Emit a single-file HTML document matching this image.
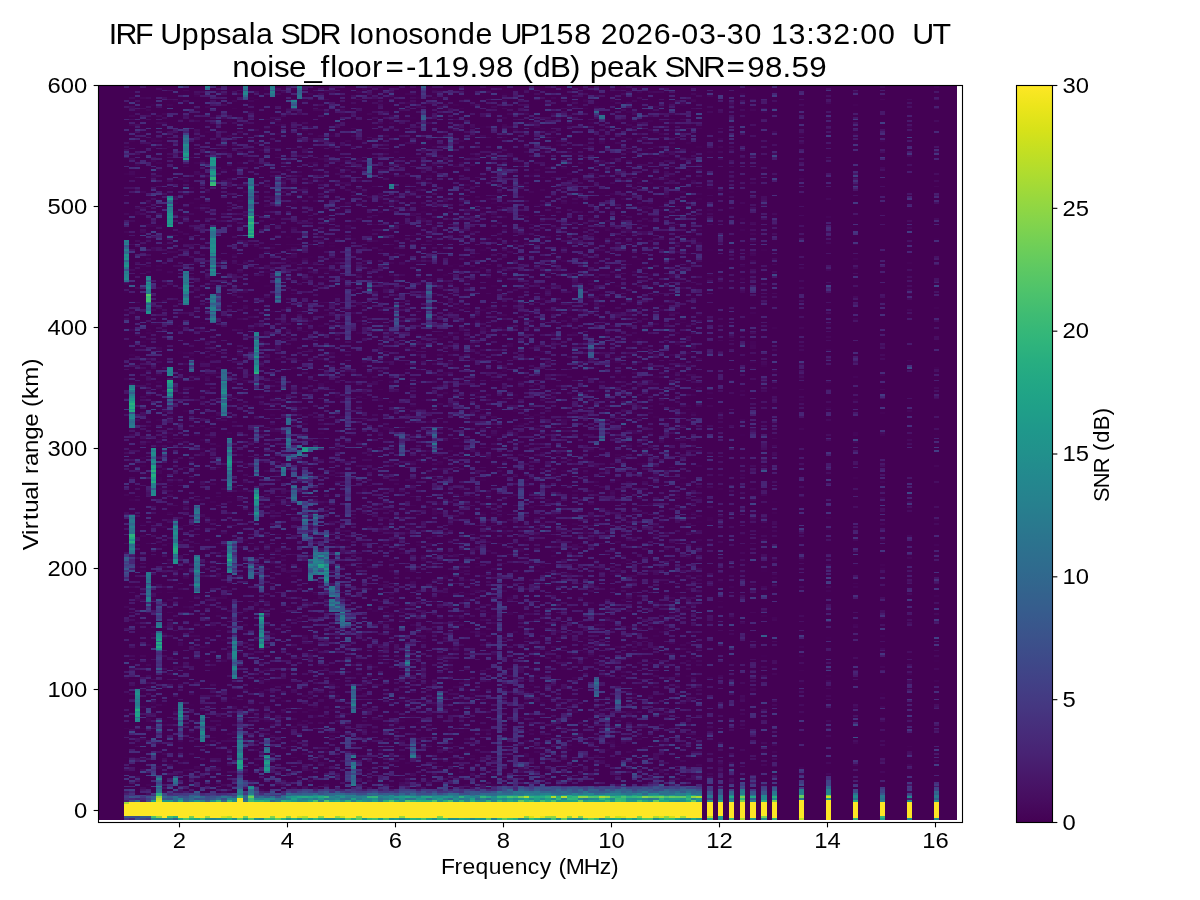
<!DOCTYPE html>
<html><head><meta charset="utf-8"><title>Ionogram</title>
<style>
html,body{margin:0;padding:0;background:#fff;width:1200px;height:900px;overflow:hidden}
svg,canvas{position:absolute;left:0;top:0}
text{font-family:"Liberation Sans",sans-serif;fill:#000;white-space:pre}
</style></head><body>
<svg width="1200" height="900" shape-rendering="crispEdges">
<defs><linearGradient id="vir" x1="0" y1="1" x2="0" y2="0"><stop offset="0.0000" stop-color="#440154"/><stop offset="0.0314" stop-color="#470d60"/><stop offset="0.0627" stop-color="#48186a"/><stop offset="0.0941" stop-color="#482374"/><stop offset="0.1255" stop-color="#472d7b"/><stop offset="0.1569" stop-color="#453781"/><stop offset="0.1882" stop-color="#424086"/><stop offset="0.2196" stop-color="#3e4989"/><stop offset="0.2510" stop-color="#3b528b"/><stop offset="0.2824" stop-color="#375b8d"/><stop offset="0.3137" stop-color="#33638d"/><stop offset="0.3451" stop-color="#2f6b8e"/><stop offset="0.3765" stop-color="#2c728e"/><stop offset="0.4078" stop-color="#297a8e"/><stop offset="0.4392" stop-color="#26828e"/><stop offset="0.4706" stop-color="#23898e"/><stop offset="0.5020" stop-color="#21918c"/><stop offset="0.5333" stop-color="#1f988b"/><stop offset="0.5647" stop-color="#1fa088"/><stop offset="0.5961" stop-color="#22a785"/><stop offset="0.6275" stop-color="#28ae80"/><stop offset="0.6588" stop-color="#32b67a"/><stop offset="0.6902" stop-color="#3fbc73"/><stop offset="0.7216" stop-color="#4ec36b"/><stop offset="0.7529" stop-color="#5ec962"/><stop offset="0.7843" stop-color="#70cf57"/><stop offset="0.8157" stop-color="#84d44b"/><stop offset="0.8471" stop-color="#98d83e"/><stop offset="0.8784" stop-color="#addc30"/><stop offset="0.9098" stop-color="#c2df23"/><stop offset="0.9412" stop-color="#d8e219"/><stop offset="0.9725" stop-color="#ece51b"/><stop offset="1" stop-color="#fde725"/></linearGradient></defs>
<rect x="99" y="86" width="858" height="734" fill="#440154"/>
<rect x="124" y="86" width="5" height="700" fill="#43115f"/><rect x="129" y="86" width="6" height="700" fill="#421963"/><rect x="135" y="86" width="5" height="700" fill="#430f5e"/><rect x="140" y="86" width="6" height="700" fill="#45095c"/><rect x="146" y="86" width="5" height="700" fill="#431661"/><rect x="151" y="86" width="5" height="700" fill="#431561"/><rect x="156" y="86" width="6" height="700" fill="#431462"/><rect x="162" y="86" width="5" height="700" fill="#45095b"/><rect x="167" y="86" width="6" height="700" fill="#421560"/><rect x="173" y="86" width="5" height="700" fill="#43125f"/><rect x="178" y="86" width="5" height="700" fill="#440c5d"/><rect x="183" y="86" width="6" height="700" fill="#421561"/><rect x="189" y="86" width="5" height="700" fill="#450a5c"/><rect x="194" y="86" width="6" height="700" fill="#43105e"/><rect x="200" y="86" width="5" height="700" fill="#440c5c"/><rect x="205" y="86" width="5" height="700" fill="#450b5d"/><rect x="210" y="86" width="6" height="700" fill="#411b63"/><rect x="216" y="86" width="5" height="700" fill="#440a5c"/><rect x="221" y="86" width="6" height="700" fill="#43105f"/><rect x="227" y="86" width="5" height="700" fill="#421661"/><rect x="232" y="86" width="5" height="700" fill="#431462"/><rect x="237" y="86" width="6" height="700" fill="#431361"/><rect x="243" y="86" width="5" height="700" fill="#440d5e"/><rect x="248" y="86" width="6" height="700" fill="#421661"/><rect x="254" y="86" width="5" height="700" fill="#411a63"/><rect x="259" y="86" width="5" height="700" fill="#431260"/><rect x="264" y="86" width="6" height="700" fill="#44105f"/><rect x="270" y="86" width="5" height="700" fill="#450c5d"/><rect x="275" y="86" width="6" height="700" fill="#440f60"/><rect x="281" y="86" width="5" height="700" fill="#450d5e"/><rect x="286" y="86" width="5" height="700" fill="#440e5e"/><rect x="291" y="86" width="6" height="700" fill="#441060"/><rect x="297" y="86" width="5" height="700" fill="#440f5f"/><rect x="302" y="86" width="6" height="700" fill="#441261"/><rect x="308" y="86" width="5" height="700" fill="#44105f"/><rect x="313" y="86" width="5" height="700" fill="#431160"/><rect x="318" y="86" width="6" height="700" fill="#440f5f"/><rect x="324" y="86" width="5" height="700" fill="#431361"/><rect x="329" y="86" width="6" height="700" fill="#441060"/><rect x="335" y="86" width="5" height="700" fill="#441161"/><rect x="340" y="86" width="5" height="700" fill="#440e5e"/><rect x="345" y="86" width="6" height="700" fill="#451868"/><rect x="351" y="86" width="5" height="700" fill="#431261"/><rect x="356" y="86" width="6" height="700" fill="#450a5c"/><rect x="362" y="86" width="5" height="700" fill="#45095c"/><rect x="367" y="86" width="5" height="700" fill="#450e5f"/><rect x="372" y="86" width="6" height="700" fill="#45085b"/><rect x="378" y="86" width="5" height="700" fill="#450a5c"/><rect x="383" y="86" width="6" height="700" fill="#450c5e"/><rect x="389" y="86" width="5" height="700" fill="#450b5d"/><rect x="394" y="86" width="5" height="700" fill="#450d5f"/><rect x="399" y="86" width="6" height="700" fill="#450c5e"/><rect x="405" y="86" width="5" height="700" fill="#450c5e"/><rect x="410" y="86" width="6" height="700" fill="#450e60"/><rect x="416" y="86" width="5" height="700" fill="#450a5c"/><rect x="421" y="86" width="5" height="700" fill="#450e60"/><rect x="426" y="86" width="6" height="700" fill="#450e5f"/><rect x="432" y="86" width="5" height="700" fill="#450e5f"/><rect x="437" y="86" width="6" height="700" fill="#450e5f"/><rect x="443" y="86" width="5" height="700" fill="#450a5d"/><rect x="448" y="86" width="5" height="700" fill="#450d5f"/><rect x="453" y="86" width="6" height="700" fill="#450b5d"/><rect x="459" y="86" width="5" height="700" fill="#450b5d"/><rect x="464" y="86" width="6" height="700" fill="#450d5f"/><rect x="470" y="86" width="5" height="700" fill="#450b5d"/><rect x="475" y="86" width="5" height="700" fill="#450a5c"/><rect x="480" y="86" width="6" height="700" fill="#450a5c"/><rect x="486" y="86" width="5" height="700" fill="#45095c"/><rect x="491" y="86" width="6" height="700" fill="#45095b"/><rect x="497" y="86" width="5" height="700" fill="#451666"/><rect x="502" y="86" width="5" height="700" fill="#450c5e"/><rect x="507" y="86" width="6" height="700" fill="#45095b"/><rect x="513" y="86" width="5" height="700" fill="#451163"/><rect x="518" y="86" width="6" height="700" fill="#450f61"/><rect x="524" y="86" width="5" height="700" fill="#450b5d"/><rect x="529" y="86" width="5" height="700" fill="#450c5e"/><rect x="534" y="86" width="6" height="700" fill="#450c5e"/><rect x="540" y="86" width="5" height="700" fill="#450b5d"/><rect x="545" y="86" width="6" height="700" fill="#450c5e"/><rect x="551" y="86" width="5" height="700" fill="#450c5e"/><rect x="556" y="86" width="5" height="700" fill="#450c5e"/><rect x="561" y="86" width="6" height="700" fill="#450b5e"/><rect x="567" y="86" width="5" height="700" fill="#450b5d"/><rect x="572" y="86" width="6" height="700" fill="#450d5f"/><rect x="578" y="86" width="5" height="700" fill="#450d5f"/><rect x="583" y="86" width="5" height="700" fill="#450c5e"/><rect x="588" y="86" width="6" height="700" fill="#450e5f"/><rect x="594" y="86" width="5" height="700" fill="#450e5f"/><rect x="599" y="86" width="6" height="700" fill="#450e5f"/><rect x="605" y="86" width="5" height="700" fill="#450c5e"/><rect x="610" y="86" width="5" height="700" fill="#450b5d"/><rect x="615" y="86" width="6" height="700" fill="#450e60"/><rect x="621" y="86" width="5" height="700" fill="#450e5f"/><rect x="626" y="86" width="6" height="700" fill="#450c5e"/><rect x="632" y="86" width="5" height="700" fill="#450c5e"/><rect x="637" y="86" width="5" height="700" fill="#450b5d"/><rect x="642" y="86" width="6" height="700" fill="#450d5f"/><rect x="648" y="86" width="5" height="700" fill="#450b5d"/><rect x="653" y="86" width="6" height="700" fill="#450b5d"/><rect x="659" y="86" width="5" height="700" fill="#45095c"/><rect x="664" y="86" width="5" height="700" fill="#450d5f"/><rect x="669" y="86" width="6" height="700" fill="#450c5e"/><rect x="675" y="86" width="5" height="700" fill="#450d5f"/><rect x="680" y="86" width="6" height="700" fill="#450b5d"/><rect x="686" y="86" width="5" height="700" fill="#45095c"/><rect x="691" y="86" width="5" height="700" fill="#450b5d"/><rect x="696" y="86" width="6" height="700" fill="#450b5d"/><rect x="707" y="86" width="6" height="700" fill="#45095b"/><rect x="718" y="86" width="5" height="700" fill="#450a5c"/><rect x="729" y="86" width="5" height="700" fill="#450b5d"/><rect x="740" y="86" width="5" height="700" fill="#45095b"/><rect x="750" y="86" width="6" height="700" fill="#450a5d"/><rect x="761" y="86" width="6" height="700" fill="#450b5d"/><rect x="772" y="86" width="5" height="700" fill="#450a5c"/><rect x="799" y="86" width="5" height="700" fill="#45095b"/><rect x="826" y="86" width="5" height="700" fill="#450b5d"/><rect x="853" y="86" width="5" height="700" fill="#450a5c"/><rect x="880" y="86" width="5" height="700" fill="#45085b"/><rect x="907" y="86" width="5" height="700" fill="#450a5c"/><rect x="934" y="86" width="5" height="700" fill="#45085b"/>
<rect x="1017" y="86" width="35" height="736" fill="url(#vir)"/>
</svg>
<canvas id="cv" width="858" height="734" style="left:99px;top:86px"></canvas>
<svg width="1200" height="900">
<g shape-rendering="crispEdges"><rect x="124" y="802" width="578" height="16" fill="#fde725"/><rect x="124" y="818" width="5" height="2" fill="#453581"/><rect x="124" y="816" width="5" height="2" fill="#3a548c"/><rect x="124" y="802" width="5" height="2" fill="#a5db36"/><rect x="124" y="800" width="5" height="2" fill="#481f70"/><rect x="124" y="798" width="5" height="2" fill="#46327e"/><rect x="124" y="796" width="5" height="2" fill="#443a83"/><rect x="124" y="795" width="5" height="1" fill="#453581"/><rect x="129" y="818" width="6" height="2" fill="#482878"/><rect x="129" y="816" width="6" height="2" fill="#3b518b"/><rect x="129" y="800" width="6" height="2" fill="#3d4d8a"/><rect x="129" y="798" width="6" height="2" fill="#482878"/><rect x="129" y="796" width="6" height="2" fill="#3a538b"/><rect x="129" y="795" width="6" height="1" fill="#46337f"/><rect x="135" y="818" width="5" height="2" fill="#39558c"/><rect x="135" y="816" width="5" height="2" fill="#3c4f8a"/><rect x="135" y="800" width="5" height="2" fill="#30698e"/><rect x="135" y="798" width="5" height="2" fill="#482173"/><rect x="135" y="796" width="5" height="2" fill="#3d4d8a"/><rect x="135" y="795" width="5" height="1" fill="#423f85"/><rect x="140" y="818" width="6" height="2" fill="#404688"/><rect x="140" y="816" width="6" height="2" fill="#355e8d"/><rect x="140" y="800" width="6" height="2" fill="#481d6f"/><rect x="140" y="798" width="6" height="2" fill="#482878"/><rect x="140" y="796" width="6" height="2" fill="#453581"/><rect x="140" y="795" width="6" height="1" fill="#423f85"/><rect x="146" y="818" width="5" height="2" fill="#433d84"/><rect x="146" y="816" width="5" height="2" fill="#375b8d"/><rect x="146" y="800" width="5" height="2" fill="#404688"/><rect x="146" y="798" width="5" height="2" fill="#433e85"/><rect x="146" y="796" width="5" height="2" fill="#3c508b"/><rect x="146" y="795" width="5" height="1" fill="#472d7b"/><rect x="151" y="818" width="5" height="2" fill="#24878e"/><rect x="151" y="816" width="5" height="2" fill="#48c16e"/><rect x="151" y="800" width="5" height="2" fill="#1fa188"/><rect x="151" y="798" width="5" height="2" fill="#38598c"/><rect x="151" y="796" width="5" height="2" fill="#355f8d"/><rect x="151" y="795" width="5" height="1" fill="#46327e"/><rect x="151" y="793" width="5" height="2" fill="#424086"/><rect x="156" y="818" width="6" height="2" fill="#277f8e"/><rect x="156" y="816" width="6" height="2" fill="#90d743"/><rect x="156" y="800" width="6" height="2" fill="#2a768e"/><rect x="156" y="798" width="6" height="2" fill="#287d8e"/><rect x="156" y="796" width="6" height="2" fill="#32648e"/><rect x="156" y="795" width="6" height="1" fill="#3d4d8a"/><rect x="156" y="793" width="6" height="2" fill="#453882"/><rect x="162" y="818" width="5" height="2" fill="#26828e"/><rect x="162" y="800" width="5" height="2" fill="#1f988b"/><rect x="162" y="798" width="5" height="2" fill="#3b528b"/><rect x="162" y="796" width="5" height="2" fill="#306a8e"/><rect x="162" y="795" width="5" height="1" fill="#3c508b"/><rect x="162" y="793" width="5" height="2" fill="#3d4d8a"/><rect x="167" y="818" width="6" height="2" fill="#26818e"/><rect x="167" y="816" width="6" height="2" fill="#44bf70"/><rect x="167" y="800" width="6" height="2" fill="#1f988b"/><rect x="167" y="798" width="6" height="2" fill="#3c4f8a"/><rect x="167" y="796" width="6" height="2" fill="#355e8d"/><rect x="167" y="795" width="6" height="1" fill="#453882"/><rect x="167" y="793" width="6" height="2" fill="#482979"/><rect x="173" y="818" width="5" height="2" fill="#33628d"/><rect x="173" y="816" width="5" height="2" fill="#2ab07f"/><rect x="173" y="800" width="5" height="2" fill="#2d708e"/><rect x="173" y="798" width="5" height="2" fill="#30698e"/><rect x="173" y="796" width="5" height="2" fill="#2c718e"/><rect x="173" y="795" width="5" height="1" fill="#46337f"/><rect x="173" y="793" width="5" height="2" fill="#453882"/><rect x="178" y="818" width="5" height="2" fill="#25ac82"/><rect x="178" y="800" width="5" height="2" fill="#22a785"/><rect x="178" y="798" width="5" height="2" fill="#24878e"/><rect x="178" y="796" width="5" height="2" fill="#3a538b"/><rect x="178" y="795" width="5" height="1" fill="#404588"/><rect x="178" y="793" width="5" height="2" fill="#463480"/><rect x="183" y="818" width="6" height="2" fill="#52c569"/><rect x="183" y="800" width="6" height="2" fill="#31668e"/><rect x="183" y="798" width="6" height="2" fill="#375a8c"/><rect x="183" y="796" width="6" height="2" fill="#3b518b"/><rect x="183" y="795" width="6" height="1" fill="#443b84"/><rect x="183" y="793" width="6" height="2" fill="#443983"/><rect x="189" y="818" width="5" height="2" fill="#29af7f"/><rect x="189" y="816" width="5" height="2" fill="#7ad151"/><rect x="189" y="800" width="5" height="2" fill="#26818e"/><rect x="189" y="798" width="5" height="2" fill="#31688e"/><rect x="189" y="796" width="5" height="2" fill="#33638d"/><rect x="189" y="795" width="5" height="1" fill="#355e8d"/><rect x="189" y="793" width="5" height="2" fill="#424186"/><rect x="194" y="818" width="6" height="2" fill="#23a983"/><rect x="194" y="800" width="6" height="2" fill="#1f998a"/><rect x="194" y="798" width="6" height="2" fill="#3b518b"/><rect x="194" y="796" width="6" height="2" fill="#2c738e"/><rect x="194" y="795" width="6" height="1" fill="#39558c"/><rect x="194" y="793" width="6" height="2" fill="#3f4889"/><rect x="200" y="818" width="5" height="2" fill="#42be71"/><rect x="200" y="800" width="5" height="2" fill="#277f8e"/><rect x="200" y="798" width="5" height="2" fill="#39558c"/><rect x="200" y="796" width="5" height="2" fill="#31668e"/><rect x="200" y="795" width="5" height="1" fill="#46337f"/><rect x="200" y="793" width="5" height="2" fill="#482878"/><rect x="205" y="818" width="5" height="2" fill="#21918c"/><rect x="205" y="816" width="5" height="2" fill="#9dd93b"/><rect x="205" y="800" width="5" height="2" fill="#365c8d"/><rect x="205" y="798" width="5" height="2" fill="#3d4e8a"/><rect x="205" y="796" width="5" height="2" fill="#3d4d8a"/><rect x="205" y="795" width="5" height="1" fill="#463480"/><rect x="205" y="793" width="5" height="2" fill="#463480"/><rect x="210" y="818" width="6" height="2" fill="#26828e"/><rect x="210" y="800" width="6" height="2" fill="#20938c"/><rect x="210" y="798" width="6" height="2" fill="#38598c"/><rect x="210" y="796" width="6" height="2" fill="#3b528b"/><rect x="210" y="795" width="6" height="1" fill="#424186"/><rect x="210" y="793" width="6" height="2" fill="#463480"/><rect x="216" y="818" width="5" height="2" fill="#238a8d"/><rect x="216" y="800" width="5" height="2" fill="#34b679"/><rect x="216" y="798" width="5" height="2" fill="#2e6e8e"/><rect x="216" y="796" width="5" height="2" fill="#355f8d"/><rect x="216" y="795" width="5" height="1" fill="#463480"/><rect x="216" y="793" width="5" height="2" fill="#482979"/><rect x="221" y="818" width="6" height="2" fill="#1e9c89"/><rect x="221" y="816" width="6" height="2" fill="#d5e21a"/><rect x="221" y="800" width="6" height="2" fill="#31678e"/><rect x="221" y="798" width="6" height="2" fill="#3c4f8a"/><rect x="221" y="796" width="6" height="2" fill="#2a768e"/><rect x="221" y="795" width="6" height="1" fill="#3e4989"/><rect x="221" y="793" width="6" height="2" fill="#472a7a"/><rect x="227" y="818" width="5" height="2" fill="#25ac82"/><rect x="227" y="816" width="5" height="2" fill="#b2dd2d"/><rect x="227" y="800" width="5" height="2" fill="#32b67a"/><rect x="227" y="798" width="5" height="2" fill="#24878e"/><rect x="227" y="796" width="5" height="2" fill="#306a8e"/><rect x="227" y="795" width="5" height="1" fill="#433d84"/><rect x="227" y="793" width="5" height="2" fill="#463480"/><rect x="232" y="818" width="5" height="2" fill="#218e8d"/><rect x="232" y="800" width="5" height="2" fill="#228b8d"/><rect x="232" y="798" width="5" height="2" fill="#26828e"/><rect x="232" y="796" width="5" height="2" fill="#39568c"/><rect x="232" y="795" width="5" height="1" fill="#443a83"/><rect x="232" y="793" width="5" height="2" fill="#404688"/><rect x="237" y="818" width="6" height="2" fill="#63cb5f"/><rect x="237" y="800" width="6" height="2" fill="#21a585"/><rect x="237" y="798" width="6" height="2" fill="#25848e"/><rect x="237" y="796" width="6" height="2" fill="#2f6c8e"/><rect x="237" y="795" width="6" height="1" fill="#443b84"/><rect x="237" y="793" width="6" height="2" fill="#443a83"/><rect x="243" y="818" width="5" height="2" fill="#1e9d89"/><rect x="243" y="816" width="5" height="2" fill="#7cd250"/><rect x="243" y="800" width="5" height="2" fill="#2c738e"/><rect x="243" y="798" width="5" height="2" fill="#34608d"/><rect x="243" y="796" width="5" height="2" fill="#30698e"/><rect x="243" y="795" width="5" height="1" fill="#355e8d"/><rect x="243" y="793" width="5" height="2" fill="#453882"/><rect x="248" y="818" width="6" height="2" fill="#5ac864"/><rect x="248" y="800" width="6" height="2" fill="#2eb37c"/><rect x="248" y="798" width="6" height="2" fill="#31678e"/><rect x="248" y="796" width="6" height="2" fill="#3c508b"/><rect x="248" y="795" width="6" height="1" fill="#443b84"/><rect x="248" y="793" width="6" height="2" fill="#472d7b"/><rect x="254" y="818" width="5" height="2" fill="#21918c"/><rect x="254" y="800" width="5" height="2" fill="#28ae80"/><rect x="254" y="798" width="5" height="2" fill="#24868e"/><rect x="254" y="796" width="5" height="2" fill="#355e8d"/><rect x="254" y="795" width="5" height="1" fill="#3c508b"/><rect x="254" y="793" width="5" height="2" fill="#404688"/><rect x="259" y="818" width="5" height="2" fill="#24878e"/><rect x="259" y="800" width="5" height="2" fill="#29af7f"/><rect x="259" y="798" width="5" height="2" fill="#26828e"/><rect x="259" y="796" width="5" height="2" fill="#2f6c8e"/><rect x="259" y="795" width="5" height="1" fill="#3f4788"/><rect x="259" y="793" width="5" height="2" fill="#472d7b"/><rect x="264" y="818" width="6" height="2" fill="#42be71"/><rect x="264" y="800" width="6" height="2" fill="#21a585"/><rect x="264" y="798" width="6" height="2" fill="#218f8d"/><rect x="264" y="796" width="6" height="2" fill="#375a8c"/><rect x="264" y="795" width="6" height="1" fill="#414487"/><rect x="264" y="793" width="6" height="2" fill="#3e4c8a"/><rect x="270" y="818" width="5" height="2" fill="#38b977"/><rect x="270" y="816" width="5" height="2" fill="#86d549"/><rect x="270" y="800" width="5" height="2" fill="#31668e"/><rect x="270" y="798" width="5" height="2" fill="#238a8d"/><rect x="270" y="796" width="5" height="2" fill="#2e6f8e"/><rect x="270" y="795" width="5" height="1" fill="#453781"/><rect x="270" y="793" width="5" height="2" fill="#3f4788"/><rect x="275" y="818" width="6" height="2" fill="#63cb5f"/><rect x="275" y="800" width="6" height="2" fill="#297a8e"/><rect x="275" y="798" width="6" height="2" fill="#2c738e"/><rect x="275" y="796" width="6" height="2" fill="#3e4c8a"/><rect x="275" y="795" width="6" height="1" fill="#46307e"/><rect x="275" y="793" width="6" height="2" fill="#3d4d8a"/><rect x="281" y="818" width="5" height="2" fill="#2fb47c"/><rect x="281" y="800" width="5" height="2" fill="#2cb17e"/><rect x="281" y="798" width="5" height="2" fill="#2f6c8e"/><rect x="281" y="796" width="5" height="2" fill="#2c718e"/><rect x="281" y="795" width="5" height="1" fill="#38588c"/><rect x="281" y="793" width="5" height="2" fill="#472e7c"/><rect x="286" y="818" width="5" height="2" fill="#1f948c"/><rect x="286" y="816" width="5" height="2" fill="#93d741"/><rect x="286" y="800" width="5" height="2" fill="#22a785"/><rect x="286" y="798" width="5" height="2" fill="#29798e"/><rect x="286" y="796" width="5" height="2" fill="#20928c"/><rect x="286" y="795" width="5" height="1" fill="#32658e"/><rect x="286" y="793" width="5" height="2" fill="#2e6d8e"/><rect x="286" y="791" width="5" height="2" fill="#433e85"/><rect x="286" y="789" width="5" height="2" fill="#472e7c"/><rect x="291" y="818" width="6" height="2" fill="#28ae80"/><rect x="291" y="800" width="6" height="2" fill="#1f9a8a"/><rect x="291" y="798" width="6" height="2" fill="#1fa287"/><rect x="291" y="796" width="6" height="2" fill="#1f988b"/><rect x="291" y="795" width="6" height="1" fill="#2b758e"/><rect x="291" y="793" width="6" height="2" fill="#34608d"/><rect x="291" y="791" width="6" height="2" fill="#46307e"/><rect x="291" y="789" width="6" height="2" fill="#472d7b"/><rect x="297" y="818" width="5" height="2" fill="#218f8d"/><rect x="297" y="816" width="5" height="2" fill="#d2e21b"/><rect x="297" y="800" width="5" height="2" fill="#24868e"/><rect x="297" y="798" width="5" height="2" fill="#24868e"/><rect x="297" y="796" width="5" height="2" fill="#21a685"/><rect x="297" y="795" width="5" height="1" fill="#2a768e"/><rect x="297" y="793" width="5" height="2" fill="#375a8c"/><rect x="297" y="791" width="5" height="2" fill="#404588"/><rect x="297" y="789" width="5" height="2" fill="#46327e"/><rect x="302" y="818" width="6" height="2" fill="#40bd72"/><rect x="302" y="816" width="6" height="2" fill="#b8de29"/><rect x="302" y="800" width="6" height="2" fill="#228c8d"/><rect x="302" y="798" width="6" height="2" fill="#297a8e"/><rect x="302" y="796" width="6" height="2" fill="#24aa83"/><rect x="302" y="795" width="6" height="1" fill="#2b748e"/><rect x="302" y="793" width="6" height="2" fill="#33628d"/><rect x="302" y="791" width="6" height="2" fill="#3d4e8a"/><rect x="302" y="789" width="6" height="2" fill="#424086"/><rect x="308" y="818" width="5" height="2" fill="#20a386"/><rect x="308" y="800" width="5" height="2" fill="#1fa188"/><rect x="308" y="798" width="5" height="2" fill="#23898e"/><rect x="308" y="796" width="5" height="2" fill="#20a486"/><rect x="308" y="795" width="5" height="1" fill="#2c728e"/><rect x="308" y="793" width="5" height="2" fill="#34618d"/><rect x="308" y="791" width="5" height="2" fill="#414287"/><rect x="308" y="789" width="5" height="2" fill="#424186"/><rect x="313" y="818" width="5" height="2" fill="#35b779"/><rect x="313" y="800" width="5" height="2" fill="#4ac16d"/><rect x="313" y="798" width="5" height="2" fill="#29798e"/><rect x="313" y="796" width="5" height="2" fill="#1e9c89"/><rect x="313" y="795" width="5" height="1" fill="#24868e"/><rect x="313" y="793" width="5" height="2" fill="#2f6b8e"/><rect x="313" y="791" width="5" height="2" fill="#453581"/><rect x="313" y="789" width="5" height="2" fill="#481f70"/><rect x="318" y="818" width="6" height="2" fill="#20a386"/><rect x="318" y="816" width="6" height="2" fill="#93d741"/><rect x="318" y="800" width="6" height="2" fill="#277e8e"/><rect x="318" y="798" width="6" height="2" fill="#20938c"/><rect x="318" y="796" width="6" height="2" fill="#24aa83"/><rect x="318" y="795" width="6" height="1" fill="#25848e"/><rect x="318" y="793" width="6" height="2" fill="#3a538b"/><rect x="318" y="791" width="6" height="2" fill="#3e4c8a"/><rect x="318" y="789" width="6" height="2" fill="#453581"/><rect x="324" y="818" width="5" height="2" fill="#228c8d"/><rect x="324" y="800" width="5" height="2" fill="#4ec36b"/><rect x="324" y="798" width="5" height="2" fill="#2a768e"/><rect x="324" y="796" width="5" height="2" fill="#31b57b"/><rect x="324" y="795" width="5" height="1" fill="#2d708e"/><rect x="324" y="793" width="5" height="2" fill="#355f8d"/><rect x="324" y="791" width="5" height="2" fill="#39568c"/><rect x="324" y="789" width="5" height="2" fill="#433d84"/><rect x="329" y="818" width="6" height="2" fill="#228d8d"/><rect x="329" y="800" width="6" height="2" fill="#1fa187"/><rect x="329" y="798" width="6" height="2" fill="#277e8e"/><rect x="329" y="796" width="6" height="2" fill="#25848e"/><rect x="329" y="795" width="6" height="1" fill="#2e6d8e"/><rect x="329" y="793" width="6" height="2" fill="#31678e"/><rect x="329" y="791" width="6" height="2" fill="#46307e"/><rect x="329" y="789" width="6" height="2" fill="#46327e"/><rect x="335" y="818" width="5" height="2" fill="#20a386"/><rect x="335" y="816" width="5" height="2" fill="#9dd93b"/><rect x="335" y="800" width="5" height="2" fill="#24aa83"/><rect x="335" y="798" width="5" height="2" fill="#23898e"/><rect x="335" y="796" width="5" height="2" fill="#287c8e"/><rect x="335" y="795" width="5" height="1" fill="#24878e"/><rect x="335" y="793" width="5" height="2" fill="#30698e"/><rect x="335" y="791" width="5" height="2" fill="#39558c"/><rect x="335" y="789" width="5" height="2" fill="#481f70"/><rect x="340" y="818" width="5" height="2" fill="#1f958b"/><rect x="340" y="816" width="5" height="2" fill="#d0e11c"/><rect x="340" y="800" width="5" height="2" fill="#218e8d"/><rect x="340" y="798" width="5" height="2" fill="#2d718e"/><rect x="340" y="796" width="5" height="2" fill="#20938c"/><rect x="340" y="795" width="5" height="1" fill="#25848e"/><rect x="340" y="793" width="5" height="2" fill="#306a8e"/><rect x="340" y="791" width="5" height="2" fill="#443a83"/><rect x="340" y="789" width="5" height="2" fill="#482071"/><rect x="345" y="818" width="6" height="2" fill="#58c765"/><rect x="345" y="800" width="6" height="2" fill="#2ab07f"/><rect x="345" y="798" width="6" height="2" fill="#2e6e8e"/><rect x="345" y="796" width="6" height="2" fill="#287c8e"/><rect x="345" y="795" width="6" height="1" fill="#287c8e"/><rect x="345" y="793" width="6" height="2" fill="#365d8d"/><rect x="345" y="791" width="6" height="2" fill="#46327e"/><rect x="345" y="789" width="6" height="2" fill="#424186"/><rect x="351" y="818" width="5" height="2" fill="#2db27d"/><rect x="351" y="800" width="5" height="2" fill="#277f8e"/><rect x="351" y="798" width="5" height="2" fill="#1f9f88"/><rect x="351" y="796" width="5" height="2" fill="#287d8e"/><rect x="351" y="795" width="5" height="1" fill="#26828e"/><rect x="351" y="793" width="5" height="2" fill="#355e8d"/><rect x="351" y="791" width="5" height="2" fill="#433e85"/><rect x="351" y="789" width="5" height="2" fill="#46327e"/><rect x="356" y="818" width="6" height="2" fill="#58c765"/><rect x="356" y="816" width="6" height="2" fill="#86d549"/><rect x="356" y="800" width="6" height="2" fill="#1fa287"/><rect x="356" y="798" width="6" height="2" fill="#2a778e"/><rect x="356" y="796" width="6" height="2" fill="#277f8e"/><rect x="356" y="795" width="6" height="1" fill="#31668e"/><rect x="356" y="793" width="6" height="2" fill="#3c4f8a"/><rect x="356" y="791" width="6" height="2" fill="#453882"/><rect x="356" y="789" width="6" height="2" fill="#482878"/><rect x="362" y="818" width="5" height="2" fill="#1f988b"/><rect x="362" y="800" width="5" height="2" fill="#21908d"/><rect x="362" y="798" width="5" height="2" fill="#23888e"/><rect x="362" y="796" width="5" height="2" fill="#25838e"/><rect x="362" y="795" width="5" height="1" fill="#2e6e8e"/><rect x="362" y="793" width="5" height="2" fill="#3d4e8a"/><rect x="362" y="791" width="5" height="2" fill="#443a83"/><rect x="362" y="789" width="5" height="2" fill="#481b6d"/><rect x="367" y="818" width="5" height="2" fill="#3aba76"/><rect x="367" y="800" width="5" height="2" fill="#24878e"/><rect x="367" y="798" width="5" height="2" fill="#24868e"/><rect x="367" y="796" width="5" height="2" fill="#2fb47c"/><rect x="367" y="795" width="5" height="1" fill="#32648e"/><rect x="367" y="793" width="5" height="2" fill="#306a8e"/><rect x="367" y="791" width="5" height="2" fill="#424186"/><rect x="367" y="789" width="5" height="2" fill="#472f7d"/><rect x="372" y="818" width="6" height="2" fill="#48c16e"/><rect x="372" y="800" width="6" height="2" fill="#1fa188"/><rect x="372" y="798" width="6" height="2" fill="#1f948c"/><rect x="372" y="796" width="6" height="2" fill="#34b679"/><rect x="372" y="795" width="6" height="1" fill="#2e6e8e"/><rect x="372" y="793" width="6" height="2" fill="#2f6b8e"/><rect x="372" y="791" width="6" height="2" fill="#3e4c8a"/><rect x="372" y="789" width="6" height="2" fill="#453581"/><rect x="378" y="818" width="5" height="2" fill="#1fa188"/><rect x="378" y="800" width="5" height="2" fill="#287d8e"/><rect x="378" y="798" width="5" height="2" fill="#2d718e"/><rect x="378" y="796" width="5" height="2" fill="#287d8e"/><rect x="378" y="795" width="5" height="1" fill="#277e8e"/><rect x="378" y="793" width="5" height="2" fill="#39568c"/><rect x="378" y="791" width="5" height="2" fill="#453781"/><rect x="378" y="789" width="5" height="2" fill="#481d6f"/><rect x="383" y="818" width="6" height="2" fill="#4ac16d"/><rect x="383" y="800" width="6" height="2" fill="#27ad81"/><rect x="383" y="798" width="6" height="2" fill="#297a8e"/><rect x="383" y="796" width="6" height="2" fill="#24878e"/><rect x="383" y="795" width="6" height="1" fill="#2f6c8e"/><rect x="383" y="793" width="6" height="2" fill="#355e8d"/><rect x="383" y="791" width="6" height="2" fill="#453581"/><rect x="383" y="789" width="6" height="2" fill="#472d7b"/><rect x="389" y="818" width="5" height="2" fill="#1f958b"/><rect x="389" y="800" width="5" height="2" fill="#50c46a"/><rect x="389" y="798" width="5" height="2" fill="#228b8d"/><rect x="389" y="796" width="5" height="2" fill="#23888e"/><rect x="389" y="795" width="5" height="1" fill="#24878e"/><rect x="389" y="793" width="5" height="2" fill="#38598c"/><rect x="389" y="791" width="5" height="2" fill="#433e85"/><rect x="389" y="789" width="5" height="2" fill="#481a6c"/><rect x="394" y="818" width="5" height="2" fill="#1f9f88"/><rect x="394" y="800" width="5" height="2" fill="#1fa188"/><rect x="394" y="798" width="5" height="2" fill="#2b758e"/><rect x="394" y="796" width="5" height="2" fill="#1f988b"/><rect x="394" y="795" width="5" height="1" fill="#34608d"/><rect x="394" y="793" width="5" height="2" fill="#39568c"/><rect x="394" y="791" width="5" height="2" fill="#46337f"/><rect x="394" y="789" width="5" height="2" fill="#472c7a"/><rect x="399" y="818" width="6" height="2" fill="#25838e"/><rect x="399" y="816" width="6" height="2" fill="#9bd93c"/><rect x="399" y="800" width="6" height="2" fill="#228b8d"/><rect x="399" y="798" width="6" height="2" fill="#218e8d"/><rect x="399" y="796" width="6" height="2" fill="#1f9a8a"/><rect x="399" y="795" width="6" height="1" fill="#277e8e"/><rect x="399" y="793" width="6" height="2" fill="#32658e"/><rect x="399" y="791" width="6" height="2" fill="#3e4c8a"/><rect x="399" y="789" width="6" height="2" fill="#423f85"/><rect x="405" y="818" width="5" height="2" fill="#1fa088"/><rect x="405" y="800" width="5" height="2" fill="#52c569"/><rect x="405" y="798" width="5" height="2" fill="#2c718e"/><rect x="405" y="796" width="5" height="2" fill="#21a685"/><rect x="405" y="795" width="5" height="1" fill="#297a8e"/><rect x="405" y="793" width="5" height="2" fill="#3c4f8a"/><rect x="405" y="791" width="5" height="2" fill="#3c508b"/><rect x="405" y="789" width="5" height="2" fill="#423f85"/><rect x="410" y="818" width="6" height="2" fill="#2db27d"/><rect x="410" y="800" width="6" height="2" fill="#37b878"/><rect x="410" y="798" width="6" height="2" fill="#2d718e"/><rect x="410" y="796" width="6" height="2" fill="#1f9a8a"/><rect x="410" y="795" width="6" height="1" fill="#2b748e"/><rect x="410" y="793" width="6" height="2" fill="#2f6b8e"/><rect x="410" y="791" width="6" height="2" fill="#3c4f8a"/><rect x="410" y="789" width="6" height="2" fill="#433d84"/><rect x="416" y="818" width="5" height="2" fill="#28ae80"/><rect x="416" y="800" width="5" height="2" fill="#28ae80"/><rect x="416" y="798" width="5" height="2" fill="#1f948c"/><rect x="416" y="796" width="5" height="2" fill="#24878e"/><rect x="416" y="795" width="5" height="1" fill="#34618d"/><rect x="416" y="793" width="5" height="2" fill="#3b528b"/><rect x="416" y="791" width="5" height="2" fill="#433e85"/><rect x="416" y="789" width="5" height="2" fill="#481f70"/><rect x="421" y="818" width="5" height="2" fill="#4ac16d"/><rect x="421" y="800" width="5" height="2" fill="#24aa83"/><rect x="421" y="798" width="5" height="2" fill="#21918c"/><rect x="421" y="796" width="5" height="2" fill="#20a386"/><rect x="421" y="795" width="5" height="1" fill="#2c738e"/><rect x="421" y="793" width="5" height="2" fill="#3d4e8a"/><rect x="421" y="791" width="5" height="2" fill="#3c4f8a"/><rect x="421" y="789" width="5" height="2" fill="#443983"/><rect x="426" y="818" width="6" height="2" fill="#22a884"/><rect x="426" y="800" width="6" height="2" fill="#26ad81"/><rect x="426" y="798" width="6" height="2" fill="#2f6c8e"/><rect x="426" y="796" width="6" height="2" fill="#22a785"/><rect x="426" y="795" width="6" height="1" fill="#306a8e"/><rect x="426" y="793" width="6" height="2" fill="#3c508b"/><rect x="426" y="791" width="6" height="2" fill="#443a83"/><rect x="426" y="789" width="6" height="2" fill="#443983"/><rect x="432" y="818" width="5" height="2" fill="#21918c"/><rect x="432" y="800" width="5" height="2" fill="#50c46a"/><rect x="432" y="798" width="5" height="2" fill="#23888e"/><rect x="432" y="796" width="5" height="2" fill="#21918c"/><rect x="432" y="795" width="5" height="1" fill="#2c738e"/><rect x="432" y="793" width="5" height="2" fill="#31668e"/><rect x="432" y="791" width="5" height="2" fill="#3d4e8a"/><rect x="432" y="789" width="5" height="2" fill="#463480"/><rect x="437" y="818" width="6" height="2" fill="#2eb37c"/><rect x="437" y="816" width="6" height="2" fill="#89d548"/><rect x="437" y="800" width="6" height="2" fill="#228d8d"/><rect x="437" y="798" width="6" height="2" fill="#1f988b"/><rect x="437" y="796" width="6" height="2" fill="#228c8d"/><rect x="437" y="795" width="6" height="1" fill="#2a778e"/><rect x="437" y="793" width="6" height="2" fill="#3d4e8a"/><rect x="437" y="791" width="6" height="2" fill="#46327e"/><rect x="437" y="789" width="6" height="2" fill="#482576"/><rect x="443" y="818" width="5" height="2" fill="#32b67a"/><rect x="443" y="800" width="5" height="2" fill="#27ad81"/><rect x="443" y="798" width="5" height="2" fill="#297b8e"/><rect x="443" y="796" width="5" height="2" fill="#1f998a"/><rect x="443" y="795" width="5" height="1" fill="#2c728e"/><rect x="443" y="793" width="5" height="2" fill="#355e8d"/><rect x="443" y="791" width="5" height="2" fill="#463480"/><rect x="443" y="789" width="5" height="2" fill="#423f85"/><rect x="448" y="818" width="5" height="2" fill="#21908d"/><rect x="448" y="800" width="5" height="2" fill="#4ac16d"/><rect x="448" y="798" width="5" height="2" fill="#30698e"/><rect x="448" y="796" width="5" height="2" fill="#1f958b"/><rect x="448" y="795" width="5" height="1" fill="#26818e"/><rect x="448" y="793" width="5" height="2" fill="#2e6f8e"/><rect x="448" y="791" width="5" height="2" fill="#424186"/><rect x="448" y="789" width="5" height="2" fill="#482576"/><rect x="453" y="818" width="6" height="2" fill="#21918c"/><rect x="453" y="800" width="6" height="2" fill="#23898e"/><rect x="453" y="798" width="6" height="2" fill="#218e8d"/><rect x="453" y="796" width="6" height="2" fill="#26828e"/><rect x="453" y="795" width="6" height="1" fill="#2b758e"/><rect x="453" y="793" width="6" height="2" fill="#2e6f8e"/><rect x="453" y="791" width="6" height="2" fill="#453581"/><rect x="453" y="789" width="6" height="2" fill="#433d84"/><rect x="459" y="818" width="5" height="2" fill="#23a983"/><rect x="459" y="800" width="5" height="2" fill="#2ab07f"/><rect x="459" y="798" width="5" height="2" fill="#2a778e"/><rect x="459" y="796" width="5" height="2" fill="#2cb17e"/><rect x="459" y="795" width="5" height="1" fill="#2c738e"/><rect x="459" y="793" width="5" height="2" fill="#3d4e8a"/><rect x="459" y="791" width="5" height="2" fill="#472f7d"/><rect x="459" y="789" width="5" height="2" fill="#472f7d"/><rect x="464" y="818" width="6" height="2" fill="#20a486"/><rect x="464" y="800" width="6" height="2" fill="#25838e"/><rect x="464" y="798" width="6" height="2" fill="#277e8e"/><rect x="464" y="796" width="6" height="2" fill="#228c8d"/><rect x="464" y="795" width="6" height="1" fill="#26828e"/><rect x="464" y="793" width="6" height="2" fill="#3d4e8a"/><rect x="464" y="791" width="6" height="2" fill="#3d4e8a"/><rect x="464" y="789" width="6" height="2" fill="#433e85"/><rect x="470" y="818" width="5" height="2" fill="#238a8d"/><rect x="470" y="800" width="5" height="2" fill="#2cb17e"/><rect x="470" y="798" width="5" height="2" fill="#1fa187"/><rect x="470" y="796" width="5" height="2" fill="#228b8d"/><rect x="470" y="795" width="5" height="1" fill="#2e6f8e"/><rect x="470" y="793" width="5" height="2" fill="#365c8d"/><rect x="470" y="791" width="5" height="2" fill="#39568c"/><rect x="470" y="789" width="5" height="2" fill="#46337f"/><rect x="475" y="818" width="5" height="2" fill="#1e9d89"/><rect x="475" y="800" width="5" height="2" fill="#218e8d"/><rect x="475" y="798" width="5" height="2" fill="#2f6b8e"/><rect x="475" y="796" width="5" height="2" fill="#277f8e"/><rect x="475" y="795" width="5" height="1" fill="#26828e"/><rect x="475" y="793" width="5" height="2" fill="#38588c"/><rect x="475" y="791" width="5" height="2" fill="#3a548c"/><rect x="475" y="789" width="5" height="2" fill="#482475"/><rect x="480" y="818" width="6" height="2" fill="#1f958b"/><rect x="480" y="800" width="6" height="2" fill="#24878e"/><rect x="480" y="798" width="6" height="2" fill="#27808e"/><rect x="480" y="796" width="6" height="2" fill="#31b57b"/><rect x="480" y="795" width="6" height="1" fill="#25838e"/><rect x="480" y="793" width="6" height="2" fill="#306a8e"/><rect x="480" y="791" width="6" height="2" fill="#3f4889"/><rect x="480" y="789" width="6" height="2" fill="#424086"/><rect x="486" y="818" width="5" height="2" fill="#5ac864"/><rect x="486" y="800" width="5" height="2" fill="#2cb17e"/><rect x="486" y="798" width="5" height="2" fill="#2f6b8e"/><rect x="486" y="796" width="5" height="2" fill="#22a785"/><rect x="486" y="795" width="5" height="1" fill="#2c728e"/><rect x="486" y="793" width="5" height="2" fill="#31688e"/><rect x="486" y="791" width="5" height="2" fill="#3e4989"/><rect x="486" y="789" width="5" height="2" fill="#482677"/><rect x="491" y="818" width="6" height="2" fill="#25848e"/><rect x="491" y="800" width="6" height="2" fill="#26828e"/><rect x="491" y="798" width="6" height="2" fill="#24868e"/><rect x="491" y="796" width="6" height="2" fill="#218e8d"/><rect x="491" y="795" width="6" height="1" fill="#2f6c8e"/><rect x="491" y="793" width="6" height="2" fill="#31688e"/><rect x="491" y="791" width="6" height="2" fill="#39558c"/><rect x="491" y="789" width="6" height="2" fill="#482576"/><rect x="497" y="818" width="5" height="2" fill="#2fb47c"/><rect x="497" y="800" width="5" height="2" fill="#2fb47c"/><rect x="497" y="798" width="5" height="2" fill="#20928c"/><rect x="497" y="796" width="5" height="2" fill="#2fb47c"/><rect x="497" y="795" width="5" height="1" fill="#24868e"/><rect x="497" y="793" width="5" height="2" fill="#2e6f8e"/><rect x="497" y="791" width="5" height="2" fill="#2b758e"/><rect x="497" y="789" width="5" height="2" fill="#39568c"/><rect x="497" y="787" width="5" height="2" fill="#424086"/><rect x="497" y="786" width="5" height="1" fill="#3e4989"/><rect x="502" y="818" width="5" height="2" fill="#65cb5e"/><rect x="502" y="800" width="5" height="2" fill="#20938c"/><rect x="502" y="798" width="5" height="2" fill="#25848e"/><rect x="502" y="796" width="5" height="2" fill="#28ae80"/><rect x="502" y="795" width="5" height="1" fill="#218e8d"/><rect x="502" y="793" width="5" height="2" fill="#2f6b8e"/><rect x="502" y="791" width="5" height="2" fill="#355f8d"/><rect x="502" y="789" width="5" height="2" fill="#3d4e8a"/><rect x="502" y="787" width="5" height="2" fill="#3e4a89"/><rect x="502" y="786" width="5" height="1" fill="#3e4989"/><rect x="507" y="818" width="6" height="2" fill="#3bbb75"/><rect x="507" y="800" width="6" height="2" fill="#23a983"/><rect x="507" y="798" width="6" height="2" fill="#1f9a8a"/><rect x="507" y="796" width="6" height="2" fill="#4ac16d"/><rect x="507" y="795" width="6" height="1" fill="#218e8d"/><rect x="507" y="793" width="6" height="2" fill="#306a8e"/><rect x="507" y="791" width="6" height="2" fill="#34608d"/><rect x="507" y="789" width="6" height="2" fill="#31678e"/><rect x="507" y="787" width="6" height="2" fill="#433e85"/><rect x="507" y="786" width="6" height="1" fill="#443a83"/><rect x="513" y="818" width="5" height="2" fill="#2db27d"/><rect x="513" y="800" width="5" height="2" fill="#1f998a"/><rect x="513" y="798" width="5" height="2" fill="#23898e"/><rect x="513" y="796" width="5" height="2" fill="#38b977"/><rect x="513" y="795" width="5" height="1" fill="#21908d"/><rect x="513" y="793" width="5" height="2" fill="#2a768e"/><rect x="513" y="791" width="5" height="2" fill="#2a768e"/><rect x="513" y="789" width="5" height="2" fill="#33638d"/><rect x="513" y="787" width="5" height="2" fill="#3a538b"/><rect x="513" y="786" width="5" height="1" fill="#482576"/><rect x="518" y="818" width="6" height="2" fill="#26828e"/><rect x="518" y="800" width="6" height="2" fill="#65cb5e"/><rect x="518" y="798" width="6" height="2" fill="#1f968b"/><rect x="518" y="796" width="6" height="2" fill="#6ccd5a"/><rect x="518" y="795" width="6" height="1" fill="#26818e"/><rect x="518" y="793" width="6" height="2" fill="#2b748e"/><rect x="518" y="791" width="6" height="2" fill="#2a768e"/><rect x="518" y="789" width="6" height="2" fill="#33628d"/><rect x="518" y="787" width="6" height="2" fill="#3b528b"/><rect x="518" y="786" width="6" height="1" fill="#3d4d8a"/><rect x="524" y="818" width="5" height="2" fill="#1f948c"/><rect x="524" y="816" width="5" height="2" fill="#8bd646"/><rect x="524" y="800" width="5" height="2" fill="#2cb17e"/><rect x="524" y="798" width="5" height="2" fill="#20a386"/><rect x="524" y="796" width="5" height="2" fill="#b0dd2f"/><rect x="524" y="795" width="5" height="1" fill="#1e9d89"/><rect x="524" y="793" width="5" height="2" fill="#287d8e"/><rect x="524" y="791" width="5" height="2" fill="#2d718e"/><rect x="524" y="789" width="5" height="2" fill="#39558c"/><rect x="524" y="787" width="5" height="2" fill="#3e4a89"/><rect x="524" y="786" width="5" height="1" fill="#482677"/><rect x="529" y="818" width="5" height="2" fill="#40bd72"/><rect x="529" y="816" width="5" height="2" fill="#dfe318"/><rect x="529" y="800" width="5" height="2" fill="#3bbb75"/><rect x="529" y="798" width="5" height="2" fill="#228c8d"/><rect x="529" y="796" width="5" height="2" fill="#2cb17e"/><rect x="529" y="795" width="5" height="1" fill="#238a8d"/><rect x="529" y="793" width="5" height="2" fill="#287d8e"/><rect x="529" y="791" width="5" height="2" fill="#2e6f8e"/><rect x="529" y="789" width="5" height="2" fill="#3f4889"/><rect x="529" y="787" width="5" height="2" fill="#443b84"/><rect x="529" y="786" width="5" height="1" fill="#443a83"/><rect x="534" y="818" width="6" height="2" fill="#28ae80"/><rect x="534" y="800" width="6" height="2" fill="#1f9a8a"/><rect x="534" y="798" width="6" height="2" fill="#1f9f88"/><rect x="534" y="796" width="6" height="2" fill="#23a983"/><rect x="534" y="795" width="6" height="1" fill="#228c8d"/><rect x="534" y="793" width="6" height="2" fill="#2a778e"/><rect x="534" y="791" width="6" height="2" fill="#2a778e"/><rect x="534" y="789" width="6" height="2" fill="#365c8d"/><rect x="534" y="787" width="6" height="2" fill="#3a538b"/><rect x="534" y="786" width="6" height="1" fill="#443983"/><rect x="540" y="818" width="5" height="2" fill="#20928c"/><rect x="540" y="816" width="5" height="2" fill="#e5e419"/><rect x="540" y="800" width="5" height="2" fill="#44bf70"/><rect x="540" y="798" width="5" height="2" fill="#228c8d"/><rect x="540" y="796" width="5" height="2" fill="#24aa83"/><rect x="540" y="795" width="5" height="1" fill="#1f948c"/><rect x="540" y="793" width="5" height="2" fill="#277e8e"/><rect x="540" y="791" width="5" height="2" fill="#32658e"/><rect x="540" y="789" width="5" height="2" fill="#3d4e8a"/><rect x="540" y="787" width="5" height="2" fill="#3d4e8a"/><rect x="540" y="786" width="5" height="1" fill="#3e4a89"/><rect x="545" y="818" width="6" height="2" fill="#20928c"/><rect x="545" y="816" width="6" height="2" fill="#9dd93b"/><rect x="545" y="800" width="6" height="2" fill="#24aa83"/><rect x="545" y="798" width="6" height="2" fill="#20a386"/><rect x="545" y="796" width="6" height="2" fill="#32b67a"/><rect x="545" y="795" width="6" height="1" fill="#1fa088"/><rect x="545" y="793" width="6" height="2" fill="#27808e"/><rect x="545" y="791" width="6" height="2" fill="#31688e"/><rect x="545" y="789" width="6" height="2" fill="#3e4c8a"/><rect x="545" y="787" width="6" height="2" fill="#39558c"/><rect x="545" y="786" width="6" height="1" fill="#46327e"/><rect x="551" y="818" width="5" height="2" fill="#46c06f"/><rect x="551" y="816" width="5" height="2" fill="#90d743"/><rect x="551" y="800" width="5" height="2" fill="#4ec36b"/><rect x="551" y="798" width="5" height="2" fill="#228b8d"/><rect x="551" y="796" width="5" height="2" fill="#b2dd2d"/><rect x="551" y="795" width="5" height="1" fill="#1f948c"/><rect x="551" y="793" width="5" height="2" fill="#2e6e8e"/><rect x="551" y="791" width="5" height="2" fill="#355f8d"/><rect x="551" y="789" width="5" height="2" fill="#3a538b"/><rect x="551" y="787" width="5" height="2" fill="#3d4d8a"/><rect x="551" y="786" width="5" height="1" fill="#3e4c8a"/><rect x="556" y="818" width="5" height="2" fill="#228c8d"/><rect x="556" y="800" width="5" height="2" fill="#1f998a"/><rect x="556" y="798" width="5" height="2" fill="#32b67a"/><rect x="556" y="796" width="5" height="2" fill="#2db27d"/><rect x="556" y="795" width="5" height="1" fill="#26828e"/><rect x="556" y="793" width="5" height="2" fill="#306a8e"/><rect x="556" y="791" width="5" height="2" fill="#32648e"/><rect x="556" y="789" width="5" height="2" fill="#32658e"/><rect x="556" y="787" width="5" height="2" fill="#3a538b"/><rect x="556" y="786" width="5" height="1" fill="#414287"/><rect x="561" y="818" width="6" height="2" fill="#65cb5e"/><rect x="561" y="800" width="6" height="2" fill="#1fa287"/><rect x="561" y="798" width="6" height="2" fill="#25848e"/><rect x="561" y="796" width="6" height="2" fill="#b0dd2f"/><rect x="561" y="795" width="6" height="1" fill="#1f9e89"/><rect x="561" y="793" width="6" height="2" fill="#30698e"/><rect x="561" y="791" width="6" height="2" fill="#2e6e8e"/><rect x="561" y="789" width="6" height="2" fill="#3b528b"/><rect x="561" y="787" width="6" height="2" fill="#404588"/><rect x="561" y="786" width="6" height="1" fill="#46337f"/><rect x="567" y="818" width="5" height="2" fill="#218e8d"/><rect x="567" y="816" width="5" height="2" fill="#98d83e"/><rect x="567" y="800" width="5" height="2" fill="#20a486"/><rect x="567" y="798" width="5" height="2" fill="#31b57b"/><rect x="567" y="796" width="5" height="2" fill="#2ab07f"/><rect x="567" y="795" width="5" height="1" fill="#21a685"/><rect x="567" y="793" width="5" height="2" fill="#2e6f8e"/><rect x="567" y="791" width="5" height="2" fill="#33638d"/><rect x="567" y="789" width="5" height="2" fill="#33628d"/><rect x="567" y="787" width="5" height="2" fill="#3b518b"/><rect x="567" y="786" width="5" height="1" fill="#453781"/><rect x="572" y="818" width="6" height="2" fill="#25848e"/><rect x="572" y="800" width="6" height="2" fill="#21a685"/><rect x="572" y="798" width="6" height="2" fill="#2eb37c"/><rect x="572" y="796" width="6" height="2" fill="#32b67a"/><rect x="572" y="795" width="6" height="1" fill="#218f8d"/><rect x="572" y="793" width="6" height="2" fill="#25848e"/><rect x="572" y="791" width="6" height="2" fill="#38588c"/><rect x="572" y="789" width="6" height="2" fill="#3a538b"/><rect x="572" y="787" width="6" height="2" fill="#3b518b"/><rect x="572" y="786" width="6" height="1" fill="#404588"/><rect x="578" y="818" width="5" height="2" fill="#25838e"/><rect x="578" y="816" width="5" height="2" fill="#81d34d"/><rect x="578" y="800" width="5" height="2" fill="#69cd5b"/><rect x="578" y="798" width="5" height="2" fill="#23888e"/><rect x="578" y="796" width="5" height="2" fill="#89d548"/><rect x="578" y="795" width="5" height="1" fill="#20a486"/><rect x="578" y="793" width="5" height="2" fill="#2c738e"/><rect x="578" y="791" width="5" height="2" fill="#34608d"/><rect x="578" y="789" width="5" height="2" fill="#31678e"/><rect x="578" y="787" width="5" height="2" fill="#3e4c8a"/><rect x="578" y="786" width="5" height="1" fill="#472f7d"/><rect x="583" y="818" width="5" height="2" fill="#37b878"/><rect x="583" y="800" width="5" height="2" fill="#1f9e89"/><rect x="583" y="798" width="5" height="2" fill="#2a788e"/><rect x="583" y="796" width="5" height="2" fill="#8bd646"/><rect x="583" y="795" width="5" height="1" fill="#20a486"/><rect x="583" y="793" width="5" height="2" fill="#287d8e"/><rect x="583" y="791" width="5" height="2" fill="#2a768e"/><rect x="583" y="789" width="5" height="2" fill="#404588"/><rect x="583" y="787" width="5" height="2" fill="#424086"/><rect x="583" y="786" width="5" height="1" fill="#443983"/><rect x="588" y="818" width="6" height="2" fill="#5ec962"/><rect x="588" y="800" width="6" height="2" fill="#22a785"/><rect x="588" y="798" width="6" height="2" fill="#23888e"/><rect x="588" y="796" width="6" height="2" fill="#52c569"/><rect x="588" y="795" width="6" height="1" fill="#20938c"/><rect x="588" y="793" width="6" height="2" fill="#24868e"/><rect x="588" y="791" width="6" height="2" fill="#365d8d"/><rect x="588" y="789" width="6" height="2" fill="#34618d"/><rect x="588" y="787" width="6" height="2" fill="#3c4f8a"/><rect x="588" y="786" width="6" height="1" fill="#404688"/><rect x="594" y="818" width="5" height="2" fill="#3fbc73"/><rect x="594" y="800" width="5" height="2" fill="#1fa287"/><rect x="594" y="798" width="5" height="2" fill="#228d8d"/><rect x="594" y="796" width="5" height="2" fill="#48c16e"/><rect x="594" y="795" width="5" height="1" fill="#1fa088"/><rect x="594" y="793" width="5" height="2" fill="#2f6b8e"/><rect x="594" y="791" width="5" height="2" fill="#355e8d"/><rect x="594" y="789" width="5" height="2" fill="#34608d"/><rect x="594" y="787" width="5" height="2" fill="#424186"/><rect x="594" y="786" width="5" height="1" fill="#482878"/><rect x="599" y="818" width="6" height="2" fill="#26828e"/><rect x="599" y="800" width="6" height="2" fill="#1fa287"/><rect x="599" y="798" width="6" height="2" fill="#34b679"/><rect x="599" y="796" width="6" height="2" fill="#a5db36"/><rect x="599" y="795" width="6" height="1" fill="#22a785"/><rect x="599" y="793" width="6" height="2" fill="#2d718e"/><rect x="599" y="791" width="6" height="2" fill="#375a8c"/><rect x="599" y="789" width="6" height="2" fill="#3f4788"/><rect x="599" y="787" width="6" height="2" fill="#3f4889"/><rect x="599" y="786" width="6" height="1" fill="#414287"/><rect x="605" y="818" width="5" height="2" fill="#20a386"/><rect x="605" y="816" width="5" height="2" fill="#a8db34"/><rect x="605" y="800" width="5" height="2" fill="#38b977"/><rect x="605" y="798" width="5" height="2" fill="#20a386"/><rect x="605" y="796" width="5" height="2" fill="#89d548"/><rect x="605" y="795" width="5" height="1" fill="#1fa187"/><rect x="605" y="793" width="5" height="2" fill="#277e8e"/><rect x="605" y="791" width="5" height="2" fill="#375b8d"/><rect x="605" y="789" width="5" height="2" fill="#33638d"/><rect x="605" y="787" width="5" height="2" fill="#414287"/><rect x="605" y="786" width="5" height="1" fill="#433d84"/><rect x="610" y="818" width="5" height="2" fill="#1f9e89"/><rect x="610" y="800" width="5" height="2" fill="#1f988b"/><rect x="610" y="798" width="5" height="2" fill="#23888e"/><rect x="610" y="796" width="5" height="2" fill="#38b977"/><rect x="610" y="795" width="5" height="1" fill="#24868e"/><rect x="610" y="793" width="5" height="2" fill="#25848e"/><rect x="610" y="791" width="5" height="2" fill="#2f6b8e"/><rect x="610" y="789" width="5" height="2" fill="#3c508b"/><rect x="610" y="787" width="5" height="2" fill="#404688"/><rect x="610" y="786" width="5" height="1" fill="#3d4d8a"/><rect x="615" y="818" width="6" height="2" fill="#23a983"/><rect x="615" y="816" width="6" height="2" fill="#d2e21b"/><rect x="615" y="800" width="6" height="2" fill="#3dbc74"/><rect x="615" y="798" width="6" height="2" fill="#34b679"/><rect x="615" y="796" width="6" height="2" fill="#29af7f"/><rect x="615" y="795" width="6" height="1" fill="#20938c"/><rect x="615" y="793" width="6" height="2" fill="#26828e"/><rect x="615" y="791" width="6" height="2" fill="#2c738e"/><rect x="615" y="789" width="6" height="2" fill="#32658e"/><rect x="615" y="787" width="6" height="2" fill="#443b84"/><rect x="615" y="786" width="6" height="1" fill="#46307e"/><rect x="621" y="818" width="5" height="2" fill="#238a8d"/><rect x="621" y="816" width="5" height="2" fill="#e5e419"/><rect x="621" y="800" width="5" height="2" fill="#34b679"/><rect x="621" y="798" width="5" height="2" fill="#2eb37c"/><rect x="621" y="796" width="5" height="2" fill="#48c16e"/><rect x="621" y="795" width="5" height="1" fill="#1fa287"/><rect x="621" y="793" width="5" height="2" fill="#2a768e"/><rect x="621" y="791" width="5" height="2" fill="#34608d"/><rect x="621" y="789" width="5" height="2" fill="#34608d"/><rect x="621" y="787" width="5" height="2" fill="#39558c"/><rect x="621" y="786" width="5" height="1" fill="#482979"/><rect x="626" y="818" width="6" height="2" fill="#29af7f"/><rect x="626" y="800" width="6" height="2" fill="#1f998a"/><rect x="626" y="798" width="6" height="2" fill="#21908d"/><rect x="626" y="796" width="6" height="2" fill="#2db27d"/><rect x="626" y="795" width="6" height="1" fill="#23888e"/><rect x="626" y="793" width="6" height="2" fill="#2d718e"/><rect x="626" y="791" width="6" height="2" fill="#2f6b8e"/><rect x="626" y="789" width="6" height="2" fill="#365c8d"/><rect x="626" y="787" width="6" height="2" fill="#424086"/><rect x="626" y="786" width="6" height="1" fill="#482576"/><rect x="632" y="818" width="5" height="2" fill="#1f9a8a"/><rect x="632" y="800" width="5" height="2" fill="#1f978b"/><rect x="632" y="798" width="5" height="2" fill="#228c8d"/><rect x="632" y="796" width="5" height="2" fill="#34b679"/><rect x="632" y="795" width="5" height="1" fill="#1fa088"/><rect x="632" y="793" width="5" height="2" fill="#297a8e"/><rect x="632" y="791" width="5" height="2" fill="#38598c"/><rect x="632" y="789" width="5" height="2" fill="#3f4788"/><rect x="632" y="787" width="5" height="2" fill="#404688"/><rect x="632" y="786" width="5" height="1" fill="#443b84"/><rect x="637" y="818" width="5" height="2" fill="#2eb37c"/><rect x="637" y="816" width="5" height="2" fill="#8bd646"/><rect x="637" y="800" width="5" height="2" fill="#42be71"/><rect x="637" y="798" width="5" height="2" fill="#20928c"/><rect x="637" y="796" width="5" height="2" fill="#3dbc74"/><rect x="637" y="795" width="5" height="1" fill="#228d8d"/><rect x="637" y="793" width="5" height="2" fill="#24868e"/><rect x="637" y="791" width="5" height="2" fill="#33628d"/><rect x="637" y="789" width="5" height="2" fill="#38598c"/><rect x="637" y="787" width="5" height="2" fill="#404588"/><rect x="637" y="786" width="5" height="1" fill="#453781"/><rect x="642" y="818" width="6" height="2" fill="#4ec36b"/><rect x="642" y="800" width="6" height="2" fill="#21a585"/><rect x="642" y="798" width="6" height="2" fill="#25848e"/><rect x="642" y="796" width="6" height="2" fill="#86d549"/><rect x="642" y="795" width="6" height="1" fill="#23888e"/><rect x="642" y="793" width="6" height="2" fill="#31688e"/><rect x="642" y="791" width="6" height="2" fill="#2b758e"/><rect x="642" y="789" width="6" height="2" fill="#3a538b"/><rect x="642" y="787" width="6" height="2" fill="#3b518b"/><rect x="642" y="786" width="6" height="1" fill="#453581"/><rect x="648" y="818" width="5" height="2" fill="#52c569"/><rect x="648" y="800" width="5" height="2" fill="#1f958b"/><rect x="648" y="798" width="5" height="2" fill="#29798e"/><rect x="648" y="796" width="5" height="2" fill="#65cb5e"/><rect x="648" y="795" width="5" height="1" fill="#1f9a8a"/><rect x="648" y="793" width="5" height="2" fill="#25858e"/><rect x="648" y="791" width="5" height="2" fill="#375a8c"/><rect x="648" y="789" width="5" height="2" fill="#375b8d"/><rect x="648" y="787" width="5" height="2" fill="#404588"/><rect x="648" y="786" width="5" height="1" fill="#443a83"/><rect x="653" y="818" width="6" height="2" fill="#228c8d"/><rect x="653" y="816" width="6" height="2" fill="#b2dd2d"/><rect x="653" y="800" width="6" height="2" fill="#6ccd5a"/><rect x="653" y="798" width="6" height="2" fill="#277f8e"/><rect x="653" y="796" width="6" height="2" fill="#5cc863"/><rect x="653" y="795" width="6" height="1" fill="#1fa188"/><rect x="653" y="793" width="6" height="2" fill="#24878e"/><rect x="653" y="791" width="6" height="2" fill="#355e8d"/><rect x="653" y="789" width="6" height="2" fill="#3f4889"/><rect x="653" y="787" width="6" height="2" fill="#39558c"/><rect x="653" y="786" width="6" height="1" fill="#3d4d8a"/><rect x="659" y="818" width="5" height="2" fill="#22a785"/><rect x="659" y="816" width="5" height="2" fill="#dfe318"/><rect x="659" y="800" width="5" height="2" fill="#22a785"/><rect x="659" y="798" width="5" height="2" fill="#2cb17e"/><rect x="659" y="796" width="5" height="2" fill="#70cf57"/><rect x="659" y="795" width="5" height="1" fill="#1fa187"/><rect x="659" y="793" width="5" height="2" fill="#2e6d8e"/><rect x="659" y="791" width="5" height="2" fill="#2c718e"/><rect x="659" y="789" width="5" height="2" fill="#3d4d8a"/><rect x="659" y="787" width="5" height="2" fill="#404688"/><rect x="659" y="786" width="5" height="1" fill="#3f4788"/><rect x="664" y="818" width="5" height="2" fill="#48c16e"/><rect x="664" y="816" width="5" height="2" fill="#90d743"/><rect x="664" y="800" width="5" height="2" fill="#22a884"/><rect x="664" y="798" width="5" height="2" fill="#1f998a"/><rect x="664" y="796" width="5" height="2" fill="#4ac16d"/><rect x="664" y="795" width="5" height="1" fill="#25858e"/><rect x="664" y="793" width="5" height="2" fill="#2d708e"/><rect x="664" y="791" width="5" height="2" fill="#2d708e"/><rect x="664" y="789" width="5" height="2" fill="#32658e"/><rect x="664" y="787" width="5" height="2" fill="#443b84"/><rect x="664" y="786" width="5" height="1" fill="#433d84"/><rect x="669" y="818" width="6" height="2" fill="#3dbc74"/><rect x="669" y="816" width="6" height="2" fill="#d8e219"/><rect x="669" y="800" width="6" height="2" fill="#20928c"/><rect x="669" y="798" width="6" height="2" fill="#1f9f88"/><rect x="669" y="796" width="6" height="2" fill="#65cb5e"/><rect x="669" y="795" width="6" height="1" fill="#1f998a"/><rect x="669" y="793" width="6" height="2" fill="#2c718e"/><rect x="669" y="791" width="6" height="2" fill="#32658e"/><rect x="669" y="789" width="6" height="2" fill="#375a8c"/><rect x="669" y="787" width="6" height="2" fill="#404688"/><rect x="669" y="786" width="6" height="1" fill="#424086"/><rect x="675" y="818" width="5" height="2" fill="#20a386"/><rect x="675" y="800" width="5" height="2" fill="#238a8d"/><rect x="675" y="798" width="5" height="2" fill="#1fa088"/><rect x="675" y="796" width="5" height="2" fill="#5ac864"/><rect x="675" y="795" width="5" height="1" fill="#23898e"/><rect x="675" y="793" width="5" height="2" fill="#26818e"/><rect x="675" y="791" width="5" height="2" fill="#2c718e"/><rect x="675" y="789" width="5" height="2" fill="#39558c"/><rect x="675" y="787" width="5" height="2" fill="#423f85"/><rect x="675" y="786" width="5" height="1" fill="#443983"/><rect x="680" y="818" width="6" height="2" fill="#23898e"/><rect x="680" y="816" width="6" height="2" fill="#a8db34"/><rect x="680" y="800" width="6" height="2" fill="#21908d"/><rect x="680" y="798" width="6" height="2" fill="#1f948c"/><rect x="680" y="796" width="6" height="2" fill="#5ec962"/><rect x="680" y="795" width="6" height="1" fill="#26828e"/><rect x="680" y="793" width="6" height="2" fill="#287d8e"/><rect x="680" y="791" width="6" height="2" fill="#375a8c"/><rect x="680" y="789" width="6" height="2" fill="#355f8d"/><rect x="680" y="787" width="6" height="2" fill="#3c508b"/><rect x="680" y="786" width="6" height="1" fill="#443a83"/><rect x="686" y="818" width="5" height="2" fill="#25848e"/><rect x="686" y="800" width="5" height="2" fill="#21a685"/><rect x="686" y="798" width="5" height="2" fill="#31b57b"/><rect x="686" y="796" width="5" height="2" fill="#2cb17e"/><rect x="686" y="795" width="5" height="1" fill="#1fa287"/><rect x="686" y="793" width="5" height="2" fill="#23888e"/><rect x="686" y="791" width="5" height="2" fill="#2d708e"/><rect x="686" y="789" width="5" height="2" fill="#33628d"/><rect x="686" y="787" width="5" height="2" fill="#423f85"/><rect x="686" y="786" width="5" height="1" fill="#3d4d8a"/><rect x="691" y="818" width="5" height="2" fill="#22a785"/><rect x="691" y="800" width="5" height="2" fill="#69cd5b"/><rect x="691" y="798" width="5" height="2" fill="#26828e"/><rect x="691" y="796" width="5" height="2" fill="#90d743"/><rect x="691" y="795" width="5" height="1" fill="#21a585"/><rect x="691" y="793" width="5" height="2" fill="#306a8e"/><rect x="691" y="791" width="5" height="2" fill="#33638d"/><rect x="691" y="789" width="5" height="2" fill="#34608d"/><rect x="691" y="787" width="5" height="2" fill="#423f85"/><rect x="691" y="786" width="5" height="1" fill="#3e4989"/><rect x="696" y="818" width="6" height="2" fill="#1f968b"/><rect x="696" y="800" width="6" height="2" fill="#20938c"/><rect x="696" y="798" width="6" height="2" fill="#1f988b"/><rect x="696" y="796" width="6" height="2" fill="#aadc32"/><rect x="696" y="795" width="6" height="1" fill="#23888e"/><rect x="696" y="793" width="6" height="2" fill="#2d718e"/><rect x="696" y="791" width="6" height="2" fill="#31688e"/><rect x="696" y="789" width="6" height="2" fill="#3c508b"/><rect x="696" y="787" width="6" height="2" fill="#443a83"/><rect x="696" y="786" width="6" height="1" fill="#472d7b"/><rect x="707" y="818" width="6" height="2" fill="#22a884"/><rect x="707" y="816" width="6" height="2" fill="#bddf26"/><rect x="707" y="815" width="6" height="1" fill="#fde725"/><rect x="707" y="813" width="6" height="2" fill="#fde725"/><rect x="707" y="811" width="6" height="2" fill="#fde725"/><rect x="707" y="809" width="6" height="2" fill="#fde725"/><rect x="707" y="807" width="6" height="2" fill="#fde725"/><rect x="707" y="805" width="6" height="2" fill="#fde725"/><rect x="707" y="804" width="6" height="1" fill="#fde725"/><rect x="707" y="802" width="6" height="2" fill="#fde725"/><rect x="707" y="800" width="6" height="2" fill="#23888e"/><rect x="707" y="798" width="6" height="2" fill="#414487"/><rect x="707" y="796" width="6" height="2" fill="#2a788e"/><rect x="707" y="795" width="6" height="1" fill="#2a788e"/><rect x="707" y="793" width="6" height="2" fill="#39568c"/><rect x="707" y="791" width="6" height="2" fill="#39568c"/><rect x="707" y="789" width="6" height="2" fill="#443983"/><rect x="707" y="787" width="6" height="2" fill="#443983"/><rect x="707" y="786" width="6" height="1" fill="#423f85"/><rect x="707" y="782" width="6" height="2" fill="#443983"/><rect x="707" y="778" width="6" height="2" fill="#443983"/><rect x="718" y="818" width="5" height="2" fill="#1f988b"/><rect x="718" y="816" width="5" height="2" fill="#1fa088"/><rect x="718" y="815" width="5" height="1" fill="#fde725"/><rect x="718" y="813" width="5" height="2" fill="#fde725"/><rect x="718" y="811" width="5" height="2" fill="#fde725"/><rect x="718" y="809" width="5" height="2" fill="#fde725"/><rect x="718" y="807" width="5" height="2" fill="#fde725"/><rect x="718" y="805" width="5" height="2" fill="#fde725"/><rect x="718" y="804" width="5" height="1" fill="#fde725"/><rect x="718" y="802" width="5" height="2" fill="#fde725"/><rect x="718" y="800" width="5" height="2" fill="#1f988b"/><rect x="718" y="798" width="5" height="2" fill="#2a788e"/><rect x="718" y="796" width="5" height="2" fill="#2a788e"/><rect x="718" y="795" width="5" height="1" fill="#2a788e"/><rect x="718" y="793" width="5" height="2" fill="#39568c"/><rect x="718" y="791" width="5" height="2" fill="#39568c"/><rect x="718" y="789" width="5" height="2" fill="#39568c"/><rect x="718" y="786" width="5" height="1" fill="#443983"/><rect x="718" y="782" width="5" height="2" fill="#472f7d"/><rect x="729" y="818" width="5" height="2" fill="#35b779"/><rect x="729" y="816" width="5" height="2" fill="#fde725"/><rect x="729" y="815" width="5" height="1" fill="#fde725"/><rect x="729" y="813" width="5" height="2" fill="#fde725"/><rect x="729" y="811" width="5" height="2" fill="#fde725"/><rect x="729" y="809" width="5" height="2" fill="#fde725"/><rect x="729" y="807" width="5" height="2" fill="#fde725"/><rect x="729" y="805" width="5" height="2" fill="#fde725"/><rect x="729" y="804" width="5" height="1" fill="#fde725"/><rect x="729" y="802" width="5" height="2" fill="#fde725"/><rect x="729" y="800" width="5" height="2" fill="#23888e"/><rect x="729" y="798" width="5" height="2" fill="#2a788e"/><rect x="729" y="796" width="5" height="2" fill="#22a884"/><rect x="729" y="795" width="5" height="1" fill="#23888e"/><rect x="729" y="793" width="5" height="2" fill="#31688e"/><rect x="729" y="791" width="5" height="2" fill="#31688e"/><rect x="729" y="789" width="5" height="2" fill="#414487"/><rect x="729" y="786" width="5" height="1" fill="#414487"/><rect x="729" y="784" width="5" height="2" fill="#443983"/><rect x="740" y="818" width="5" height="2" fill="#a5db36"/><rect x="740" y="816" width="5" height="2" fill="#fde725"/><rect x="740" y="815" width="5" height="1" fill="#fde725"/><rect x="740" y="813" width="5" height="2" fill="#fde725"/><rect x="740" y="811" width="5" height="2" fill="#fde725"/><rect x="740" y="809" width="5" height="2" fill="#fde725"/><rect x="740" y="807" width="5" height="2" fill="#fde725"/><rect x="740" y="805" width="5" height="2" fill="#fde725"/><rect x="740" y="804" width="5" height="1" fill="#fde725"/><rect x="740" y="802" width="5" height="2" fill="#fde725"/><rect x="740" y="800" width="5" height="2" fill="#7ad151"/><rect x="740" y="798" width="5" height="2" fill="#35b779"/><rect x="740" y="796" width="5" height="2" fill="#7ad151"/><rect x="740" y="795" width="5" height="1" fill="#2ab07f"/><rect x="740" y="793" width="5" height="2" fill="#287c8e"/><rect x="740" y="791" width="5" height="2" fill="#27808e"/><rect x="740" y="789" width="5" height="2" fill="#2a788e"/><rect x="740" y="787" width="5" height="2" fill="#414487"/><rect x="740" y="786" width="5" height="1" fill="#3d4e8a"/><rect x="740" y="784" width="5" height="2" fill="#443983"/><rect x="740" y="782" width="5" height="2" fill="#414487"/><rect x="750" y="818" width="6" height="2" fill="#1f988b"/><rect x="750" y="816" width="6" height="2" fill="#fde725"/><rect x="750" y="815" width="6" height="1" fill="#fde725"/><rect x="750" y="813" width="6" height="2" fill="#fde725"/><rect x="750" y="811" width="6" height="2" fill="#fde725"/><rect x="750" y="809" width="6" height="2" fill="#fde725"/><rect x="750" y="807" width="6" height="2" fill="#fde725"/><rect x="750" y="805" width="6" height="2" fill="#fde725"/><rect x="750" y="804" width="6" height="1" fill="#fde725"/><rect x="750" y="802" width="6" height="2" fill="#fde725"/><rect x="750" y="800" width="6" height="2" fill="#27808e"/><rect x="750" y="798" width="6" height="2" fill="#355f8d"/><rect x="750" y="796" width="6" height="2" fill="#22a884"/><rect x="750" y="795" width="6" height="1" fill="#2a788e"/><rect x="750" y="793" width="6" height="2" fill="#39568c"/><rect x="750" y="791" width="6" height="2" fill="#39568c"/><rect x="750" y="789" width="6" height="2" fill="#443983"/><rect x="750" y="786" width="6" height="1" fill="#443983"/><rect x="750" y="784" width="6" height="2" fill="#443983"/><rect x="761" y="818" width="6" height="2" fill="#21918c"/><rect x="761" y="816" width="6" height="2" fill="#7ad151"/><rect x="761" y="815" width="6" height="1" fill="#fde725"/><rect x="761" y="813" width="6" height="2" fill="#fde725"/><rect x="761" y="811" width="6" height="2" fill="#fde725"/><rect x="761" y="809" width="6" height="2" fill="#fde725"/><rect x="761" y="807" width="6" height="2" fill="#fde725"/><rect x="761" y="805" width="6" height="2" fill="#fde725"/><rect x="761" y="804" width="6" height="1" fill="#fde725"/><rect x="761" y="802" width="6" height="2" fill="#fde725"/><rect x="761" y="800" width="6" height="2" fill="#2ab07f"/><rect x="761" y="798" width="6" height="2" fill="#23888e"/><rect x="761" y="796" width="6" height="2" fill="#23888e"/><rect x="761" y="795" width="6" height="1" fill="#23888e"/><rect x="761" y="793" width="6" height="2" fill="#39568c"/><rect x="761" y="791" width="6" height="2" fill="#39568c"/><rect x="761" y="789" width="6" height="2" fill="#414487"/><rect x="761" y="787" width="6" height="2" fill="#423f85"/><rect x="761" y="786" width="6" height="1" fill="#443983"/><rect x="761" y="782" width="6" height="2" fill="#443983"/><rect x="772" y="818" width="5" height="2" fill="#35b779"/><rect x="772" y="816" width="5" height="2" fill="#fde725"/><rect x="772" y="815" width="5" height="1" fill="#fde725"/><rect x="772" y="813" width="5" height="2" fill="#fde725"/><rect x="772" y="811" width="5" height="2" fill="#fde725"/><rect x="772" y="809" width="5" height="2" fill="#fde725"/><rect x="772" y="807" width="5" height="2" fill="#fde725"/><rect x="772" y="805" width="5" height="2" fill="#fde725"/><rect x="772" y="804" width="5" height="1" fill="#fde725"/><rect x="772" y="802" width="5" height="2" fill="#fde725"/><rect x="772" y="800" width="5" height="2" fill="#7ad151"/><rect x="772" y="798" width="5" height="2" fill="#23888e"/><rect x="772" y="796" width="5" height="2" fill="#2ab07f"/><rect x="772" y="795" width="5" height="1" fill="#23888e"/><rect x="772" y="793" width="5" height="2" fill="#2a788e"/><rect x="772" y="791" width="5" height="2" fill="#2a788e"/><rect x="772" y="789" width="5" height="2" fill="#39568c"/><rect x="772" y="787" width="5" height="2" fill="#39568c"/><rect x="772" y="786" width="5" height="1" fill="#443983"/><rect x="772" y="782" width="5" height="2" fill="#443983"/><rect x="799" y="818" width="5" height="2" fill="#bddf26"/><rect x="799" y="816" width="5" height="2" fill="#fde725"/><rect x="799" y="815" width="5" height="1" fill="#fde725"/><rect x="799" y="813" width="5" height="2" fill="#fde725"/><rect x="799" y="811" width="5" height="2" fill="#fde725"/><rect x="799" y="809" width="5" height="2" fill="#fde725"/><rect x="799" y="807" width="5" height="2" fill="#fde725"/><rect x="799" y="805" width="5" height="2" fill="#fde725"/><rect x="799" y="804" width="5" height="1" fill="#fde725"/><rect x="799" y="802" width="5" height="2" fill="#fde725"/><rect x="799" y="800" width="5" height="2" fill="#fde725"/><rect x="799" y="798" width="5" height="2" fill="#2d718e"/><rect x="799" y="796" width="5" height="2" fill="#67cc5c"/><rect x="799" y="795" width="5" height="1" fill="#67cc5c"/><rect x="799" y="793" width="5" height="2" fill="#27808e"/><rect x="799" y="791" width="5" height="2" fill="#27808e"/><rect x="799" y="789" width="5" height="2" fill="#27808e"/><rect x="799" y="787" width="5" height="2" fill="#443983"/><rect x="799" y="784" width="5" height="2" fill="#3d4e8a"/><rect x="799" y="782" width="5" height="2" fill="#443983"/><rect x="799" y="780" width="5" height="2" fill="#443983"/><rect x="799" y="776" width="5" height="2" fill="#443983"/><rect x="826" y="818" width="5" height="2" fill="#fde725"/><rect x="826" y="816" width="5" height="2" fill="#fde725"/><rect x="826" y="815" width="5" height="1" fill="#fde725"/><rect x="826" y="813" width="5" height="2" fill="#fde725"/><rect x="826" y="811" width="5" height="2" fill="#fde725"/><rect x="826" y="809" width="5" height="2" fill="#fde725"/><rect x="826" y="807" width="5" height="2" fill="#fde725"/><rect x="826" y="805" width="5" height="2" fill="#fde725"/><rect x="826" y="804" width="5" height="1" fill="#fde725"/><rect x="826" y="802" width="5" height="2" fill="#fde725"/><rect x="826" y="800" width="5" height="2" fill="#fde725"/><rect x="826" y="798" width="5" height="2" fill="#1fa088"/><rect x="826" y="796" width="5" height="2" fill="#d2e21b"/><rect x="826" y="795" width="5" height="1" fill="#7ad151"/><rect x="826" y="793" width="5" height="2" fill="#25848e"/><rect x="826" y="791" width="5" height="2" fill="#25848e"/><rect x="826" y="789" width="5" height="2" fill="#25848e"/><rect x="826" y="787" width="5" height="2" fill="#31688e"/><rect x="826" y="786" width="5" height="1" fill="#31688e"/><rect x="826" y="784" width="5" height="2" fill="#414487"/><rect x="826" y="782" width="5" height="2" fill="#414487"/><rect x="826" y="780" width="5" height="2" fill="#414487"/><rect x="826" y="778" width="5" height="2" fill="#472f7d"/><rect x="826" y="776" width="5" height="2" fill="#472f7d"/><rect x="853" y="818" width="5" height="2" fill="#35b779"/><rect x="853" y="816" width="5" height="2" fill="#fde725"/><rect x="853" y="815" width="5" height="1" fill="#fde725"/><rect x="853" y="813" width="5" height="2" fill="#fde725"/><rect x="853" y="811" width="5" height="2" fill="#fde725"/><rect x="853" y="809" width="5" height="2" fill="#fde725"/><rect x="853" y="807" width="5" height="2" fill="#fde725"/><rect x="853" y="805" width="5" height="2" fill="#fde725"/><rect x="853" y="804" width="5" height="1" fill="#fde725"/><rect x="853" y="802" width="5" height="2" fill="#fde725"/><rect x="853" y="800" width="5" height="2" fill="#2ab07f"/><rect x="853" y="798" width="5" height="2" fill="#2d718e"/><rect x="853" y="796" width="5" height="2" fill="#228c8d"/><rect x="853" y="795" width="5" height="1" fill="#23888e"/><rect x="853" y="793" width="5" height="2" fill="#2d718e"/><rect x="853" y="791" width="5" height="2" fill="#3f4889"/><rect x="853" y="789" width="5" height="2" fill="#3f4889"/><rect x="853" y="786" width="5" height="1" fill="#443983"/><rect x="853" y="784" width="5" height="2" fill="#463480"/><rect x="880" y="818" width="5" height="2" fill="#1fa088"/><rect x="880" y="816" width="5" height="2" fill="#35b779"/><rect x="880" y="815" width="5" height="1" fill="#fde725"/><rect x="880" y="813" width="5" height="2" fill="#fde725"/><rect x="880" y="811" width="5" height="2" fill="#fde725"/><rect x="880" y="809" width="5" height="2" fill="#fde725"/><rect x="880" y="807" width="5" height="2" fill="#fde725"/><rect x="880" y="805" width="5" height="2" fill="#fde725"/><rect x="880" y="804" width="5" height="1" fill="#fde725"/><rect x="880" y="802" width="5" height="2" fill="#fde725"/><rect x="880" y="800" width="5" height="2" fill="#27808e"/><rect x="880" y="798" width="5" height="2" fill="#2d718e"/><rect x="880" y="796" width="5" height="2" fill="#2a788e"/><rect x="880" y="795" width="5" height="1" fill="#2a788e"/><rect x="880" y="793" width="5" height="2" fill="#39568c"/><rect x="880" y="791" width="5" height="2" fill="#414487"/><rect x="880" y="789" width="5" height="2" fill="#414487"/><rect x="880" y="787" width="5" height="2" fill="#443983"/><rect x="907" y="818" width="5" height="2" fill="#21918c"/><rect x="907" y="816" width="5" height="2" fill="#fde725"/><rect x="907" y="815" width="5" height="1" fill="#fde725"/><rect x="907" y="813" width="5" height="2" fill="#fde725"/><rect x="907" y="811" width="5" height="2" fill="#fde725"/><rect x="907" y="809" width="5" height="2" fill="#fde725"/><rect x="907" y="807" width="5" height="2" fill="#fde725"/><rect x="907" y="805" width="5" height="2" fill="#fde725"/><rect x="907" y="804" width="5" height="1" fill="#fde725"/><rect x="907" y="802" width="5" height="2" fill="#fde725"/><rect x="907" y="800" width="5" height="2" fill="#23888e"/><rect x="907" y="798" width="5" height="2" fill="#481a6c"/><rect x="907" y="796" width="5" height="2" fill="#23888e"/><rect x="907" y="795" width="5" height="1" fill="#39568c"/><rect x="907" y="793" width="5" height="2" fill="#414487"/><rect x="907" y="789" width="5" height="2" fill="#443983"/><rect x="907" y="787" width="5" height="2" fill="#463480"/><rect x="934" y="818" width="5" height="2" fill="#21918c"/><rect x="934" y="816" width="5" height="2" fill="#fde725"/><rect x="934" y="815" width="5" height="1" fill="#fde725"/><rect x="934" y="813" width="5" height="2" fill="#fde725"/><rect x="934" y="811" width="5" height="2" fill="#fde725"/><rect x="934" y="809" width="5" height="2" fill="#fde725"/><rect x="934" y="807" width="5" height="2" fill="#fde725"/><rect x="934" y="805" width="5" height="2" fill="#fde725"/><rect x="934" y="804" width="5" height="1" fill="#fde725"/><rect x="934" y="802" width="5" height="2" fill="#fde725"/><rect x="934" y="800" width="5" height="2" fill="#21918c"/><rect x="934" y="798" width="5" height="2" fill="#355f8d"/><rect x="934" y="796" width="5" height="2" fill="#2a788e"/><rect x="934" y="795" width="5" height="1" fill="#2a788e"/><rect x="934" y="793" width="5" height="2" fill="#355f8d"/><rect x="934" y="791" width="5" height="2" fill="#31688e"/><rect x="934" y="789" width="5" height="2" fill="#414487"/><rect x="934" y="787" width="5" height="2" fill="#414487"/><rect x="934" y="784" width="5" height="2" fill="#443983"/><rect x="243" y="95" width="5" height="2" fill="#238a8d"/><rect x="243" y="93" width="5" height="2" fill="#23888e"/><rect x="243" y="91" width="5" height="2" fill="#25838e"/><rect x="243" y="90" width="5" height="1" fill="#38598c"/><rect x="243" y="88" width="5" height="2" fill="#2c728e"/><rect x="243" y="86" width="5" height="2" fill="#297a8e"/><rect x="243" y="99" width="5" height="1" fill="#414487"/><rect x="243" y="97" width="5" height="2" fill="#3b528b"/><rect x="243" y="95" width="5" height="2" fill="#2f6c8e"/><rect x="270" y="95" width="5" height="2" fill="#2c728e"/><rect x="270" y="93" width="5" height="2" fill="#2a768e"/><rect x="270" y="91" width="5" height="2" fill="#26828e"/><rect x="270" y="90" width="5" height="1" fill="#34608d"/><rect x="270" y="88" width="5" height="2" fill="#277e8e"/><rect x="270" y="86" width="5" height="2" fill="#287c8e"/><rect x="291" y="106" width="6" height="2" fill="#29798e"/><rect x="291" y="104" width="6" height="2" fill="#3c508b"/><rect x="291" y="102" width="6" height="2" fill="#34618d"/><rect x="291" y="100" width="6" height="2" fill="#26818e"/><rect x="205" y="88" width="5" height="2" fill="#30698e"/><rect x="205" y="86" width="5" height="2" fill="#277f8e"/><rect x="205" y="95" width="5" height="2" fill="#481b6d"/><rect x="205" y="93" width="5" height="2" fill="#463480"/><rect x="205" y="91" width="5" height="2" fill="#472d7b"/><rect x="183" y="135" width="6" height="2" fill="#3a538b"/><rect x="183" y="133" width="6" height="2" fill="#423f85"/><rect x="183" y="131" width="6" height="2" fill="#481f70"/><rect x="183" y="129" width="6" height="2" fill="#472e7c"/><rect x="183" y="128" width="6" height="1" fill="#3f4889"/><rect x="183" y="149" width="6" height="2" fill="#32648e"/><rect x="183" y="148" width="6" height="1" fill="#297b8e"/><rect x="183" y="146" width="6" height="2" fill="#277e8e"/><rect x="183" y="144" width="6" height="2" fill="#238a8d"/><rect x="183" y="142" width="6" height="2" fill="#2e6e8e"/><rect x="183" y="140" width="6" height="2" fill="#31668e"/><rect x="183" y="138" width="6" height="2" fill="#2b748e"/><rect x="183" y="137" width="6" height="1" fill="#31668e"/><rect x="183" y="135" width="6" height="2" fill="#32648e"/><rect x="183" y="158" width="6" height="2" fill="#1fa187"/><rect x="183" y="157" width="6" height="1" fill="#355f8d"/><rect x="183" y="155" width="6" height="2" fill="#21918c"/><rect x="183" y="153" width="6" height="2" fill="#1e9d89"/><rect x="183" y="151" width="6" height="2" fill="#23888e"/><rect x="183" y="149" width="6" height="2" fill="#277e8e"/><rect x="210" y="177" width="6" height="1" fill="#1e9c89"/><rect x="210" y="175" width="6" height="2" fill="#287d8e"/><rect x="210" y="173" width="6" height="2" fill="#1f9a8a"/><rect x="210" y="171" width="6" height="2" fill="#1f9a8a"/><rect x="210" y="169" width="6" height="2" fill="#25858e"/><rect x="210" y="167" width="6" height="2" fill="#34618d"/><rect x="210" y="166" width="6" height="1" fill="#32648e"/><rect x="210" y="164" width="6" height="2" fill="#1f988b"/><rect x="210" y="162" width="6" height="2" fill="#1f988b"/><rect x="210" y="160" width="6" height="2" fill="#20928c"/><rect x="210" y="158" width="6" height="2" fill="#1e9c89"/><rect x="210" y="157" width="6" height="1" fill="#24878e"/><rect x="210" y="184" width="6" height="2" fill="#3aba76"/><rect x="210" y="182" width="6" height="2" fill="#34b679"/><rect x="210" y="180" width="6" height="2" fill="#2d718e"/><rect x="210" y="178" width="6" height="2" fill="#2cb17e"/><rect x="210" y="177" width="6" height="1" fill="#2cb17e"/><rect x="167" y="225" width="6" height="2" fill="#1fa088"/><rect x="167" y="224" width="6" height="1" fill="#25858e"/><rect x="167" y="222" width="6" height="2" fill="#1f958b"/><rect x="167" y="220" width="6" height="2" fill="#1f978b"/><rect x="167" y="218" width="6" height="2" fill="#218f8d"/><rect x="167" y="216" width="6" height="2" fill="#1f988b"/><rect x="167" y="215" width="6" height="1" fill="#218e8d"/><rect x="167" y="213" width="6" height="2" fill="#20928c"/><rect x="167" y="211" width="6" height="2" fill="#25848e"/><rect x="167" y="209" width="6" height="2" fill="#27808e"/><rect x="167" y="207" width="6" height="2" fill="#26828e"/><rect x="167" y="206" width="6" height="1" fill="#365d8d"/><rect x="167" y="204" width="6" height="2" fill="#238a8d"/><rect x="167" y="202" width="6" height="2" fill="#375a8c"/><rect x="167" y="200" width="6" height="2" fill="#2e6f8e"/><rect x="167" y="198" width="6" height="2" fill="#1f988b"/><rect x="167" y="196" width="6" height="2" fill="#277f8e"/><rect x="248" y="215" width="6" height="1" fill="#2c728e"/><rect x="248" y="213" width="6" height="2" fill="#25858e"/><rect x="248" y="211" width="6" height="2" fill="#31678e"/><rect x="248" y="209" width="6" height="2" fill="#23898e"/><rect x="248" y="207" width="6" height="2" fill="#31688e"/><rect x="248" y="206" width="6" height="1" fill="#30698e"/><rect x="248" y="204" width="6" height="2" fill="#34618d"/><rect x="248" y="202" width="6" height="2" fill="#277e8e"/><rect x="248" y="200" width="6" height="2" fill="#277e8e"/><rect x="248" y="198" width="6" height="2" fill="#31688e"/><rect x="248" y="196" width="6" height="2" fill="#355e8d"/><rect x="248" y="195" width="6" height="1" fill="#2d718e"/><rect x="248" y="193" width="6" height="2" fill="#32658e"/><rect x="248" y="191" width="6" height="2" fill="#2d708e"/><rect x="248" y="189" width="6" height="2" fill="#2c728e"/><rect x="248" y="187" width="6" height="2" fill="#228b8d"/><rect x="248" y="186" width="6" height="1" fill="#24868e"/><rect x="248" y="184" width="6" height="2" fill="#32658e"/><rect x="248" y="182" width="6" height="2" fill="#2b758e"/><rect x="248" y="180" width="6" height="2" fill="#2c718e"/><rect x="248" y="178" width="6" height="2" fill="#297a8e"/><rect x="248" y="218" width="6" height="2" fill="#cde11d"/><rect x="248" y="216" width="6" height="2" fill="#31b57b"/><rect x="248" y="236" width="6" height="2" fill="#1e9c89"/><rect x="248" y="235" width="6" height="1" fill="#3aba76"/><rect x="248" y="233" width="6" height="2" fill="#1e9c89"/><rect x="248" y="231" width="6" height="2" fill="#29af7f"/><rect x="248" y="229" width="6" height="2" fill="#20a386"/><rect x="248" y="227" width="6" height="2" fill="#24aa83"/><rect x="248" y="225" width="6" height="2" fill="#21a685"/><rect x="248" y="224" width="6" height="1" fill="#22a785"/><rect x="248" y="222" width="6" height="2" fill="#35b779"/><rect x="248" y="220" width="6" height="2" fill="#1fa188"/><rect x="248" y="218" width="6" height="2" fill="#1fa088"/><rect x="275" y="202" width="6" height="2" fill="#375b8d"/><rect x="275" y="200" width="6" height="2" fill="#3f4889"/><rect x="275" y="198" width="6" height="2" fill="#443983"/><rect x="275" y="196" width="6" height="2" fill="#46327e"/><rect x="275" y="195" width="6" height="1" fill="#453581"/><rect x="275" y="193" width="6" height="2" fill="#355f8d"/><rect x="275" y="191" width="6" height="2" fill="#482979"/><rect x="275" y="189" width="6" height="2" fill="#38598c"/><rect x="275" y="187" width="6" height="2" fill="#404588"/><rect x="275" y="186" width="6" height="1" fill="#463480"/><rect x="275" y="184" width="6" height="2" fill="#433d84"/><rect x="275" y="182" width="6" height="2" fill="#3b518b"/><rect x="275" y="180" width="6" height="2" fill="#482979"/><rect x="275" y="178" width="6" height="2" fill="#433e85"/><rect x="275" y="177" width="6" height="1" fill="#365d8d"/><rect x="275" y="175" width="6" height="2" fill="#482071"/><rect x="124" y="254" width="5" height="2" fill="#2c718e"/><rect x="124" y="253" width="5" height="1" fill="#2f6b8e"/><rect x="124" y="251" width="5" height="2" fill="#2f6c8e"/><rect x="124" y="249" width="5" height="2" fill="#26828e"/><rect x="124" y="247" width="5" height="2" fill="#32648e"/><rect x="124" y="245" width="5" height="2" fill="#3a548c"/><rect x="124" y="244" width="5" height="1" fill="#25848e"/><rect x="124" y="242" width="5" height="2" fill="#2b758e"/><rect x="124" y="240" width="5" height="2" fill="#277e8e"/><rect x="124" y="269" width="5" height="2" fill="#375b8d"/><rect x="124" y="267" width="5" height="2" fill="#2b758e"/><rect x="124" y="265" width="5" height="2" fill="#20938c"/><rect x="124" y="264" width="5" height="1" fill="#23888e"/><rect x="124" y="262" width="5" height="2" fill="#24868e"/><rect x="124" y="260" width="5" height="2" fill="#31668e"/><rect x="124" y="258" width="5" height="2" fill="#20928c"/><rect x="124" y="256" width="5" height="2" fill="#25858e"/><rect x="124" y="254" width="5" height="2" fill="#20928c"/><rect x="124" y="280" width="5" height="2" fill="#2e6d8e"/><rect x="124" y="278" width="5" height="2" fill="#24878e"/><rect x="124" y="276" width="5" height="2" fill="#26818e"/><rect x="124" y="274" width="5" height="2" fill="#27808e"/><rect x="124" y="273" width="5" height="1" fill="#2a768e"/><rect x="124" y="271" width="5" height="2" fill="#287d8e"/><rect x="124" y="269" width="5" height="2" fill="#39558c"/><rect x="146" y="294" width="5" height="2" fill="#23898e"/><rect x="146" y="293" width="5" height="1" fill="#2a768e"/><rect x="146" y="291" width="5" height="2" fill="#277f8e"/><rect x="146" y="289" width="5" height="2" fill="#287d8e"/><rect x="146" y="287" width="5" height="2" fill="#20928c"/><rect x="146" y="285" width="5" height="2" fill="#24868e"/><rect x="146" y="283" width="5" height="2" fill="#287c8e"/><rect x="146" y="282" width="5" height="1" fill="#20938c"/><rect x="146" y="280" width="5" height="2" fill="#355f8d"/><rect x="146" y="278" width="5" height="2" fill="#228b8d"/><rect x="146" y="276" width="5" height="2" fill="#26818e"/><rect x="146" y="302" width="5" height="1" fill="#24878e"/><rect x="146" y="300" width="5" height="2" fill="#44bf70"/><rect x="146" y="298" width="5" height="2" fill="#3fbc73"/><rect x="146" y="296" width="5" height="2" fill="#37b878"/><rect x="146" y="294" width="5" height="2" fill="#58c765"/><rect x="146" y="312" width="5" height="2" fill="#21908d"/><rect x="146" y="311" width="5" height="1" fill="#20928c"/><rect x="146" y="309" width="5" height="2" fill="#2c718e"/><rect x="146" y="307" width="5" height="2" fill="#2a768e"/><rect x="146" y="305" width="5" height="2" fill="#25848e"/><rect x="146" y="303" width="5" height="2" fill="#34618d"/><rect x="146" y="302" width="5" height="1" fill="#21908d"/><rect x="183" y="303" width="6" height="2" fill="#2a778e"/><rect x="183" y="302" width="6" height="1" fill="#238a8d"/><rect x="183" y="300" width="6" height="2" fill="#26828e"/><rect x="183" y="298" width="6" height="2" fill="#228c8d"/><rect x="183" y="296" width="6" height="2" fill="#2b748e"/><rect x="183" y="294" width="6" height="2" fill="#32658e"/><rect x="183" y="293" width="6" height="1" fill="#25858e"/><rect x="183" y="291" width="6" height="2" fill="#26828e"/><rect x="183" y="289" width="6" height="2" fill="#20928c"/><rect x="183" y="287" width="6" height="2" fill="#25858e"/><rect x="183" y="285" width="6" height="2" fill="#228d8d"/><rect x="183" y="283" width="6" height="2" fill="#2a788e"/><rect x="183" y="282" width="6" height="1" fill="#2c718e"/><rect x="183" y="280" width="6" height="2" fill="#297a8e"/><rect x="183" y="278" width="6" height="2" fill="#2a778e"/><rect x="183" y="276" width="6" height="2" fill="#2a768e"/><rect x="183" y="274" width="6" height="2" fill="#2c738e"/><rect x="183" y="273" width="6" height="1" fill="#32648e"/><rect x="183" y="271" width="6" height="2" fill="#2a768e"/><rect x="210" y="274" width="6" height="2" fill="#27808e"/><rect x="210" y="273" width="6" height="1" fill="#25858e"/><rect x="210" y="271" width="6" height="2" fill="#297b8e"/><rect x="210" y="269" width="6" height="2" fill="#218f8d"/><rect x="210" y="267" width="6" height="2" fill="#31678e"/><rect x="210" y="265" width="6" height="2" fill="#228c8d"/><rect x="210" y="264" width="6" height="1" fill="#31678e"/><rect x="210" y="262" width="6" height="2" fill="#2e6d8e"/><rect x="210" y="260" width="6" height="2" fill="#306a8e"/><rect x="210" y="258" width="6" height="2" fill="#2a768e"/><rect x="210" y="256" width="6" height="2" fill="#3a538b"/><rect x="210" y="254" width="6" height="2" fill="#228b8d"/><rect x="210" y="253" width="6" height="1" fill="#2c728e"/><rect x="210" y="251" width="6" height="2" fill="#228c8d"/><rect x="210" y="249" width="6" height="2" fill="#21908d"/><rect x="210" y="247" width="6" height="2" fill="#228b8d"/><rect x="210" y="245" width="6" height="2" fill="#21908d"/><rect x="210" y="244" width="6" height="1" fill="#218e8d"/><rect x="210" y="242" width="6" height="2" fill="#23888e"/><rect x="210" y="240" width="6" height="2" fill="#238a8d"/><rect x="210" y="238" width="6" height="2" fill="#21908d"/><rect x="210" y="236" width="6" height="2" fill="#2a768e"/><rect x="210" y="235" width="6" height="1" fill="#2c718e"/><rect x="210" y="233" width="6" height="2" fill="#2e6f8e"/><rect x="210" y="231" width="6" height="2" fill="#2c718e"/><rect x="210" y="229" width="6" height="2" fill="#27808e"/><rect x="210" y="227" width="6" height="2" fill="#218f8d"/><rect x="210" y="322" width="6" height="1" fill="#375a8c"/><rect x="210" y="320" width="6" height="2" fill="#2c728e"/><rect x="210" y="318" width="6" height="2" fill="#277e8e"/><rect x="210" y="316" width="6" height="2" fill="#2e6d8e"/><rect x="210" y="314" width="6" height="2" fill="#355e8d"/><rect x="210" y="312" width="6" height="2" fill="#2b758e"/><rect x="210" y="311" width="6" height="1" fill="#3a548c"/><rect x="210" y="309" width="6" height="2" fill="#26828e"/><rect x="210" y="307" width="6" height="2" fill="#25838e"/><rect x="210" y="305" width="6" height="2" fill="#2d708e"/><rect x="210" y="303" width="6" height="2" fill="#365d8d"/><rect x="210" y="302" width="6" height="1" fill="#2b758e"/><rect x="210" y="300" width="6" height="2" fill="#277f8e"/><rect x="210" y="298" width="6" height="2" fill="#2e6f8e"/><rect x="210" y="296" width="6" height="2" fill="#297b8e"/><rect x="210" y="294" width="6" height="2" fill="#2e6e8e"/><rect x="216" y="309" width="5" height="2" fill="#365c8d"/><rect x="216" y="307" width="5" height="2" fill="#463480"/><rect x="216" y="305" width="5" height="2" fill="#414287"/><rect x="216" y="303" width="5" height="2" fill="#3a548c"/><rect x="216" y="302" width="5" height="1" fill="#404588"/><rect x="216" y="300" width="5" height="2" fill="#472d7b"/><rect x="216" y="298" width="5" height="2" fill="#453781"/><rect x="216" y="296" width="5" height="2" fill="#3c4f8a"/><rect x="216" y="294" width="5" height="2" fill="#482475"/><rect x="216" y="293" width="5" height="1" fill="#482071"/><rect x="216" y="291" width="5" height="2" fill="#3a548c"/><rect x="216" y="289" width="5" height="2" fill="#3b528b"/><rect x="216" y="287" width="5" height="2" fill="#39568c"/><rect x="216" y="285" width="5" height="2" fill="#423f85"/><rect x="254" y="356" width="5" height="2" fill="#277f8e"/><rect x="254" y="354" width="5" height="2" fill="#2d718e"/><rect x="254" y="352" width="5" height="2" fill="#2e6e8e"/><rect x="254" y="351" width="5" height="1" fill="#21918c"/><rect x="254" y="349" width="5" height="2" fill="#297b8e"/><rect x="254" y="347" width="5" height="2" fill="#228c8d"/><rect x="254" y="345" width="5" height="2" fill="#2a768e"/><rect x="254" y="343" width="5" height="2" fill="#287d8e"/><rect x="254" y="341" width="5" height="2" fill="#277e8e"/><rect x="254" y="340" width="5" height="1" fill="#20928c"/><rect x="254" y="338" width="5" height="2" fill="#355f8d"/><rect x="254" y="336" width="5" height="2" fill="#3b528b"/><rect x="254" y="334" width="5" height="2" fill="#25838e"/><rect x="254" y="332" width="5" height="2" fill="#277e8e"/><rect x="254" y="374" width="5" height="2" fill="#2d708e"/><rect x="254" y="372" width="5" height="2" fill="#2cb17e"/><rect x="254" y="370" width="5" height="2" fill="#1f9f88"/><rect x="254" y="369" width="5" height="1" fill="#21918c"/><rect x="254" y="367" width="5" height="2" fill="#1f948c"/><rect x="254" y="365" width="5" height="2" fill="#228d8d"/><rect x="254" y="363" width="5" height="2" fill="#297a8e"/><rect x="254" y="361" width="5" height="2" fill="#25838e"/><rect x="254" y="360" width="5" height="1" fill="#26818e"/><rect x="254" y="358" width="5" height="2" fill="#33638d"/><rect x="254" y="356" width="5" height="2" fill="#1f968b"/><rect x="275" y="302" width="6" height="1" fill="#3e4a89"/><rect x="275" y="300" width="6" height="2" fill="#2e6f8e"/><rect x="275" y="298" width="6" height="2" fill="#3f4788"/><rect x="275" y="296" width="6" height="2" fill="#2c718e"/><rect x="275" y="294" width="6" height="2" fill="#404588"/><rect x="275" y="293" width="6" height="1" fill="#443983"/><rect x="275" y="291" width="6" height="2" fill="#3d4d8a"/><rect x="275" y="289" width="6" height="2" fill="#3c508b"/><rect x="275" y="287" width="6" height="2" fill="#3e4c8a"/><rect x="275" y="285" width="6" height="2" fill="#365d8d"/><rect x="275" y="283" width="6" height="2" fill="#3e4a89"/><rect x="275" y="282" width="6" height="1" fill="#32658e"/><rect x="275" y="280" width="6" height="2" fill="#2f6c8e"/><rect x="275" y="278" width="6" height="2" fill="#33628d"/><rect x="275" y="276" width="6" height="2" fill="#482475"/><rect x="275" y="274" width="6" height="2" fill="#2e6d8e"/><rect x="275" y="273" width="6" height="1" fill="#2c738e"/><rect x="275" y="271" width="6" height="2" fill="#39568c"/><rect x="189" y="370" width="5" height="2" fill="#375a8c"/><rect x="189" y="369" width="5" height="1" fill="#2d708e"/><rect x="189" y="367" width="5" height="2" fill="#3f4889"/><rect x="189" y="365" width="5" height="2" fill="#46327e"/><rect x="189" y="363" width="5" height="2" fill="#2d708e"/><rect x="189" y="361" width="5" height="2" fill="#424086"/><rect x="189" y="360" width="5" height="1" fill="#33638d"/><rect x="129" y="398" width="6" height="1" fill="#218e8d"/><rect x="129" y="396" width="6" height="2" fill="#24878e"/><rect x="129" y="394" width="6" height="2" fill="#297a8e"/><rect x="129" y="392" width="6" height="2" fill="#355f8d"/><rect x="129" y="390" width="6" height="2" fill="#2b748e"/><rect x="129" y="389" width="6" height="1" fill="#20928c"/><rect x="129" y="387" width="6" height="2" fill="#25848e"/><rect x="129" y="385" width="6" height="2" fill="#277f8e"/><rect x="129" y="412" width="6" height="2" fill="#1f968b"/><rect x="129" y="410" width="6" height="2" fill="#25ac82"/><rect x="129" y="409" width="6" height="1" fill="#21908d"/><rect x="129" y="407" width="6" height="2" fill="#25ab82"/><rect x="129" y="405" width="6" height="2" fill="#20a386"/><rect x="129" y="403" width="6" height="2" fill="#29af7f"/><rect x="129" y="401" width="6" height="2" fill="#1fa088"/><rect x="129" y="399" width="6" height="2" fill="#20938c"/><rect x="129" y="398" width="6" height="1" fill="#20938c"/><rect x="129" y="427" width="6" height="1" fill="#297b8e"/><rect x="129" y="425" width="6" height="2" fill="#287c8e"/><rect x="129" y="423" width="6" height="2" fill="#2c728e"/><rect x="129" y="421" width="6" height="2" fill="#2f6b8e"/><rect x="129" y="419" width="6" height="2" fill="#2d718e"/><rect x="129" y="418" width="6" height="1" fill="#228c8d"/><rect x="129" y="416" width="6" height="2" fill="#25848e"/><rect x="129" y="414" width="6" height="2" fill="#26818e"/><rect x="129" y="412" width="6" height="2" fill="#3c508b"/><rect x="167" y="374" width="6" height="2" fill="#24878e"/><rect x="167" y="372" width="6" height="2" fill="#297b8e"/><rect x="167" y="370" width="6" height="2" fill="#25838e"/><rect x="167" y="369" width="6" height="1" fill="#238a8d"/><rect x="167" y="367" width="6" height="2" fill="#25858e"/><rect x="167" y="398" width="6" height="1" fill="#1f968b"/><rect x="167" y="396" width="6" height="2" fill="#306a8e"/><rect x="167" y="394" width="6" height="2" fill="#21908d"/><rect x="167" y="392" width="6" height="2" fill="#2a768e"/><rect x="167" y="390" width="6" height="2" fill="#1f9f88"/><rect x="167" y="389" width="6" height="1" fill="#2ab07f"/><rect x="167" y="387" width="6" height="2" fill="#2a778e"/><rect x="167" y="385" width="6" height="2" fill="#21918c"/><rect x="167" y="383" width="6" height="2" fill="#1f968b"/><rect x="167" y="381" width="6" height="2" fill="#21a585"/><rect x="167" y="380" width="6" height="1" fill="#22a785"/><rect x="167" y="409" width="6" height="1" fill="#433d84"/><rect x="167" y="407" width="6" height="2" fill="#424086"/><rect x="167" y="405" width="6" height="2" fill="#482374"/><rect x="167" y="403" width="6" height="2" fill="#34608d"/><rect x="167" y="401" width="6" height="2" fill="#443b84"/><rect x="167" y="399" width="6" height="2" fill="#33638d"/><rect x="167" y="398" width="6" height="1" fill="#481f70"/><rect x="221" y="385" width="6" height="2" fill="#238a8d"/><rect x="221" y="383" width="6" height="2" fill="#2d708e"/><rect x="221" y="381" width="6" height="2" fill="#26828e"/><rect x="221" y="380" width="6" height="1" fill="#3b528b"/><rect x="221" y="378" width="6" height="2" fill="#30698e"/><rect x="221" y="376" width="6" height="2" fill="#2f6b8e"/><rect x="221" y="374" width="6" height="2" fill="#306a8e"/><rect x="221" y="372" width="6" height="2" fill="#32648e"/><rect x="221" y="370" width="6" height="2" fill="#2f6c8e"/><rect x="221" y="369" width="6" height="1" fill="#33638d"/><rect x="221" y="399" width="6" height="2" fill="#1f998a"/><rect x="221" y="398" width="6" height="1" fill="#1f988b"/><rect x="221" y="396" width="6" height="2" fill="#33628d"/><rect x="221" y="394" width="6" height="2" fill="#2d708e"/><rect x="221" y="392" width="6" height="2" fill="#228d8d"/><rect x="221" y="390" width="6" height="2" fill="#26828e"/><rect x="221" y="389" width="6" height="1" fill="#24878e"/><rect x="221" y="387" width="6" height="2" fill="#297a8e"/><rect x="221" y="385" width="6" height="2" fill="#2a768e"/><rect x="221" y="414" width="6" height="2" fill="#297a8e"/><rect x="221" y="412" width="6" height="2" fill="#34618d"/><rect x="221" y="410" width="6" height="2" fill="#2b748e"/><rect x="221" y="409" width="6" height="1" fill="#2e6f8e"/><rect x="221" y="407" width="6" height="2" fill="#2c718e"/><rect x="221" y="405" width="6" height="2" fill="#2a788e"/><rect x="221" y="403" width="6" height="2" fill="#23888e"/><rect x="221" y="401" width="6" height="2" fill="#32648e"/><rect x="221" y="399" width="6" height="2" fill="#33628d"/><rect x="254" y="389" width="5" height="1" fill="#3d4d8a"/><rect x="254" y="387" width="5" height="2" fill="#482374"/><rect x="254" y="385" width="5" height="2" fill="#482677"/><rect x="254" y="383" width="5" height="2" fill="#34618d"/><rect x="254" y="381" width="5" height="2" fill="#482475"/><rect x="254" y="380" width="5" height="1" fill="#443b84"/><rect x="254" y="378" width="5" height="2" fill="#453882"/><rect x="254" y="376" width="5" height="2" fill="#46337f"/><rect x="254" y="374" width="5" height="2" fill="#472e7c"/><rect x="254" y="439" width="5" height="2" fill="#3f4889"/><rect x="254" y="438" width="5" height="1" fill="#3e4989"/><rect x="254" y="436" width="5" height="2" fill="#453781"/><rect x="254" y="434" width="5" height="2" fill="#3f4889"/><rect x="254" y="432" width="5" height="2" fill="#482173"/><rect x="254" y="430" width="5" height="2" fill="#3e4c8a"/><rect x="254" y="428" width="5" height="2" fill="#46337f"/><rect x="254" y="427" width="5" height="1" fill="#375b8d"/><rect x="254" y="425" width="5" height="2" fill="#482071"/><rect x="254" y="474" width="5" height="2" fill="#30698e"/><rect x="254" y="472" width="5" height="2" fill="#424086"/><rect x="254" y="470" width="5" height="2" fill="#2e6f8e"/><rect x="254" y="468" width="5" height="2" fill="#3d4d8a"/><rect x="254" y="467" width="5" height="1" fill="#39558c"/><rect x="254" y="465" width="5" height="2" fill="#424086"/><rect x="254" y="463" width="5" height="2" fill="#375a8c"/><rect x="254" y="461" width="5" height="2" fill="#404588"/><rect x="254" y="459" width="5" height="2" fill="#3d4e8a"/><rect x="254" y="505" width="5" height="1" fill="#20a486"/><rect x="254" y="503" width="5" height="2" fill="#21918c"/><rect x="254" y="501" width="5" height="2" fill="#20938c"/><rect x="254" y="499" width="5" height="2" fill="#24868e"/><rect x="254" y="497" width="5" height="2" fill="#24aa83"/><rect x="254" y="496" width="5" height="1" fill="#1f998a"/><rect x="254" y="494" width="5" height="2" fill="#1f9a8a"/><rect x="254" y="492" width="5" height="2" fill="#277e8e"/><rect x="254" y="490" width="5" height="2" fill="#228c8d"/><rect x="254" y="488" width="5" height="2" fill="#31668e"/><rect x="254" y="519" width="5" height="2" fill="#2b758e"/><rect x="254" y="517" width="5" height="2" fill="#30698e"/><rect x="254" y="515" width="5" height="2" fill="#2b758e"/><rect x="254" y="514" width="5" height="1" fill="#228b8d"/><rect x="254" y="512" width="5" height="2" fill="#21918c"/><rect x="254" y="510" width="5" height="2" fill="#2e6e8e"/><rect x="254" y="508" width="5" height="2" fill="#2a768e"/><rect x="254" y="506" width="5" height="2" fill="#33638d"/><rect x="254" y="505" width="5" height="1" fill="#27808e"/><rect x="151" y="459" width="5" height="2" fill="#375b8d"/><rect x="151" y="457" width="5" height="2" fill="#34608d"/><rect x="151" y="456" width="5" height="1" fill="#2c728e"/><rect x="151" y="454" width="5" height="2" fill="#238a8d"/><rect x="151" y="452" width="5" height="2" fill="#228d8d"/><rect x="151" y="450" width="5" height="2" fill="#287c8e"/><rect x="151" y="448" width="5" height="2" fill="#218e8d"/><rect x="151" y="483" width="5" height="2" fill="#1e9c89"/><rect x="151" y="481" width="5" height="2" fill="#25ab82"/><rect x="151" y="479" width="5" height="2" fill="#1f958b"/><rect x="151" y="477" width="5" height="2" fill="#1f9e89"/><rect x="151" y="476" width="5" height="1" fill="#25ac82"/><rect x="151" y="474" width="5" height="2" fill="#26ad81"/><rect x="151" y="472" width="5" height="2" fill="#218f8d"/><rect x="151" y="470" width="5" height="2" fill="#2db27d"/><rect x="151" y="468" width="5" height="2" fill="#1f968b"/><rect x="151" y="467" width="5" height="1" fill="#21a585"/><rect x="151" y="465" width="5" height="2" fill="#1fa187"/><rect x="151" y="463" width="5" height="2" fill="#2c718e"/><rect x="151" y="461" width="5" height="2" fill="#228d8d"/><rect x="151" y="459" width="5" height="2" fill="#25848e"/><rect x="151" y="494" width="5" height="2" fill="#238a8d"/><rect x="151" y="492" width="5" height="2" fill="#25848e"/><rect x="151" y="490" width="5" height="2" fill="#24878e"/><rect x="151" y="488" width="5" height="2" fill="#375b8d"/><rect x="151" y="486" width="5" height="2" fill="#27808e"/><rect x="151" y="485" width="5" height="1" fill="#297a8e"/><rect x="151" y="483" width="5" height="2" fill="#287d8e"/><rect x="227" y="457" width="5" height="2" fill="#29798e"/><rect x="227" y="456" width="5" height="1" fill="#238a8d"/><rect x="227" y="454" width="5" height="2" fill="#2d718e"/><rect x="227" y="452" width="5" height="2" fill="#30698e"/><rect x="227" y="450" width="5" height="2" fill="#238a8d"/><rect x="227" y="448" width="5" height="2" fill="#2e6f8e"/><rect x="227" y="447" width="5" height="1" fill="#29798e"/><rect x="227" y="445" width="5" height="2" fill="#3d4d8a"/><rect x="227" y="443" width="5" height="2" fill="#3b528b"/><rect x="227" y="441" width="5" height="2" fill="#2d708e"/><rect x="227" y="439" width="5" height="2" fill="#31678e"/><rect x="227" y="438" width="5" height="1" fill="#25858e"/><rect x="227" y="467" width="5" height="1" fill="#1e9b8a"/><rect x="227" y="465" width="5" height="2" fill="#228c8d"/><rect x="227" y="463" width="5" height="2" fill="#1f968b"/><rect x="227" y="461" width="5" height="2" fill="#1e9d89"/><rect x="227" y="459" width="5" height="2" fill="#21918c"/><rect x="227" y="457" width="5" height="2" fill="#228d8d"/><rect x="227" y="488" width="5" height="2" fill="#2c738e"/><rect x="227" y="486" width="5" height="2" fill="#32648e"/><rect x="227" y="485" width="5" height="1" fill="#24868e"/><rect x="227" y="483" width="5" height="2" fill="#297a8e"/><rect x="227" y="481" width="5" height="2" fill="#2d708e"/><rect x="227" y="479" width="5" height="2" fill="#2d708e"/><rect x="227" y="477" width="5" height="2" fill="#306a8e"/><rect x="227" y="476" width="5" height="1" fill="#34618d"/><rect x="227" y="474" width="5" height="2" fill="#31668e"/><rect x="227" y="472" width="5" height="2" fill="#2b758e"/><rect x="227" y="470" width="5" height="2" fill="#31688e"/><rect x="227" y="468" width="5" height="2" fill="#228b8d"/><rect x="227" y="467" width="5" height="1" fill="#306a8e"/><rect x="286" y="423" width="5" height="2" fill="#31678e"/><rect x="286" y="421" width="5" height="2" fill="#2e6d8e"/><rect x="286" y="419" width="5" height="2" fill="#306a8e"/><rect x="286" y="418" width="5" height="1" fill="#2f6c8e"/><rect x="286" y="436" width="5" height="2" fill="#404588"/><rect x="286" y="434" width="5" height="2" fill="#414287"/><rect x="286" y="432" width="5" height="2" fill="#2f6b8e"/><rect x="286" y="430" width="5" height="2" fill="#33638d"/><rect x="286" y="428" width="5" height="2" fill="#3b518b"/><rect x="286" y="439" width="5" height="2" fill="#2a768e"/><rect x="286" y="438" width="5" height="1" fill="#2d708e"/><rect x="286" y="447" width="5" height="1" fill="#306a8e"/><rect x="286" y="445" width="5" height="2" fill="#34608d"/><rect x="286" y="443" width="5" height="2" fill="#2a768e"/><rect x="286" y="441" width="5" height="2" fill="#31668e"/><rect x="286" y="459" width="5" height="2" fill="#2d718e"/><rect x="286" y="457" width="5" height="2" fill="#375a8c"/><rect x="286" y="456" width="5" height="1" fill="#31678e"/><rect x="291" y="448" width="6" height="2" fill="#3a548c"/><rect x="291" y="447" width="6" height="1" fill="#463480"/><rect x="291" y="445" width="6" height="2" fill="#472a7a"/><rect x="291" y="457" width="6" height="2" fill="#453781"/><rect x="291" y="456" width="6" height="1" fill="#2f6b8e"/><rect x="291" y="476" width="6" height="1" fill="#38588c"/><rect x="291" y="474" width="6" height="2" fill="#3b518b"/><rect x="291" y="472" width="6" height="2" fill="#3c508b"/><rect x="291" y="486" width="6" height="2" fill="#2d708e"/><rect x="291" y="485" width="6" height="1" fill="#39568c"/><rect x="291" y="499" width="6" height="2" fill="#33628d"/><rect x="291" y="497" width="6" height="2" fill="#2c728e"/><rect x="291" y="496" width="6" height="1" fill="#32658e"/><rect x="291" y="494" width="6" height="2" fill="#34618d"/><rect x="291" y="492" width="6" height="2" fill="#38588c"/><rect x="291" y="490" width="6" height="2" fill="#34608d"/><rect x="291" y="488" width="6" height="2" fill="#414287"/><rect x="281" y="389" width="5" height="1" fill="#33638d"/><rect x="281" y="387" width="5" height="2" fill="#433d84"/><rect x="281" y="385" width="5" height="2" fill="#472a7a"/><rect x="281" y="383" width="5" height="2" fill="#433e85"/><rect x="281" y="381" width="5" height="2" fill="#404688"/><rect x="281" y="380" width="5" height="1" fill="#453781"/><rect x="281" y="378" width="5" height="2" fill="#414487"/><rect x="281" y="376" width="5" height="2" fill="#46337f"/><rect x="281" y="474" width="5" height="2" fill="#2c738e"/><rect x="281" y="472" width="5" height="2" fill="#32648e"/><rect x="281" y="470" width="5" height="2" fill="#2c728e"/><rect x="281" y="468" width="5" height="2" fill="#2a768e"/><rect x="281" y="467" width="5" height="1" fill="#25848e"/><rect x="162" y="459" width="5" height="2" fill="#404588"/><rect x="162" y="457" width="5" height="2" fill="#453882"/><rect x="162" y="456" width="5" height="1" fill="#482173"/><rect x="162" y="454" width="5" height="2" fill="#46307e"/><rect x="162" y="452" width="5" height="2" fill="#32648e"/><rect x="162" y="450" width="5" height="2" fill="#481f70"/><rect x="162" y="448" width="5" height="2" fill="#34608d"/><rect x="297" y="447" width="5" height="1" fill="#2f6b8e"/><rect x="297" y="445" width="5" height="2" fill="#31688e"/><rect x="297" y="454" width="5" height="2" fill="#297b8e"/><rect x="297" y="452" width="5" height="2" fill="#2a768e"/><rect x="297" y="450" width="5" height="2" fill="#31668e"/><rect x="302" y="450" width="6" height="2" fill="#20a386"/><rect x="302" y="448" width="6" height="2" fill="#1f9e89"/><rect x="302" y="447" width="6" height="1" fill="#1f968b"/><rect x="308" y="448" width="5" height="2" fill="#2d708e"/><rect x="308" y="447" width="5" height="1" fill="#26818e"/><rect x="308" y="450" width="5" height="2" fill="#39568c"/><rect x="308" y="448" width="5" height="2" fill="#355f8d"/><rect x="313" y="448" width="5" height="2" fill="#2e6e8e"/><rect x="313" y="447" width="5" height="1" fill="#26818e"/><rect x="318" y="448" width="6" height="2" fill="#472d7b"/><rect x="318" y="447" width="6" height="1" fill="#2f6c8e"/><rect x="129" y="534" width="6" height="1" fill="#2c738e"/><rect x="129" y="532" width="6" height="2" fill="#2c738e"/><rect x="129" y="530" width="6" height="2" fill="#2a788e"/><rect x="129" y="528" width="6" height="2" fill="#2d718e"/><rect x="129" y="526" width="6" height="2" fill="#287c8e"/><rect x="129" y="525" width="6" height="1" fill="#2e6f8e"/><rect x="129" y="523" width="6" height="2" fill="#31678e"/><rect x="129" y="521" width="6" height="2" fill="#2a768e"/><rect x="129" y="519" width="6" height="2" fill="#2a778e"/><rect x="129" y="517" width="6" height="2" fill="#2e6e8e"/><rect x="129" y="515" width="6" height="2" fill="#297a8e"/><rect x="129" y="546" width="6" height="2" fill="#22a884"/><rect x="129" y="544" width="6" height="2" fill="#2f6c8e"/><rect x="129" y="543" width="6" height="1" fill="#20928c"/><rect x="129" y="541" width="6" height="2" fill="#27ad81"/><rect x="129" y="539" width="6" height="2" fill="#20928c"/><rect x="129" y="537" width="6" height="2" fill="#23a983"/><rect x="129" y="535" width="6" height="2" fill="#2db27d"/><rect x="129" y="534" width="6" height="1" fill="#2db27d"/><rect x="129" y="554" width="6" height="1" fill="#2b758e"/><rect x="129" y="552" width="6" height="2" fill="#2c718e"/><rect x="129" y="550" width="6" height="2" fill="#2a768e"/><rect x="129" y="548" width="6" height="2" fill="#25838e"/><rect x="129" y="546" width="6" height="2" fill="#2a768e"/><rect x="129" y="570" width="6" height="2" fill="#3e4c8a"/><rect x="129" y="568" width="6" height="2" fill="#481f70"/><rect x="129" y="566" width="6" height="2" fill="#3f4788"/><rect x="129" y="564" width="6" height="2" fill="#433d84"/><rect x="129" y="563" width="6" height="1" fill="#482475"/><rect x="129" y="561" width="6" height="2" fill="#482677"/><rect x="129" y="559" width="6" height="2" fill="#482576"/><rect x="129" y="557" width="6" height="2" fill="#443a83"/><rect x="129" y="555" width="6" height="2" fill="#481668"/><rect x="129" y="554" width="6" height="1" fill="#482677"/><rect x="173" y="546" width="5" height="2" fill="#2a778e"/><rect x="173" y="544" width="5" height="2" fill="#21918c"/><rect x="173" y="543" width="5" height="1" fill="#21908d"/><rect x="173" y="541" width="5" height="2" fill="#2c718e"/><rect x="173" y="539" width="5" height="2" fill="#2e6e8e"/><rect x="173" y="537" width="5" height="2" fill="#24868e"/><rect x="173" y="535" width="5" height="2" fill="#287d8e"/><rect x="173" y="534" width="5" height="1" fill="#23888e"/><rect x="173" y="532" width="5" height="2" fill="#218e8d"/><rect x="173" y="530" width="5" height="2" fill="#25858e"/><rect x="173" y="528" width="5" height="2" fill="#2d718e"/><rect x="173" y="526" width="5" height="2" fill="#23898e"/><rect x="173" y="525" width="5" height="1" fill="#2e6e8e"/><rect x="173" y="523" width="5" height="2" fill="#3a538b"/><rect x="173" y="521" width="5" height="2" fill="#2a788e"/><rect x="173" y="554" width="5" height="1" fill="#218e8d"/><rect x="173" y="552" width="5" height="2" fill="#21a585"/><rect x="173" y="550" width="5" height="2" fill="#27ad81"/><rect x="173" y="548" width="5" height="2" fill="#23a983"/><rect x="173" y="546" width="5" height="2" fill="#1f9e89"/><rect x="173" y="559" width="5" height="2" fill="#297a8e"/><rect x="173" y="557" width="5" height="2" fill="#31678e"/><rect x="173" y="555" width="5" height="2" fill="#2a778e"/><rect x="173" y="554" width="5" height="1" fill="#31678e"/><rect x="173" y="563" width="5" height="1" fill="#218e8d"/><rect x="173" y="561" width="5" height="2" fill="#21918c"/><rect x="173" y="559" width="5" height="2" fill="#1f948c"/><rect x="194" y="521" width="6" height="2" fill="#2c728e"/><rect x="194" y="519" width="6" height="2" fill="#3c508b"/><rect x="194" y="517" width="6" height="2" fill="#2c728e"/><rect x="194" y="515" width="6" height="2" fill="#355f8d"/><rect x="194" y="514" width="6" height="1" fill="#39558c"/><rect x="194" y="512" width="6" height="2" fill="#29798e"/><rect x="194" y="510" width="6" height="2" fill="#2c718e"/><rect x="194" y="508" width="6" height="2" fill="#2e6d8e"/><rect x="194" y="506" width="6" height="2" fill="#3a548c"/><rect x="194" y="505" width="6" height="1" fill="#32658e"/><rect x="194" y="592" width="6" height="1" fill="#23898e"/><rect x="194" y="590" width="6" height="2" fill="#355f8d"/><rect x="194" y="588" width="6" height="2" fill="#365d8d"/><rect x="194" y="586" width="6" height="2" fill="#2e6f8e"/><rect x="194" y="584" width="6" height="2" fill="#228b8d"/><rect x="194" y="583" width="6" height="1" fill="#297a8e"/><rect x="194" y="581" width="6" height="2" fill="#31668e"/><rect x="194" y="579" width="6" height="2" fill="#2b748e"/><rect x="194" y="577" width="6" height="2" fill="#2d718e"/><rect x="194" y="575" width="6" height="2" fill="#365d8d"/><rect x="194" y="573" width="6" height="2" fill="#2e6e8e"/><rect x="194" y="572" width="6" height="1" fill="#29798e"/><rect x="194" y="570" width="6" height="2" fill="#238a8d"/><rect x="194" y="568" width="6" height="2" fill="#2d708e"/><rect x="194" y="566" width="6" height="2" fill="#306a8e"/><rect x="194" y="564" width="6" height="2" fill="#2c718e"/><rect x="194" y="563" width="6" height="1" fill="#297a8e"/><rect x="194" y="561" width="6" height="2" fill="#2f6b8e"/><rect x="194" y="559" width="6" height="2" fill="#287c8e"/><rect x="194" y="557" width="6" height="2" fill="#26828e"/><rect x="194" y="555" width="6" height="2" fill="#30698e"/><rect x="227" y="552" width="5" height="2" fill="#297b8e"/><rect x="227" y="550" width="5" height="2" fill="#2e6f8e"/><rect x="227" y="548" width="5" height="2" fill="#2b748e"/><rect x="227" y="546" width="5" height="2" fill="#277e8e"/><rect x="227" y="544" width="5" height="2" fill="#38598c"/><rect x="227" y="543" width="5" height="1" fill="#297b8e"/><rect x="227" y="541" width="5" height="2" fill="#2e6f8e"/><rect x="227" y="563" width="5" height="1" fill="#277f8e"/><rect x="227" y="561" width="5" height="2" fill="#24878e"/><rect x="227" y="559" width="5" height="2" fill="#25ab82"/><rect x="227" y="557" width="5" height="2" fill="#23888e"/><rect x="227" y="555" width="5" height="2" fill="#1f958b"/><rect x="227" y="554" width="5" height="1" fill="#1f9a8a"/><rect x="227" y="552" width="5" height="2" fill="#287c8e"/><rect x="227" y="572" width="5" height="1" fill="#25858e"/><rect x="227" y="570" width="5" height="2" fill="#24868e"/><rect x="227" y="568" width="5" height="2" fill="#2a768e"/><rect x="227" y="566" width="5" height="2" fill="#3c508b"/><rect x="227" y="564" width="5" height="2" fill="#218e8d"/><rect x="227" y="563" width="5" height="1" fill="#2c738e"/><rect x="232" y="573" width="5" height="2" fill="#34618d"/><rect x="232" y="572" width="5" height="1" fill="#46337f"/><rect x="232" y="570" width="5" height="2" fill="#404588"/><rect x="232" y="568" width="5" height="2" fill="#46337f"/><rect x="232" y="566" width="5" height="2" fill="#3c508b"/><rect x="232" y="564" width="5" height="2" fill="#424086"/><rect x="232" y="563" width="5" height="1" fill="#472c7a"/><rect x="232" y="561" width="5" height="2" fill="#39568c"/><rect x="232" y="559" width="5" height="2" fill="#3d4d8a"/><rect x="232" y="557" width="5" height="2" fill="#414487"/><rect x="232" y="555" width="5" height="2" fill="#443a83"/><rect x="232" y="554" width="5" height="1" fill="#482878"/><rect x="232" y="552" width="5" height="2" fill="#472e7c"/><rect x="232" y="550" width="5" height="2" fill="#38588c"/><rect x="232" y="548" width="5" height="2" fill="#463480"/><rect x="232" y="546" width="5" height="2" fill="#3e4989"/><rect x="232" y="544" width="5" height="2" fill="#472f7d"/><rect x="232" y="543" width="5" height="1" fill="#404688"/><rect x="232" y="541" width="5" height="2" fill="#365c8d"/><rect x="232" y="637" width="5" height="2" fill="#463480"/><rect x="232" y="635" width="5" height="2" fill="#453781"/><rect x="232" y="633" width="5" height="2" fill="#48186a"/><rect x="232" y="631" width="5" height="2" fill="#39558c"/><rect x="232" y="630" width="5" height="1" fill="#39558c"/><rect x="232" y="628" width="5" height="2" fill="#3d4e8a"/><rect x="232" y="626" width="5" height="2" fill="#482677"/><rect x="232" y="624" width="5" height="2" fill="#414287"/><rect x="232" y="622" width="5" height="2" fill="#404688"/><rect x="232" y="621" width="5" height="1" fill="#481d6f"/><rect x="232" y="619" width="5" height="2" fill="#482878"/><rect x="232" y="617" width="5" height="2" fill="#482979"/><rect x="232" y="615" width="5" height="2" fill="#414287"/><rect x="232" y="613" width="5" height="2" fill="#414287"/><rect x="232" y="612" width="5" height="1" fill="#482878"/><rect x="232" y="610" width="5" height="2" fill="#472a7a"/><rect x="232" y="608" width="5" height="2" fill="#472a7a"/><rect x="232" y="606" width="5" height="2" fill="#433e85"/><rect x="232" y="604" width="5" height="2" fill="#414287"/><rect x="232" y="602" width="5" height="2" fill="#482374"/><rect x="232" y="601" width="5" height="1" fill="#472a7a"/><rect x="232" y="599" width="5" height="2" fill="#482071"/><rect x="232" y="677" width="5" height="2" fill="#297a8e"/><rect x="232" y="675" width="5" height="2" fill="#26828e"/><rect x="232" y="673" width="5" height="2" fill="#32648e"/><rect x="232" y="671" width="5" height="2" fill="#31688e"/><rect x="232" y="670" width="5" height="1" fill="#2c738e"/><rect x="232" y="668" width="5" height="2" fill="#228b8d"/><rect x="232" y="666" width="5" height="2" fill="#25838e"/><rect x="232" y="664" width="5" height="2" fill="#355f8d"/><rect x="232" y="662" width="5" height="2" fill="#3c508b"/><rect x="232" y="660" width="5" height="2" fill="#32648e"/><rect x="232" y="659" width="5" height="1" fill="#2e6d8e"/><rect x="232" y="657" width="5" height="2" fill="#26818e"/><rect x="232" y="655" width="5" height="2" fill="#23888e"/><rect x="232" y="653" width="5" height="2" fill="#24878e"/><rect x="232" y="651" width="5" height="2" fill="#23898e"/><rect x="232" y="650" width="5" height="1" fill="#2f6b8e"/><rect x="232" y="648" width="5" height="2" fill="#2c718e"/><rect x="232" y="646" width="5" height="2" fill="#27808e"/><rect x="232" y="644" width="5" height="2" fill="#30698e"/><rect x="232" y="642" width="5" height="2" fill="#26828e"/><rect x="232" y="641" width="5" height="1" fill="#26818e"/><rect x="232" y="639" width="5" height="2" fill="#375a8c"/><rect x="232" y="637" width="5" height="2" fill="#38598c"/><rect x="259" y="590" width="5" height="2" fill="#404688"/><rect x="259" y="588" width="5" height="2" fill="#3f4889"/><rect x="259" y="586" width="5" height="2" fill="#375a8c"/><rect x="259" y="584" width="5" height="2" fill="#481f70"/><rect x="259" y="583" width="5" height="1" fill="#443983"/><rect x="259" y="581" width="5" height="2" fill="#46307e"/><rect x="259" y="579" width="5" height="2" fill="#453581"/><rect x="259" y="577" width="5" height="2" fill="#404588"/><rect x="259" y="575" width="5" height="2" fill="#32648e"/><rect x="259" y="573" width="5" height="2" fill="#443a83"/><rect x="259" y="572" width="5" height="1" fill="#472f7d"/><rect x="259" y="570" width="5" height="2" fill="#424086"/><rect x="259" y="568" width="5" height="2" fill="#443a83"/><rect x="259" y="566" width="5" height="2" fill="#39558c"/><rect x="259" y="646" width="5" height="2" fill="#1f9e89"/><rect x="259" y="644" width="5" height="2" fill="#1f9f88"/><rect x="259" y="642" width="5" height="2" fill="#277f8e"/><rect x="259" y="641" width="5" height="1" fill="#25848e"/><rect x="259" y="639" width="5" height="2" fill="#20938c"/><rect x="259" y="637" width="5" height="2" fill="#355f8d"/><rect x="259" y="635" width="5" height="2" fill="#218f8d"/><rect x="259" y="633" width="5" height="2" fill="#228c8d"/><rect x="259" y="631" width="5" height="2" fill="#287d8e"/><rect x="259" y="630" width="5" height="1" fill="#23898e"/><rect x="259" y="628" width="5" height="2" fill="#31688e"/><rect x="259" y="626" width="5" height="2" fill="#277e8e"/><rect x="259" y="624" width="5" height="2" fill="#2e6f8e"/><rect x="259" y="622" width="5" height="2" fill="#24878e"/><rect x="259" y="621" width="5" height="1" fill="#24868e"/><rect x="259" y="619" width="5" height="2" fill="#20928c"/><rect x="259" y="617" width="5" height="2" fill="#20a386"/><rect x="259" y="615" width="5" height="2" fill="#2f6b8e"/><rect x="259" y="613" width="5" height="2" fill="#1f9f88"/><rect x="248" y="577" width="6" height="2" fill="#32658e"/><rect x="248" y="575" width="6" height="2" fill="#2f6c8e"/><rect x="248" y="573" width="6" height="2" fill="#31678e"/><rect x="248" y="572" width="6" height="1" fill="#306a8e"/><rect x="248" y="570" width="6" height="2" fill="#38598c"/><rect x="248" y="568" width="6" height="2" fill="#3e4c8a"/><rect x="248" y="566" width="6" height="2" fill="#2c738e"/><rect x="248" y="564" width="6" height="2" fill="#3a548c"/><rect x="248" y="563" width="6" height="1" fill="#472f7d"/><rect x="248" y="561" width="6" height="2" fill="#482173"/><rect x="248" y="559" width="6" height="2" fill="#365d8d"/><rect x="248" y="557" width="6" height="2" fill="#3c508b"/><rect x="146" y="602" width="5" height="2" fill="#3e4c8a"/><rect x="146" y="601" width="5" height="1" fill="#29798e"/><rect x="146" y="599" width="5" height="2" fill="#26828e"/><rect x="146" y="597" width="5" height="2" fill="#26818e"/><rect x="146" y="595" width="5" height="2" fill="#355f8d"/><rect x="146" y="593" width="5" height="2" fill="#2c738e"/><rect x="146" y="592" width="5" height="1" fill="#306a8e"/><rect x="146" y="590" width="5" height="2" fill="#2e6d8e"/><rect x="146" y="588" width="5" height="2" fill="#355e8d"/><rect x="146" y="586" width="5" height="2" fill="#27808e"/><rect x="146" y="584" width="5" height="2" fill="#31668e"/><rect x="146" y="583" width="5" height="1" fill="#3f4889"/><rect x="146" y="581" width="5" height="2" fill="#2a788e"/><rect x="146" y="579" width="5" height="2" fill="#2f6c8e"/><rect x="146" y="577" width="5" height="2" fill="#2b748e"/><rect x="146" y="575" width="5" height="2" fill="#2a768e"/><rect x="146" y="573" width="5" height="2" fill="#29798e"/><rect x="146" y="572" width="5" height="1" fill="#2b748e"/><rect x="146" y="610" width="5" height="2" fill="#46337f"/><rect x="146" y="608" width="5" height="2" fill="#443b84"/><rect x="146" y="606" width="5" height="2" fill="#472c7a"/><rect x="146" y="604" width="5" height="2" fill="#34608d"/><rect x="146" y="602" width="5" height="2" fill="#482576"/><rect x="156" y="619" width="6" height="2" fill="#3f4889"/><rect x="156" y="617" width="6" height="2" fill="#453882"/><rect x="156" y="615" width="6" height="2" fill="#443983"/><rect x="156" y="613" width="6" height="2" fill="#3b528b"/><rect x="156" y="612" width="6" height="1" fill="#482979"/><rect x="156" y="610" width="6" height="2" fill="#453781"/><rect x="156" y="608" width="6" height="2" fill="#453882"/><rect x="156" y="606" width="6" height="2" fill="#404588"/><rect x="156" y="604" width="6" height="2" fill="#482071"/><rect x="156" y="602" width="6" height="2" fill="#46327e"/><rect x="156" y="601" width="6" height="1" fill="#46337f"/><rect x="156" y="599" width="6" height="2" fill="#3b518b"/><rect x="156" y="626" width="6" height="2" fill="#277f8e"/><rect x="156" y="624" width="6" height="2" fill="#2c718e"/><rect x="156" y="622" width="6" height="2" fill="#2e6f8e"/><rect x="156" y="650" width="6" height="1" fill="#1fa287"/><rect x="156" y="648" width="6" height="2" fill="#21918c"/><rect x="156" y="646" width="6" height="2" fill="#25ab82"/><rect x="156" y="644" width="6" height="2" fill="#21908d"/><rect x="156" y="642" width="6" height="2" fill="#24aa83"/><rect x="156" y="641" width="6" height="1" fill="#355e8d"/><rect x="156" y="639" width="6" height="2" fill="#1f9f88"/><rect x="156" y="637" width="6" height="2" fill="#20928c"/><rect x="156" y="635" width="6" height="2" fill="#228d8d"/><rect x="156" y="633" width="6" height="2" fill="#23888e"/><rect x="156" y="631" width="6" height="2" fill="#33628d"/><rect x="156" y="670" width="6" height="1" fill="#482576"/><rect x="156" y="668" width="6" height="2" fill="#38598c"/><rect x="156" y="666" width="6" height="2" fill="#472a7a"/><rect x="156" y="664" width="6" height="2" fill="#46337f"/><rect x="156" y="662" width="6" height="2" fill="#472c7a"/><rect x="156" y="660" width="6" height="2" fill="#46307e"/><rect x="156" y="659" width="6" height="1" fill="#443b84"/><rect x="156" y="657" width="6" height="2" fill="#443b84"/><rect x="156" y="655" width="6" height="2" fill="#46337f"/><rect x="156" y="653" width="6" height="2" fill="#482878"/><rect x="156" y="651" width="6" height="2" fill="#472d7b"/><rect x="156" y="650" width="6" height="1" fill="#38588c"/><rect x="124" y="579" width="5" height="2" fill="#424086"/><rect x="124" y="577" width="5" height="2" fill="#482374"/><rect x="124" y="575" width="5" height="2" fill="#423f85"/><rect x="124" y="573" width="5" height="2" fill="#414487"/><rect x="124" y="572" width="5" height="1" fill="#3c508b"/><rect x="124" y="570" width="5" height="2" fill="#463480"/><rect x="124" y="568" width="5" height="2" fill="#38598c"/><rect x="124" y="566" width="5" height="2" fill="#404588"/><rect x="124" y="564" width="5" height="2" fill="#433d84"/><rect x="124" y="563" width="5" height="1" fill="#3e4c8a"/><rect x="124" y="561" width="5" height="2" fill="#423f85"/><rect x="124" y="559" width="5" height="2" fill="#375a8c"/><rect x="124" y="557" width="5" height="2" fill="#355e8d"/><rect x="124" y="555" width="5" height="2" fill="#453581"/><rect x="124" y="554" width="5" height="1" fill="#453882"/><rect x="156" y="737" width="6" height="1" fill="#453781"/><rect x="156" y="735" width="6" height="2" fill="#46307e"/><rect x="156" y="733" width="6" height="2" fill="#482071"/><rect x="156" y="731" width="6" height="2" fill="#463480"/><rect x="156" y="729" width="6" height="2" fill="#355f8d"/><rect x="156" y="728" width="6" height="1" fill="#46327e"/><rect x="156" y="726" width="6" height="2" fill="#453781"/><rect x="156" y="724" width="6" height="2" fill="#3e4a89"/><rect x="156" y="722" width="6" height="2" fill="#481b6d"/><rect x="156" y="720" width="6" height="2" fill="#355f8d"/><rect x="156" y="718" width="6" height="2" fill="#482979"/><rect x="156" y="780" width="6" height="2" fill="#39558c"/><rect x="156" y="778" width="6" height="2" fill="#27808e"/><rect x="156" y="776" width="6" height="2" fill="#355e8d"/><rect x="156" y="786" width="6" height="1" fill="#443a83"/><rect x="156" y="784" width="6" height="2" fill="#3c508b"/><rect x="156" y="782" width="6" height="2" fill="#423f85"/><rect x="156" y="793" width="6" height="2" fill="#23898e"/><rect x="156" y="791" width="6" height="2" fill="#2c738e"/><rect x="156" y="789" width="6" height="2" fill="#2e6f8e"/><rect x="156" y="787" width="6" height="2" fill="#355e8d"/><rect x="156" y="786" width="6" height="1" fill="#26828e"/><rect x="156" y="796" width="6" height="2" fill="#1e9d89"/><rect x="156" y="795" width="6" height="1" fill="#32b67a"/><rect x="156" y="793" width="6" height="2" fill="#2db27d"/><rect x="156" y="800" width="6" height="2" fill="#dde318"/><rect x="156" y="798" width="6" height="2" fill="#bddf26"/><rect x="156" y="796" width="6" height="2" fill="#90d743"/><rect x="248" y="795" width="6" height="1" fill="#20938c"/><rect x="248" y="793" width="6" height="2" fill="#287c8e"/><rect x="248" y="791" width="6" height="2" fill="#2c718e"/><rect x="248" y="789" width="6" height="2" fill="#2f6c8e"/><rect x="248" y="787" width="6" height="2" fill="#20928c"/><rect x="248" y="786" width="6" height="1" fill="#25848e"/><rect x="248" y="800" width="6" height="2" fill="#3fbc73"/><rect x="248" y="798" width="6" height="2" fill="#37b878"/><rect x="248" y="796" width="6" height="2" fill="#6ece58"/><rect x="248" y="795" width="6" height="1" fill="#32b67a"/><rect x="173" y="782" width="5" height="2" fill="#30698e"/><rect x="173" y="780" width="5" height="2" fill="#2c728e"/><rect x="173" y="778" width="5" height="2" fill="#25838e"/><rect x="173" y="776" width="5" height="2" fill="#38588c"/><rect x="135" y="709" width="5" height="2" fill="#26818e"/><rect x="135" y="708" width="5" height="1" fill="#1f948c"/><rect x="135" y="706" width="5" height="2" fill="#25858e"/><rect x="135" y="704" width="5" height="2" fill="#297b8e"/><rect x="135" y="702" width="5" height="2" fill="#287c8e"/><rect x="135" y="700" width="5" height="2" fill="#25848e"/><rect x="135" y="699" width="5" height="1" fill="#29798e"/><rect x="135" y="697" width="5" height="2" fill="#26828e"/><rect x="135" y="695" width="5" height="2" fill="#25848e"/><rect x="135" y="693" width="5" height="2" fill="#21918c"/><rect x="135" y="691" width="5" height="2" fill="#23898e"/><rect x="135" y="689" width="5" height="2" fill="#27808e"/><rect x="135" y="717" width="5" height="1" fill="#20928c"/><rect x="135" y="715" width="5" height="2" fill="#1fa187"/><rect x="135" y="713" width="5" height="2" fill="#1fa187"/><rect x="135" y="711" width="5" height="2" fill="#1f958b"/><rect x="135" y="709" width="5" height="2" fill="#26ad81"/><rect x="135" y="720" width="5" height="2" fill="#25858e"/><rect x="135" y="718" width="5" height="2" fill="#21908d"/><rect x="135" y="717" width="5" height="1" fill="#2e6e8e"/><rect x="178" y="726" width="5" height="2" fill="#218e8d"/><rect x="178" y="724" width="5" height="2" fill="#2d718e"/><rect x="178" y="722" width="5" height="2" fill="#2a768e"/><rect x="178" y="720" width="5" height="2" fill="#375a8c"/><rect x="178" y="718" width="5" height="2" fill="#26818e"/><rect x="178" y="717" width="5" height="1" fill="#2d708e"/><rect x="178" y="715" width="5" height="2" fill="#1f948c"/><rect x="178" y="713" width="5" height="2" fill="#277e8e"/><rect x="178" y="711" width="5" height="2" fill="#228c8d"/><rect x="178" y="709" width="5" height="2" fill="#2c728e"/><rect x="178" y="708" width="5" height="1" fill="#297b8e"/><rect x="178" y="706" width="5" height="2" fill="#2b758e"/><rect x="178" y="704" width="5" height="2" fill="#297a8e"/><rect x="178" y="702" width="5" height="2" fill="#2e6d8e"/><rect x="178" y="738" width="5" height="2" fill="#472c7a"/><rect x="178" y="737" width="5" height="1" fill="#482071"/><rect x="178" y="735" width="5" height="2" fill="#404588"/><rect x="178" y="733" width="5" height="2" fill="#463480"/><rect x="178" y="731" width="5" height="2" fill="#472e7c"/><rect x="178" y="729" width="5" height="2" fill="#3e4989"/><rect x="178" y="728" width="5" height="1" fill="#3f4788"/><rect x="178" y="726" width="5" height="2" fill="#482878"/><rect x="200" y="740" width="5" height="2" fill="#26818e"/><rect x="200" y="738" width="5" height="2" fill="#2b748e"/><rect x="200" y="737" width="5" height="1" fill="#25848e"/><rect x="200" y="735" width="5" height="2" fill="#2c738e"/><rect x="200" y="733" width="5" height="2" fill="#23898e"/><rect x="200" y="731" width="5" height="2" fill="#228b8d"/><rect x="200" y="729" width="5" height="2" fill="#2c738e"/><rect x="200" y="728" width="5" height="1" fill="#2c718e"/><rect x="200" y="726" width="5" height="2" fill="#355e8d"/><rect x="200" y="724" width="5" height="2" fill="#29798e"/><rect x="200" y="722" width="5" height="2" fill="#23888e"/><rect x="200" y="720" width="5" height="2" fill="#32658e"/><rect x="200" y="718" width="5" height="2" fill="#2a768e"/><rect x="200" y="717" width="5" height="1" fill="#25858e"/><rect x="200" y="715" width="5" height="2" fill="#2a778e"/><rect x="237" y="733" width="6" height="2" fill="#414487"/><rect x="237" y="731" width="6" height="2" fill="#3e4c8a"/><rect x="237" y="729" width="6" height="2" fill="#472c7a"/><rect x="237" y="728" width="6" height="1" fill="#3c508b"/><rect x="237" y="726" width="6" height="2" fill="#472c7a"/><rect x="237" y="724" width="6" height="2" fill="#472d7b"/><rect x="237" y="722" width="6" height="2" fill="#481a6c"/><rect x="237" y="720" width="6" height="2" fill="#472d7b"/><rect x="237" y="718" width="6" height="2" fill="#414287"/><rect x="237" y="717" width="6" height="1" fill="#482979"/><rect x="237" y="715" width="6" height="2" fill="#375b8d"/><rect x="237" y="713" width="6" height="2" fill="#46327e"/><rect x="237" y="711" width="6" height="2" fill="#472a7a"/><rect x="237" y="737" width="6" height="1" fill="#3e4c8a"/><rect x="237" y="735" width="6" height="2" fill="#31668e"/><rect x="237" y="733" width="6" height="2" fill="#3a538b"/><rect x="237" y="755" width="6" height="2" fill="#38588c"/><rect x="237" y="753" width="6" height="2" fill="#228c8d"/><rect x="237" y="751" width="6" height="2" fill="#2a768e"/><rect x="237" y="749" width="6" height="2" fill="#2e6e8e"/><rect x="237" y="747" width="6" height="2" fill="#297b8e"/><rect x="237" y="746" width="6" height="1" fill="#27808e"/><rect x="237" y="744" width="6" height="2" fill="#297b8e"/><rect x="237" y="742" width="6" height="2" fill="#2b748e"/><rect x="237" y="740" width="6" height="2" fill="#26828e"/><rect x="237" y="738" width="6" height="2" fill="#38588c"/><rect x="237" y="737" width="6" height="1" fill="#287d8e"/><rect x="237" y="769" width="6" height="2" fill="#228d8d"/><rect x="237" y="767" width="6" height="2" fill="#1fa088"/><rect x="237" y="766" width="6" height="1" fill="#1e9d89"/><rect x="237" y="764" width="6" height="2" fill="#1f988b"/><rect x="237" y="762" width="6" height="2" fill="#21a585"/><rect x="237" y="760" width="6" height="2" fill="#20a386"/><rect x="237" y="758" width="6" height="2" fill="#306a8e"/><rect x="237" y="757" width="6" height="1" fill="#26828e"/><rect x="237" y="755" width="6" height="2" fill="#25838e"/><rect x="237" y="782" width="6" height="2" fill="#2e6d8e"/><rect x="237" y="780" width="6" height="2" fill="#375b8d"/><rect x="237" y="778" width="6" height="2" fill="#3b528b"/><rect x="237" y="776" width="6" height="2" fill="#433e85"/><rect x="237" y="775" width="6" height="1" fill="#424086"/><rect x="237" y="773" width="6" height="2" fill="#482475"/><rect x="237" y="771" width="6" height="2" fill="#443b84"/><rect x="237" y="769" width="6" height="2" fill="#33628d"/><rect x="237" y="789" width="6" height="2" fill="#2a788e"/><rect x="237" y="787" width="6" height="2" fill="#38598c"/><rect x="237" y="786" width="6" height="1" fill="#3c508b"/><rect x="237" y="784" width="6" height="2" fill="#3a538b"/><rect x="237" y="782" width="6" height="2" fill="#365d8d"/><rect x="237" y="795" width="6" height="1" fill="#26818e"/><rect x="237" y="793" width="6" height="2" fill="#297a8e"/><rect x="237" y="791" width="6" height="2" fill="#26828e"/><rect x="237" y="789" width="6" height="2" fill="#297a8e"/><rect x="237" y="796" width="6" height="2" fill="#5ac864"/><rect x="237" y="795" width="6" height="1" fill="#21a585"/><rect x="237" y="800" width="6" height="2" fill="#f6e620"/><rect x="237" y="798" width="6" height="2" fill="#ece51b"/><rect x="237" y="796" width="6" height="2" fill="#2db27d"/><rect x="264" y="744" width="6" height="2" fill="#355f8d"/><rect x="264" y="742" width="6" height="2" fill="#443a83"/><rect x="264" y="740" width="6" height="2" fill="#433e85"/><rect x="264" y="738" width="6" height="2" fill="#38588c"/><rect x="264" y="751" width="6" height="2" fill="#2c728e"/><rect x="264" y="749" width="6" height="2" fill="#2a788e"/><rect x="264" y="747" width="6" height="2" fill="#31688e"/><rect x="264" y="762" width="6" height="2" fill="#1f9f88"/><rect x="264" y="760" width="6" height="2" fill="#20928c"/><rect x="264" y="758" width="6" height="2" fill="#355e8d"/><rect x="264" y="757" width="6" height="1" fill="#1fa088"/><rect x="264" y="755" width="6" height="2" fill="#25858e"/><rect x="264" y="771" width="6" height="2" fill="#2b758e"/><rect x="264" y="769" width="6" height="2" fill="#1e9b8a"/><rect x="264" y="767" width="6" height="2" fill="#1f9a8a"/><rect x="264" y="766" width="6" height="1" fill="#2a768e"/><rect x="264" y="764" width="6" height="2" fill="#24868e"/><rect x="151" y="746" width="5" height="1" fill="#463480"/><rect x="151" y="744" width="5" height="2" fill="#453581"/><rect x="151" y="742" width="5" height="2" fill="#481f70"/><rect x="151" y="740" width="5" height="2" fill="#443b84"/><rect x="151" y="738" width="5" height="2" fill="#3c508b"/><rect x="151" y="758" width="5" height="2" fill="#472f7d"/><rect x="151" y="757" width="5" height="1" fill="#463480"/><rect x="151" y="755" width="5" height="2" fill="#46327e"/><rect x="151" y="753" width="5" height="2" fill="#355e8d"/><rect x="151" y="751" width="5" height="2" fill="#482475"/><rect x="151" y="775" width="5" height="1" fill="#34618d"/><rect x="151" y="773" width="5" height="2" fill="#424186"/><rect x="151" y="771" width="5" height="2" fill="#443983"/><rect x="151" y="769" width="5" height="2" fill="#472d7b"/><rect x="151" y="767" width="5" height="2" fill="#443a83"/><rect x="151" y="766" width="5" height="1" fill="#472e7c"/><rect x="151" y="764" width="5" height="2" fill="#414487"/><rect x="146" y="711" width="5" height="2" fill="#404588"/><rect x="146" y="709" width="5" height="2" fill="#443b84"/><rect x="146" y="708" width="5" height="1" fill="#423f85"/><rect x="297" y="97" width="5" height="2" fill="#2d708e"/><rect x="297" y="95" width="5" height="2" fill="#2c728e"/><rect x="297" y="93" width="5" height="2" fill="#32658e"/><rect x="297" y="91" width="5" height="2" fill="#33628d"/><rect x="297" y="90" width="5" height="1" fill="#365d8d"/><rect x="297" y="88" width="5" height="2" fill="#2d718e"/><rect x="297" y="86" width="5" height="2" fill="#27808e"/><rect x="421" y="97" width="5" height="2" fill="#472d7b"/><rect x="421" y="95" width="5" height="2" fill="#472d7b"/><rect x="421" y="93" width="5" height="2" fill="#453882"/><rect x="421" y="91" width="5" height="2" fill="#472d7b"/><rect x="421" y="90" width="5" height="1" fill="#443983"/><rect x="421" y="88" width="5" height="2" fill="#404688"/><rect x="421" y="86" width="5" height="2" fill="#34608d"/><rect x="421" y="129" width="5" height="2" fill="#443a83"/><rect x="421" y="128" width="5" height="1" fill="#433e85"/><rect x="421" y="126" width="5" height="2" fill="#463480"/><rect x="421" y="124" width="5" height="2" fill="#3e4a89"/><rect x="421" y="122" width="5" height="2" fill="#482374"/><rect x="421" y="120" width="5" height="2" fill="#482878"/><rect x="421" y="119" width="5" height="1" fill="#355f8d"/><rect x="421" y="117" width="5" height="2" fill="#355f8d"/><rect x="421" y="115" width="5" height="2" fill="#38598c"/><rect x="421" y="113" width="5" height="2" fill="#46307e"/><rect x="421" y="111" width="5" height="2" fill="#433e85"/><rect x="367" y="177" width="5" height="1" fill="#3f4788"/><rect x="367" y="175" width="5" height="2" fill="#34618d"/><rect x="367" y="173" width="5" height="2" fill="#443a83"/><rect x="367" y="171" width="5" height="2" fill="#34618d"/><rect x="367" y="169" width="5" height="2" fill="#375b8d"/><rect x="367" y="167" width="5" height="2" fill="#33638d"/><rect x="367" y="166" width="5" height="1" fill="#2f6b8e"/><rect x="367" y="164" width="5" height="2" fill="#404588"/><rect x="367" y="162" width="5" height="2" fill="#3e4a89"/><rect x="367" y="160" width="5" height="2" fill="#3f4889"/><rect x="367" y="158" width="5" height="2" fill="#39568c"/><rect x="389" y="187" width="5" height="2" fill="#27808e"/><rect x="389" y="186" width="5" height="1" fill="#2c738e"/><rect x="389" y="184" width="5" height="2" fill="#25838e"/><rect x="448" y="149" width="5" height="2" fill="#3a538b"/><rect x="448" y="148" width="5" height="1" fill="#46327e"/><rect x="448" y="146" width="5" height="2" fill="#3f4889"/><rect x="448" y="144" width="5" height="2" fill="#472a7a"/><rect x="448" y="142" width="5" height="2" fill="#482979"/><rect x="448" y="140" width="5" height="2" fill="#3f4889"/><rect x="448" y="138" width="5" height="2" fill="#453581"/><rect x="448" y="137" width="5" height="1" fill="#3e4989"/><rect x="448" y="135" width="5" height="2" fill="#481a6c"/><rect x="426" y="327" width="6" height="2" fill="#46307e"/><rect x="426" y="325" width="6" height="2" fill="#365c8d"/><rect x="426" y="323" width="6" height="2" fill="#472f7d"/><rect x="426" y="322" width="6" height="1" fill="#46337f"/><rect x="426" y="320" width="6" height="2" fill="#482374"/><rect x="426" y="318" width="6" height="2" fill="#424086"/><rect x="426" y="316" width="6" height="2" fill="#355f8d"/><rect x="426" y="314" width="6" height="2" fill="#33628d"/><rect x="426" y="312" width="6" height="2" fill="#433e85"/><rect x="426" y="311" width="6" height="1" fill="#3c4f8a"/><rect x="426" y="309" width="6" height="2" fill="#482071"/><rect x="426" y="307" width="6" height="2" fill="#365c8d"/><rect x="426" y="305" width="6" height="2" fill="#482576"/><rect x="426" y="303" width="6" height="2" fill="#472c7a"/><rect x="426" y="302" width="6" height="1" fill="#3f4788"/><rect x="426" y="300" width="6" height="2" fill="#39558c"/><rect x="426" y="298" width="6" height="2" fill="#472e7c"/><rect x="426" y="296" width="6" height="2" fill="#3f4788"/><rect x="426" y="294" width="6" height="2" fill="#3f4788"/><rect x="426" y="293" width="6" height="1" fill="#34608d"/><rect x="426" y="291" width="6" height="2" fill="#33638d"/><rect x="426" y="289" width="6" height="2" fill="#463480"/><rect x="426" y="287" width="6" height="2" fill="#3e4a89"/><rect x="426" y="285" width="6" height="2" fill="#38588c"/><rect x="426" y="283" width="6" height="2" fill="#463480"/><rect x="426" y="282" width="6" height="1" fill="#453882"/><rect x="394" y="329" width="5" height="2" fill="#453882"/><rect x="394" y="327" width="5" height="2" fill="#453581"/><rect x="394" y="325" width="5" height="2" fill="#414287"/><rect x="394" y="323" width="5" height="2" fill="#3c4f8a"/><rect x="394" y="322" width="5" height="1" fill="#3a548c"/><rect x="394" y="320" width="5" height="2" fill="#3f4788"/><rect x="394" y="318" width="5" height="2" fill="#39568c"/><rect x="394" y="316" width="5" height="2" fill="#482071"/><rect x="394" y="314" width="5" height="2" fill="#375b8d"/><rect x="394" y="312" width="5" height="2" fill="#453781"/><rect x="394" y="311" width="5" height="1" fill="#38598c"/><rect x="394" y="309" width="5" height="2" fill="#482475"/><rect x="394" y="307" width="5" height="2" fill="#482475"/><rect x="394" y="305" width="5" height="2" fill="#33628d"/><rect x="394" y="303" width="5" height="2" fill="#482475"/><rect x="394" y="302" width="5" height="1" fill="#404588"/><rect x="367" y="291" width="5" height="2" fill="#443983"/><rect x="367" y="289" width="5" height="2" fill="#2f6b8e"/><rect x="367" y="287" width="5" height="2" fill="#482576"/><rect x="367" y="285" width="5" height="2" fill="#32658e"/><rect x="367" y="283" width="5" height="2" fill="#3d4e8a"/><rect x="367" y="282" width="5" height="1" fill="#453882"/><rect x="297" y="503" width="5" height="2" fill="#306a8e"/><rect x="297" y="501" width="5" height="2" fill="#2c728e"/><rect x="297" y="514" width="5" height="1" fill="#472a7a"/><rect x="297" y="512" width="5" height="2" fill="#3d4d8a"/><rect x="302" y="519" width="6" height="2" fill="#375a8c"/><rect x="302" y="517" width="6" height="2" fill="#463480"/><rect x="302" y="515" width="6" height="2" fill="#34618d"/><rect x="302" y="514" width="6" height="1" fill="#482374"/><rect x="302" y="512" width="6" height="2" fill="#472c7a"/><rect x="302" y="510" width="6" height="2" fill="#3e4989"/><rect x="302" y="508" width="6" height="2" fill="#46337f"/><rect x="302" y="506" width="6" height="2" fill="#3a538b"/><rect x="302" y="505" width="6" height="1" fill="#3f4889"/><rect x="302" y="525" width="6" height="1" fill="#2c718e"/><rect x="302" y="523" width="6" height="2" fill="#33638d"/><rect x="302" y="521" width="6" height="2" fill="#33628d"/><rect x="302" y="519" width="6" height="2" fill="#2a778e"/><rect x="302" y="534" width="6" height="1" fill="#39558c"/><rect x="302" y="532" width="6" height="2" fill="#463480"/><rect x="302" y="530" width="6" height="2" fill="#482878"/><rect x="302" y="528" width="6" height="2" fill="#39558c"/><rect x="302" y="526" width="6" height="2" fill="#3b518b"/><rect x="302" y="525" width="6" height="1" fill="#463480"/><rect x="302" y="539" width="6" height="2" fill="#404688"/><rect x="302" y="537" width="6" height="2" fill="#39568c"/><rect x="302" y="535" width="6" height="2" fill="#34618d"/><rect x="302" y="534" width="6" height="1" fill="#31678e"/><rect x="313" y="519" width="5" height="2" fill="#3a538b"/><rect x="313" y="517" width="5" height="2" fill="#2d718e"/><rect x="313" y="515" width="5" height="2" fill="#375a8c"/><rect x="313" y="514" width="5" height="1" fill="#29798e"/><rect x="324" y="539" width="5" height="2" fill="#482979"/><rect x="324" y="537" width="5" height="2" fill="#482576"/><rect x="324" y="535" width="5" height="2" fill="#2f6c8e"/><rect x="324" y="534" width="5" height="1" fill="#3e4c8a"/><rect x="324" y="532" width="5" height="2" fill="#3f4889"/><rect x="324" y="530" width="5" height="2" fill="#423f85"/><rect x="308" y="566" width="5" height="2" fill="#38598c"/><rect x="308" y="564" width="5" height="2" fill="#23888e"/><rect x="308" y="563" width="5" height="1" fill="#33638d"/><rect x="308" y="561" width="5" height="2" fill="#3b528b"/><rect x="308" y="559" width="5" height="2" fill="#2b758e"/><rect x="308" y="579" width="5" height="2" fill="#2c728e"/><rect x="308" y="577" width="5" height="2" fill="#287c8e"/><rect x="308" y="575" width="5" height="2" fill="#277e8e"/><rect x="308" y="573" width="5" height="2" fill="#2c718e"/><rect x="308" y="572" width="5" height="1" fill="#38598c"/><rect x="308" y="570" width="5" height="2" fill="#3b518b"/><rect x="308" y="568" width="5" height="2" fill="#355e8d"/><rect x="308" y="566" width="5" height="2" fill="#29798e"/><rect x="313" y="557" width="5" height="2" fill="#32648e"/><rect x="313" y="555" width="5" height="2" fill="#2f6c8e"/><rect x="313" y="554" width="5" height="1" fill="#2a778e"/><rect x="313" y="552" width="5" height="2" fill="#2b748e"/><rect x="313" y="550" width="5" height="2" fill="#34618d"/><rect x="313" y="548" width="5" height="2" fill="#39558c"/><rect x="313" y="546" width="5" height="2" fill="#38588c"/><rect x="313" y="561" width="5" height="2" fill="#228c8d"/><rect x="313" y="559" width="5" height="2" fill="#26828e"/><rect x="313" y="557" width="5" height="2" fill="#2a788e"/><rect x="313" y="573" width="5" height="2" fill="#2f6c8e"/><rect x="313" y="572" width="5" height="1" fill="#277e8e"/><rect x="313" y="570" width="5" height="2" fill="#2c718e"/><rect x="313" y="568" width="5" height="2" fill="#287c8e"/><rect x="313" y="566" width="5" height="2" fill="#2f6b8e"/><rect x="313" y="564" width="5" height="2" fill="#287c8e"/><rect x="313" y="563" width="5" height="1" fill="#277e8e"/><rect x="313" y="561" width="5" height="2" fill="#25858e"/><rect x="318" y="555" width="6" height="2" fill="#1f958b"/><rect x="318" y="554" width="6" height="1" fill="#365d8d"/><rect x="318" y="552" width="6" height="2" fill="#2d718e"/><rect x="318" y="564" width="6" height="2" fill="#26828e"/><rect x="318" y="563" width="6" height="1" fill="#2a768e"/><rect x="318" y="561" width="6" height="2" fill="#26828e"/><rect x="318" y="559" width="6" height="2" fill="#2b748e"/><rect x="318" y="557" width="6" height="2" fill="#3b518b"/><rect x="318" y="555" width="6" height="2" fill="#228c8d"/><rect x="318" y="570" width="6" height="2" fill="#20928c"/><rect x="318" y="568" width="6" height="2" fill="#355f8d"/><rect x="318" y="566" width="6" height="2" fill="#1fa088"/><rect x="318" y="564" width="6" height="2" fill="#22a884"/><rect x="318" y="573" width="6" height="2" fill="#27808e"/><rect x="318" y="572" width="6" height="1" fill="#26818e"/><rect x="318" y="570" width="6" height="2" fill="#3e4989"/><rect x="324" y="563" width="5" height="1" fill="#31688e"/><rect x="324" y="561" width="5" height="2" fill="#365d8d"/><rect x="324" y="559" width="5" height="2" fill="#3a548c"/><rect x="324" y="557" width="5" height="2" fill="#297a8e"/><rect x="324" y="555" width="5" height="2" fill="#32658e"/><rect x="324" y="554" width="5" height="1" fill="#33638d"/><rect x="324" y="552" width="5" height="2" fill="#2a768e"/><rect x="324" y="550" width="5" height="2" fill="#423f85"/><rect x="324" y="572" width="5" height="1" fill="#21908d"/><rect x="324" y="570" width="5" height="2" fill="#2a788e"/><rect x="324" y="568" width="5" height="2" fill="#1f978b"/><rect x="324" y="566" width="5" height="2" fill="#297a8e"/><rect x="324" y="564" width="5" height="2" fill="#218e8d"/><rect x="324" y="581" width="5" height="2" fill="#375b8d"/><rect x="324" y="579" width="5" height="2" fill="#20938c"/><rect x="324" y="577" width="5" height="2" fill="#238a8d"/><rect x="324" y="575" width="5" height="2" fill="#297a8e"/><rect x="324" y="573" width="5" height="2" fill="#27808e"/><rect x="324" y="584" width="5" height="2" fill="#39568c"/><rect x="324" y="583" width="5" height="1" fill="#3d4d8a"/><rect x="324" y="581" width="5" height="2" fill="#2a778e"/><rect x="329" y="595" width="6" height="2" fill="#2a788e"/><rect x="329" y="593" width="6" height="2" fill="#355e8d"/><rect x="329" y="592" width="6" height="1" fill="#355e8d"/><rect x="329" y="590" width="6" height="2" fill="#2f6c8e"/><rect x="329" y="588" width="6" height="2" fill="#29798e"/><rect x="329" y="586" width="6" height="2" fill="#2a768e"/><rect x="329" y="610" width="6" height="2" fill="#2f6b8e"/><rect x="329" y="608" width="6" height="2" fill="#38588c"/><rect x="329" y="606" width="6" height="2" fill="#375a8c"/><rect x="329" y="604" width="6" height="2" fill="#27808e"/><rect x="329" y="602" width="6" height="2" fill="#31688e"/><rect x="329" y="601" width="6" height="1" fill="#29798e"/><rect x="329" y="599" width="6" height="2" fill="#2a768e"/><rect x="335" y="559" width="5" height="2" fill="#482576"/><rect x="335" y="557" width="5" height="2" fill="#3e4a89"/><rect x="335" y="555" width="5" height="2" fill="#472a7a"/><rect x="335" y="554" width="5" height="1" fill="#31678e"/><rect x="335" y="552" width="5" height="2" fill="#2d718e"/><rect x="335" y="572" width="5" height="1" fill="#482475"/><rect x="335" y="570" width="5" height="2" fill="#453882"/><rect x="335" y="568" width="5" height="2" fill="#423f85"/><rect x="335" y="566" width="5" height="2" fill="#32648e"/><rect x="335" y="564" width="5" height="2" fill="#472f7d"/><rect x="335" y="599" width="5" height="2" fill="#443983"/><rect x="335" y="597" width="5" height="2" fill="#423f85"/><rect x="335" y="595" width="5" height="2" fill="#32658e"/><rect x="335" y="593" width="5" height="2" fill="#375b8d"/><rect x="335" y="592" width="5" height="1" fill="#463480"/><rect x="335" y="590" width="5" height="2" fill="#3b528b"/><rect x="335" y="588" width="5" height="2" fill="#453882"/><rect x="335" y="586" width="5" height="2" fill="#443a83"/><rect x="335" y="584" width="5" height="2" fill="#404588"/><rect x="335" y="583" width="5" height="1" fill="#3a538b"/><rect x="335" y="581" width="5" height="2" fill="#423f85"/><rect x="335" y="610" width="5" height="2" fill="#31668e"/><rect x="335" y="608" width="5" height="2" fill="#3a538b"/><rect x="335" y="606" width="5" height="2" fill="#297a8e"/><rect x="335" y="604" width="5" height="2" fill="#3e4a89"/><rect x="335" y="602" width="5" height="2" fill="#2a768e"/><rect x="335" y="601" width="5" height="1" fill="#3b518b"/><rect x="340" y="612" width="5" height="1" fill="#24878e"/><rect x="340" y="610" width="5" height="2" fill="#3d4e8a"/><rect x="340" y="626" width="5" height="2" fill="#3a538b"/><rect x="340" y="624" width="5" height="2" fill="#2e6d8e"/><rect x="340" y="622" width="5" height="2" fill="#31688e"/><rect x="340" y="621" width="5" height="1" fill="#2c728e"/><rect x="340" y="619" width="5" height="2" fill="#2b758e"/><rect x="340" y="617" width="5" height="2" fill="#287d8e"/><rect x="340" y="615" width="5" height="2" fill="#2b748e"/><rect x="340" y="613" width="5" height="2" fill="#3b528b"/><rect x="351" y="699" width="5" height="1" fill="#32658e"/><rect x="351" y="697" width="5" height="2" fill="#375a8c"/><rect x="351" y="695" width="5" height="2" fill="#31668e"/><rect x="351" y="693" width="5" height="2" fill="#365d8d"/><rect x="351" y="691" width="5" height="2" fill="#33628d"/><rect x="351" y="689" width="5" height="2" fill="#39568c"/><rect x="351" y="688" width="5" height="1" fill="#297b8e"/><rect x="351" y="686" width="5" height="2" fill="#29798e"/><rect x="351" y="706" width="5" height="2" fill="#25858e"/><rect x="351" y="704" width="5" height="2" fill="#26828e"/><rect x="351" y="702" width="5" height="2" fill="#2e6e8e"/><rect x="351" y="700" width="5" height="2" fill="#32658e"/><rect x="351" y="699" width="5" height="1" fill="#24878e"/><rect x="351" y="711" width="5" height="2" fill="#2f6b8e"/><rect x="351" y="709" width="5" height="2" fill="#2f6c8e"/><rect x="351" y="708" width="5" height="1" fill="#3e4c8a"/><rect x="351" y="706" width="5" height="2" fill="#375a8c"/><rect x="351" y="757" width="5" height="1" fill="#26828e"/><rect x="351" y="755" width="5" height="2" fill="#2c718e"/><rect x="351" y="769" width="5" height="2" fill="#277e8e"/><rect x="351" y="767" width="5" height="2" fill="#2a788e"/><rect x="351" y="766" width="5" height="1" fill="#25838e"/><rect x="351" y="764" width="5" height="2" fill="#2f6c8e"/><rect x="351" y="762" width="5" height="2" fill="#2c738e"/><rect x="351" y="775" width="5" height="1" fill="#443983"/><rect x="351" y="773" width="5" height="2" fill="#3f4788"/><rect x="351" y="771" width="5" height="2" fill="#355f8d"/><rect x="351" y="769" width="5" height="2" fill="#3e4a89"/><rect x="351" y="776" width="5" height="2" fill="#32658e"/><rect x="351" y="775" width="5" height="1" fill="#2e6d8e"/><rect x="351" y="784" width="5" height="2" fill="#297b8e"/><rect x="351" y="782" width="5" height="2" fill="#2f6c8e"/><rect x="351" y="780" width="5" height="2" fill="#2f6c8e"/><rect x="351" y="778" width="5" height="2" fill="#34608d"/><rect x="405" y="660" width="5" height="2" fill="#482071"/><rect x="405" y="659" width="5" height="1" fill="#472a7a"/><rect x="405" y="657" width="5" height="2" fill="#482173"/><rect x="405" y="655" width="5" height="2" fill="#355f8d"/><rect x="405" y="653" width="5" height="2" fill="#453882"/><rect x="405" y="651" width="5" height="2" fill="#482173"/><rect x="405" y="650" width="5" height="1" fill="#355f8d"/><rect x="405" y="666" width="5" height="2" fill="#26828e"/><rect x="405" y="664" width="5" height="2" fill="#33638d"/><rect x="405" y="662" width="5" height="2" fill="#25858e"/><rect x="405" y="660" width="5" height="2" fill="#34608d"/><rect x="405" y="675" width="5" height="2" fill="#443b84"/><rect x="405" y="673" width="5" height="2" fill="#3d4d8a"/><rect x="405" y="671" width="5" height="2" fill="#482576"/><rect x="405" y="670" width="5" height="1" fill="#355e8d"/><rect x="405" y="668" width="5" height="2" fill="#3f4788"/><rect x="405" y="666" width="5" height="2" fill="#482173"/><rect x="410" y="744" width="6" height="2" fill="#365d8d"/><rect x="410" y="742" width="6" height="2" fill="#414287"/><rect x="410" y="740" width="6" height="2" fill="#443b84"/><rect x="410" y="738" width="6" height="2" fill="#423f85"/><rect x="410" y="755" width="6" height="2" fill="#3a538b"/><rect x="410" y="753" width="6" height="2" fill="#355e8d"/><rect x="410" y="751" width="6" height="2" fill="#424186"/><rect x="410" y="749" width="6" height="2" fill="#355f8d"/><rect x="410" y="747" width="6" height="2" fill="#39568c"/><rect x="410" y="757" width="6" height="1" fill="#2c738e"/><rect x="410" y="755" width="6" height="2" fill="#277e8e"/><rect x="437" y="709" width="6" height="2" fill="#424186"/><rect x="437" y="708" width="6" height="1" fill="#3e4a89"/><rect x="437" y="706" width="6" height="2" fill="#472d7b"/><rect x="437" y="704" width="6" height="2" fill="#472e7c"/><rect x="437" y="702" width="6" height="2" fill="#453581"/><rect x="437" y="700" width="6" height="2" fill="#3e4a89"/><rect x="437" y="699" width="6" height="1" fill="#453581"/><rect x="437" y="697" width="6" height="2" fill="#306a8e"/><rect x="437" y="695" width="6" height="2" fill="#453882"/><rect x="437" y="693" width="6" height="2" fill="#31678e"/><rect x="437" y="691" width="6" height="2" fill="#414487"/><rect x="594" y="695" width="5" height="2" fill="#30698e"/><rect x="594" y="693" width="5" height="2" fill="#375a8c"/><rect x="594" y="691" width="5" height="2" fill="#365c8d"/><rect x="594" y="689" width="5" height="2" fill="#404588"/><rect x="594" y="688" width="5" height="1" fill="#31668e"/><rect x="594" y="686" width="5" height="2" fill="#39558c"/><rect x="594" y="684" width="5" height="2" fill="#34608d"/><rect x="594" y="682" width="5" height="2" fill="#2e6f8e"/><rect x="594" y="680" width="5" height="2" fill="#38588c"/><rect x="594" y="679" width="5" height="1" fill="#31678e"/><rect x="594" y="677" width="5" height="2" fill="#3b528b"/><rect x="605" y="737" width="5" height="1" fill="#472c7a"/><rect x="605" y="735" width="5" height="2" fill="#404688"/><rect x="605" y="733" width="5" height="2" fill="#482475"/><rect x="605" y="731" width="5" height="2" fill="#46327e"/><rect x="605" y="729" width="5" height="2" fill="#3c4f8a"/><rect x="605" y="728" width="5" height="1" fill="#39568c"/><rect x="605" y="726" width="5" height="2" fill="#481d6f"/><rect x="605" y="724" width="5" height="2" fill="#472e7c"/><rect x="605" y="722" width="5" height="2" fill="#48186a"/><rect x="605" y="720" width="5" height="2" fill="#472a7a"/><rect x="605" y="718" width="5" height="2" fill="#38598c"/><rect x="615" y="709" width="6" height="2" fill="#453581"/><rect x="615" y="708" width="6" height="1" fill="#3d4d8a"/><rect x="615" y="706" width="6" height="2" fill="#3d4d8a"/><rect x="615" y="704" width="6" height="2" fill="#423f85"/><rect x="615" y="702" width="6" height="2" fill="#32648e"/><rect x="615" y="700" width="6" height="2" fill="#33628d"/><rect x="615" y="699" width="6" height="1" fill="#404688"/><rect x="615" y="697" width="6" height="2" fill="#463480"/><rect x="615" y="695" width="6" height="2" fill="#463480"/><rect x="615" y="693" width="6" height="2" fill="#472d7b"/><rect x="615" y="691" width="6" height="2" fill="#482979"/><rect x="615" y="689" width="6" height="2" fill="#443b84"/><rect x="594" y="115" width="5" height="2" fill="#482374"/><rect x="594" y="113" width="5" height="2" fill="#453781"/><rect x="594" y="111" width="5" height="2" fill="#31678e"/><rect x="599" y="120" width="6" height="2" fill="#472a7a"/><rect x="599" y="119" width="6" height="1" fill="#453882"/><rect x="599" y="117" width="6" height="2" fill="#2d708e"/><rect x="599" y="115" width="6" height="2" fill="#2c728e"/><rect x="432" y="443" width="5" height="2" fill="#433e85"/><rect x="432" y="441" width="5" height="2" fill="#404688"/><rect x="432" y="439" width="5" height="2" fill="#481f70"/><rect x="432" y="438" width="5" height="1" fill="#482878"/><rect x="432" y="436" width="5" height="2" fill="#3a538b"/><rect x="432" y="434" width="5" height="2" fill="#32648e"/><rect x="432" y="432" width="5" height="2" fill="#404588"/><rect x="432" y="430" width="5" height="2" fill="#463480"/><rect x="432" y="428" width="5" height="2" fill="#31688e"/><rect x="432" y="427" width="5" height="1" fill="#414287"/><rect x="432" y="445" width="5" height="2" fill="#2c728e"/><rect x="432" y="443" width="5" height="2" fill="#2a788e"/><rect x="432" y="452" width="5" height="2" fill="#482677"/><rect x="432" y="450" width="5" height="2" fill="#355f8d"/><rect x="432" y="448" width="5" height="2" fill="#453882"/><rect x="432" y="447" width="5" height="1" fill="#355e8d"/><rect x="432" y="445" width="5" height="2" fill="#433d84"/><rect x="399" y="454" width="6" height="2" fill="#3a548c"/><rect x="399" y="452" width="6" height="2" fill="#453882"/><rect x="399" y="450" width="6" height="2" fill="#3e4a89"/><rect x="399" y="448" width="6" height="2" fill="#3e4989"/><rect x="399" y="447" width="6" height="1" fill="#424086"/><rect x="399" y="445" width="6" height="2" fill="#3a548c"/><rect x="399" y="443" width="6" height="2" fill="#46327e"/><rect x="399" y="441" width="6" height="2" fill="#482374"/><rect x="399" y="439" width="6" height="2" fill="#481f70"/><rect x="399" y="438" width="6" height="1" fill="#443983"/><rect x="399" y="436" width="6" height="2" fill="#3b518b"/><rect x="399" y="434" width="6" height="2" fill="#3e4a89"/><rect x="578" y="302" width="5" height="1" fill="#472f7d"/><rect x="578" y="300" width="5" height="2" fill="#453581"/><rect x="578" y="298" width="5" height="2" fill="#472a7a"/><rect x="578" y="296" width="5" height="2" fill="#32658e"/><rect x="578" y="294" width="5" height="2" fill="#34608d"/><rect x="578" y="293" width="5" height="1" fill="#33628d"/><rect x="578" y="291" width="5" height="2" fill="#32658e"/><rect x="578" y="289" width="5" height="2" fill="#31678e"/><rect x="578" y="287" width="5" height="2" fill="#423f85"/><rect x="578" y="285" width="5" height="2" fill="#3e4c8a"/><rect x="588" y="345" width="6" height="2" fill="#481f70"/><rect x="588" y="343" width="6" height="2" fill="#453581"/><rect x="588" y="341" width="6" height="2" fill="#482677"/><rect x="588" y="340" width="6" height="1" fill="#453781"/><rect x="588" y="338" width="6" height="2" fill="#453581"/><rect x="588" y="356" width="6" height="2" fill="#3a548c"/><rect x="588" y="354" width="6" height="2" fill="#365c8d"/><rect x="588" y="352" width="6" height="2" fill="#38598c"/><rect x="588" y="351" width="6" height="1" fill="#482677"/><rect x="588" y="349" width="6" height="2" fill="#482677"/><rect x="588" y="347" width="6" height="2" fill="#375a8c"/><rect x="588" y="345" width="6" height="2" fill="#365d8d"/><rect x="599" y="439" width="6" height="2" fill="#32658e"/><rect x="599" y="438" width="6" height="1" fill="#463480"/><rect x="599" y="436" width="6" height="2" fill="#365c8d"/><rect x="599" y="434" width="6" height="2" fill="#453581"/><rect x="599" y="432" width="6" height="2" fill="#443b84"/><rect x="599" y="430" width="6" height="2" fill="#46337f"/><rect x="599" y="428" width="6" height="2" fill="#404588"/><rect x="599" y="427" width="6" height="1" fill="#46327e"/><rect x="599" y="425" width="6" height="2" fill="#463480"/><rect x="599" y="423" width="6" height="2" fill="#433d84"/><rect x="599" y="421" width="6" height="2" fill="#482576"/><rect x="599" y="419" width="6" height="2" fill="#365c8d"/><rect x="345" y="336" width="6" height="2" fill="#463480"/><rect x="345" y="334" width="6" height="2" fill="#472a7a"/><rect x="345" y="332" width="6" height="2" fill="#46337f"/><rect x="345" y="331" width="6" height="1" fill="#453882"/><rect x="345" y="329" width="6" height="2" fill="#472c7a"/><rect x="345" y="327" width="6" height="2" fill="#472a7a"/><rect x="345" y="325" width="6" height="2" fill="#482979"/><rect x="345" y="323" width="6" height="2" fill="#453781"/><rect x="345" y="322" width="6" height="1" fill="#443983"/><rect x="345" y="320" width="6" height="2" fill="#472c7a"/><rect x="345" y="318" width="6" height="2" fill="#463480"/><rect x="345" y="316" width="6" height="2" fill="#46327e"/><rect x="345" y="314" width="6" height="2" fill="#482576"/><rect x="345" y="312" width="6" height="2" fill="#482878"/><rect x="345" y="307" width="6" height="2" fill="#482979"/><rect x="345" y="305" width="6" height="2" fill="#472f7d"/><rect x="345" y="303" width="6" height="2" fill="#472d7b"/><rect x="345" y="302" width="6" height="1" fill="#472f7d"/><rect x="345" y="300" width="6" height="2" fill="#482677"/><rect x="345" y="298" width="6" height="2" fill="#472d7b"/><rect x="345" y="296" width="6" height="2" fill="#472a7a"/><rect x="345" y="294" width="6" height="2" fill="#482979"/><rect x="345" y="293" width="6" height="1" fill="#472f7d"/><rect x="345" y="291" width="6" height="2" fill="#453581"/><rect x="345" y="289" width="6" height="2" fill="#472e7c"/><rect x="345" y="283" width="6" height="2" fill="#482677"/><rect x="345" y="282" width="6" height="1" fill="#46327e"/><rect x="345" y="280" width="6" height="2" fill="#482576"/><rect x="345" y="274" width="6" height="2" fill="#472e7c"/><rect x="345" y="273" width="6" height="1" fill="#472c7a"/><rect x="345" y="271" width="6" height="2" fill="#463480"/><rect x="345" y="269" width="6" height="2" fill="#472e7c"/><rect x="345" y="267" width="6" height="2" fill="#472d7b"/><rect x="345" y="265" width="6" height="2" fill="#443983"/><rect x="345" y="264" width="6" height="1" fill="#472a7a"/><rect x="345" y="262" width="6" height="2" fill="#482878"/><rect x="345" y="260" width="6" height="2" fill="#482677"/><rect x="345" y="258" width="6" height="2" fill="#46307e"/><rect x="345" y="256" width="6" height="2" fill="#482878"/><rect x="345" y="254" width="6" height="2" fill="#453581"/><rect x="345" y="253" width="6" height="1" fill="#472c7a"/><rect x="345" y="251" width="6" height="2" fill="#472a7a"/><rect x="345" y="247" width="6" height="2" fill="#472a7a"/><rect x="345" y="428" width="6" height="2" fill="#453882"/><rect x="345" y="425" width="6" height="2" fill="#443983"/><rect x="345" y="423" width="6" height="2" fill="#472a7a"/><rect x="345" y="421" width="6" height="2" fill="#463480"/><rect x="345" y="419" width="6" height="2" fill="#482878"/><rect x="345" y="418" width="6" height="1" fill="#443983"/><rect x="345" y="416" width="6" height="2" fill="#453581"/><rect x="345" y="414" width="6" height="2" fill="#472a7a"/><rect x="345" y="412" width="6" height="2" fill="#472e7c"/><rect x="345" y="409" width="6" height="1" fill="#453781"/><rect x="345" y="407" width="6" height="2" fill="#482878"/><rect x="345" y="405" width="6" height="2" fill="#472c7a"/><rect x="345" y="403" width="6" height="2" fill="#472e7c"/><rect x="345" y="401" width="6" height="2" fill="#453781"/><rect x="345" y="399" width="6" height="2" fill="#482576"/><rect x="345" y="398" width="6" height="1" fill="#46327e"/><rect x="345" y="392" width="6" height="2" fill="#453781"/><rect x="345" y="390" width="6" height="2" fill="#472a7a"/><rect x="345" y="389" width="6" height="1" fill="#472d7b"/><rect x="345" y="387" width="6" height="2" fill="#472d7b"/><rect x="345" y="385" width="6" height="2" fill="#482979"/><rect x="345" y="523" width="6" height="2" fill="#453882"/><rect x="345" y="519" width="6" height="2" fill="#472f7d"/><rect x="345" y="515" width="6" height="2" fill="#423f85"/><rect x="345" y="514" width="6" height="1" fill="#443a83"/><rect x="345" y="512" width="6" height="2" fill="#472f7d"/><rect x="345" y="510" width="6" height="2" fill="#46327e"/><rect x="345" y="508" width="6" height="2" fill="#472d7b"/><rect x="345" y="506" width="6" height="2" fill="#46307e"/><rect x="345" y="505" width="6" height="1" fill="#46327e"/><rect x="345" y="503" width="6" height="2" fill="#443b84"/><rect x="345" y="499" width="6" height="2" fill="#433e85"/><rect x="345" y="497" width="6" height="2" fill="#453882"/><rect x="345" y="496" width="6" height="1" fill="#472c7a"/><rect x="345" y="492" width="6" height="2" fill="#46337f"/><rect x="345" y="490" width="6" height="2" fill="#443a83"/><rect x="345" y="488" width="6" height="2" fill="#433d84"/><rect x="345" y="486" width="6" height="2" fill="#46327e"/><rect x="345" y="485" width="6" height="1" fill="#472c7a"/><rect x="345" y="483" width="6" height="2" fill="#472a7a"/><rect x="345" y="481" width="6" height="2" fill="#472f7d"/><rect x="345" y="479" width="6" height="2" fill="#472c7a"/><rect x="345" y="477" width="6" height="2" fill="#472e7c"/><rect x="345" y="476" width="6" height="1" fill="#46337f"/><rect x="345" y="474" width="6" height="2" fill="#433e85"/><rect x="345" y="789" width="6" height="2" fill="#433d84"/><rect x="345" y="786" width="6" height="1" fill="#424186"/><rect x="345" y="784" width="6" height="2" fill="#453581"/><rect x="345" y="780" width="6" height="2" fill="#46327e"/><rect x="345" y="778" width="6" height="2" fill="#424086"/><rect x="345" y="776" width="6" height="2" fill="#443983"/><rect x="345" y="775" width="6" height="1" fill="#424186"/><rect x="345" y="773" width="6" height="2" fill="#463480"/><rect x="345" y="771" width="6" height="2" fill="#453781"/><rect x="345" y="767" width="6" height="2" fill="#46327e"/><rect x="345" y="764" width="6" height="2" fill="#443b84"/><rect x="345" y="762" width="6" height="2" fill="#433e85"/><rect x="345" y="760" width="6" height="2" fill="#46327e"/><rect x="345" y="758" width="6" height="2" fill="#424086"/><rect x="345" y="757" width="6" height="1" fill="#453781"/><rect x="345" y="755" width="6" height="2" fill="#423f85"/><rect x="345" y="753" width="6" height="2" fill="#463480"/><rect x="345" y="747" width="6" height="2" fill="#453781"/><rect x="345" y="746" width="6" height="1" fill="#414287"/><rect x="345" y="744" width="6" height="2" fill="#453581"/><rect x="345" y="742" width="6" height="2" fill="#433e85"/><rect x="345" y="740" width="6" height="2" fill="#443a83"/><rect x="345" y="738" width="6" height="2" fill="#433d84"/><rect x="345" y="737" width="6" height="1" fill="#414287"/><rect x="497" y="789" width="5" height="2" fill="#443a83"/><rect x="497" y="787" width="5" height="2" fill="#433d84"/><rect x="497" y="786" width="5" height="1" fill="#443a83"/><rect x="497" y="782" width="5" height="2" fill="#433d84"/><rect x="497" y="780" width="5" height="2" fill="#472a7a"/><rect x="497" y="778" width="5" height="2" fill="#433d84"/><rect x="497" y="773" width="5" height="2" fill="#433e85"/><rect x="497" y="771" width="5" height="2" fill="#472d7b"/><rect x="497" y="769" width="5" height="2" fill="#443a83"/><rect x="497" y="767" width="5" height="2" fill="#453781"/><rect x="497" y="766" width="5" height="1" fill="#472f7d"/><rect x="497" y="764" width="5" height="2" fill="#463480"/><rect x="497" y="762" width="5" height="2" fill="#472c7a"/><rect x="497" y="760" width="5" height="2" fill="#46327e"/><rect x="497" y="758" width="5" height="2" fill="#443983"/><rect x="497" y="757" width="5" height="1" fill="#472f7d"/><rect x="497" y="755" width="5" height="2" fill="#472e7c"/><rect x="497" y="753" width="5" height="2" fill="#433d84"/><rect x="497" y="751" width="5" height="2" fill="#453781"/><rect x="497" y="749" width="5" height="2" fill="#443983"/><rect x="497" y="747" width="5" height="2" fill="#443983"/><rect x="497" y="746" width="5" height="1" fill="#443b84"/><rect x="497" y="742" width="5" height="2" fill="#433e85"/><rect x="497" y="740" width="5" height="2" fill="#472c7a"/><rect x="497" y="738" width="5" height="2" fill="#443a83"/><rect x="497" y="737" width="5" height="1" fill="#472d7b"/><rect x="497" y="735" width="5" height="2" fill="#453882"/><rect x="497" y="731" width="5" height="2" fill="#443a83"/><rect x="497" y="729" width="5" height="2" fill="#472e7c"/><rect x="497" y="728" width="5" height="1" fill="#46337f"/><rect x="497" y="726" width="5" height="2" fill="#46307e"/><rect x="497" y="724" width="5" height="2" fill="#472e7c"/><rect x="497" y="722" width="5" height="2" fill="#472e7c"/><rect x="497" y="720" width="5" height="2" fill="#463480"/><rect x="497" y="718" width="5" height="2" fill="#463480"/><rect x="497" y="717" width="5" height="1" fill="#433e85"/><rect x="497" y="715" width="5" height="2" fill="#433e85"/><rect x="497" y="713" width="5" height="2" fill="#472e7c"/><rect x="497" y="711" width="5" height="2" fill="#472d7b"/><rect x="497" y="709" width="5" height="2" fill="#472c7a"/><rect x="497" y="708" width="5" height="1" fill="#433e85"/><rect x="497" y="706" width="5" height="2" fill="#46327e"/><rect x="497" y="704" width="5" height="2" fill="#46327e"/><rect x="497" y="702" width="5" height="2" fill="#46327e"/><rect x="497" y="700" width="5" height="2" fill="#443b84"/><rect x="497" y="699" width="5" height="1" fill="#472a7a"/><rect x="497" y="697" width="5" height="2" fill="#443983"/><rect x="497" y="695" width="5" height="2" fill="#453781"/><rect x="497" y="691" width="5" height="2" fill="#46337f"/><rect x="497" y="689" width="5" height="2" fill="#453581"/><rect x="497" y="688" width="5" height="1" fill="#443983"/><rect x="497" y="684" width="5" height="2" fill="#46327e"/><rect x="497" y="680" width="5" height="2" fill="#453781"/><rect x="497" y="679" width="5" height="1" fill="#46327e"/><rect x="497" y="675" width="5" height="2" fill="#46337f"/><rect x="497" y="673" width="5" height="2" fill="#472d7b"/><rect x="497" y="670" width="5" height="1" fill="#472a7a"/><rect x="497" y="668" width="5" height="2" fill="#463480"/><rect x="497" y="666" width="5" height="2" fill="#46327e"/><rect x="497" y="662" width="5" height="2" fill="#453581"/><rect x="497" y="659" width="5" height="1" fill="#463480"/><rect x="497" y="657" width="5" height="2" fill="#46327e"/><rect x="497" y="655" width="5" height="2" fill="#443a83"/><rect x="497" y="653" width="5" height="2" fill="#46327e"/><rect x="497" y="651" width="5" height="2" fill="#46327e"/><rect x="497" y="648" width="5" height="2" fill="#472f7d"/><rect x="497" y="646" width="5" height="2" fill="#443b84"/><rect x="497" y="644" width="5" height="2" fill="#453882"/><rect x="497" y="642" width="5" height="2" fill="#472e7c"/><rect x="497" y="641" width="5" height="1" fill="#443a83"/><rect x="497" y="639" width="5" height="2" fill="#472f7d"/><rect x="497" y="637" width="5" height="2" fill="#472f7d"/><rect x="497" y="635" width="5" height="2" fill="#443983"/><rect x="497" y="630" width="5" height="1" fill="#433d84"/><rect x="497" y="628" width="5" height="2" fill="#433d84"/><rect x="497" y="626" width="5" height="2" fill="#472e7c"/><rect x="497" y="624" width="5" height="2" fill="#443b84"/><rect x="497" y="622" width="5" height="2" fill="#472c7a"/><rect x="497" y="619" width="5" height="2" fill="#453781"/><rect x="497" y="615" width="5" height="2" fill="#472c7a"/><rect x="497" y="613" width="5" height="2" fill="#472a7a"/><rect x="497" y="612" width="5" height="1" fill="#453781"/><rect x="497" y="610" width="5" height="2" fill="#472e7c"/><rect x="497" y="608" width="5" height="2" fill="#453781"/><rect x="497" y="606" width="5" height="2" fill="#433e85"/><rect x="497" y="604" width="5" height="2" fill="#433e85"/><rect x="497" y="602" width="5" height="2" fill="#46327e"/><rect x="497" y="601" width="5" height="1" fill="#472f7d"/><rect x="497" y="595" width="5" height="2" fill="#472e7c"/><rect x="497" y="593" width="5" height="2" fill="#472d7b"/><rect x="497" y="592" width="5" height="1" fill="#443983"/><rect x="497" y="590" width="5" height="2" fill="#453581"/><rect x="497" y="588" width="5" height="2" fill="#472a7a"/><rect x="497" y="586" width="5" height="2" fill="#443a83"/><rect x="497" y="584" width="5" height="2" fill="#46337f"/><rect x="497" y="581" width="5" height="2" fill="#46307e"/><rect x="497" y="579" width="5" height="2" fill="#433e85"/><rect x="497" y="573" width="5" height="2" fill="#472d7b"/><rect x="513" y="789" width="5" height="2" fill="#472a7a"/><rect x="513" y="787" width="5" height="2" fill="#482576"/><rect x="513" y="786" width="5" height="1" fill="#46327e"/><rect x="513" y="784" width="5" height="2" fill="#482576"/><rect x="513" y="782" width="5" height="2" fill="#472c7a"/><rect x="513" y="780" width="5" height="2" fill="#472e7c"/><rect x="513" y="778" width="5" height="2" fill="#472c7a"/><rect x="513" y="771" width="5" height="2" fill="#472a7a"/><rect x="513" y="769" width="5" height="2" fill="#482979"/><rect x="513" y="766" width="5" height="1" fill="#46327e"/><rect x="513" y="764" width="5" height="2" fill="#463480"/><rect x="513" y="762" width="5" height="2" fill="#472a7a"/><rect x="513" y="760" width="5" height="2" fill="#482979"/><rect x="513" y="758" width="5" height="2" fill="#482878"/><rect x="513" y="755" width="5" height="2" fill="#482979"/><rect x="513" y="751" width="5" height="2" fill="#46337f"/><rect x="513" y="749" width="5" height="2" fill="#482677"/><rect x="513" y="747" width="5" height="2" fill="#472e7c"/><rect x="513" y="744" width="5" height="2" fill="#472c7a"/><rect x="513" y="740" width="5" height="2" fill="#46307e"/><rect x="513" y="738" width="5" height="2" fill="#482979"/><rect x="513" y="737" width="5" height="1" fill="#46337f"/><rect x="513" y="735" width="5" height="2" fill="#46307e"/><rect x="513" y="733" width="5" height="2" fill="#46307e"/><rect x="513" y="731" width="5" height="2" fill="#482677"/><rect x="513" y="729" width="5" height="2" fill="#46307e"/><rect x="513" y="728" width="5" height="1" fill="#472f7d"/><rect x="513" y="726" width="5" height="2" fill="#472a7a"/><rect x="513" y="718" width="5" height="2" fill="#472e7c"/><rect x="513" y="717" width="5" height="1" fill="#46307e"/><rect x="513" y="715" width="5" height="2" fill="#46337f"/><rect x="513" y="713" width="5" height="2" fill="#463480"/><rect x="513" y="711" width="5" height="2" fill="#482677"/><rect x="513" y="709" width="5" height="2" fill="#482677"/><rect x="513" y="708" width="5" height="1" fill="#482576"/><rect x="513" y="704" width="5" height="2" fill="#46307e"/><rect x="513" y="702" width="5" height="2" fill="#472f7d"/><rect x="513" y="700" width="5" height="2" fill="#482979"/><rect x="513" y="699" width="5" height="1" fill="#482576"/><rect x="513" y="697" width="5" height="2" fill="#482677"/><rect x="513" y="691" width="5" height="2" fill="#472c7a"/><rect x="513" y="689" width="5" height="2" fill="#46307e"/><rect x="513" y="688" width="5" height="1" fill="#472a7a"/><rect x="513" y="684" width="5" height="2" fill="#482677"/><rect x="513" y="682" width="5" height="2" fill="#482677"/><rect x="513" y="680" width="5" height="2" fill="#472d7b"/><rect x="513" y="679" width="5" height="1" fill="#482878"/><rect x="513" y="675" width="5" height="2" fill="#46327e"/><rect x="513" y="673" width="5" height="2" fill="#46337f"/><rect x="513" y="671" width="5" height="2" fill="#46337f"/><rect x="513" y="670" width="5" height="1" fill="#463480"/><rect x="513" y="668" width="5" height="2" fill="#472f7d"/><rect x="513" y="666" width="5" height="2" fill="#46327e"/><rect x="513" y="664" width="5" height="2" fill="#482677"/><rect x="513" y="227" width="5" height="2" fill="#472f7d"/><rect x="513" y="225" width="5" height="2" fill="#482878"/><rect x="513" y="224" width="5" height="1" fill="#46327e"/><rect x="513" y="218" width="5" height="2" fill="#472f7d"/><rect x="513" y="216" width="5" height="2" fill="#472c7a"/><rect x="513" y="215" width="5" height="1" fill="#482677"/><rect x="513" y="213" width="5" height="2" fill="#472d7b"/><rect x="513" y="211" width="5" height="2" fill="#472a7a"/><rect x="513" y="209" width="5" height="2" fill="#46307e"/><rect x="513" y="207" width="5" height="2" fill="#482878"/><rect x="513" y="204" width="5" height="2" fill="#463480"/><rect x="513" y="200" width="5" height="2" fill="#472e7c"/><rect x="513" y="196" width="5" height="2" fill="#472d7b"/><rect x="513" y="195" width="5" height="1" fill="#482576"/><rect x="513" y="193" width="5" height="2" fill="#482677"/><rect x="513" y="191" width="5" height="2" fill="#472f7d"/><rect x="513" y="189" width="5" height="2" fill="#463480"/><rect x="513" y="187" width="5" height="2" fill="#472a7a"/><rect x="513" y="184" width="5" height="2" fill="#472d7b"/><rect x="513" y="180" width="5" height="2" fill="#472a7a"/><rect x="513" y="178" width="5" height="2" fill="#482979"/><rect x="513" y="175" width="5" height="2" fill="#463480"/><rect x="518" y="519" width="6" height="2" fill="#472f7d"/><rect x="518" y="517" width="6" height="2" fill="#46337f"/><rect x="518" y="515" width="6" height="2" fill="#46327e"/><rect x="518" y="514" width="6" height="1" fill="#433d84"/><rect x="518" y="512" width="6" height="2" fill="#414287"/><rect x="518" y="508" width="6" height="2" fill="#433e85"/><rect x="518" y="506" width="6" height="2" fill="#46307e"/><rect x="518" y="505" width="6" height="1" fill="#414287"/><rect x="518" y="503" width="6" height="2" fill="#443b84"/><rect x="518" y="501" width="6" height="2" fill="#453882"/><rect x="518" y="497" width="6" height="2" fill="#424086"/><rect x="518" y="496" width="6" height="1" fill="#46337f"/><rect x="518" y="494" width="6" height="2" fill="#424086"/><rect x="518" y="492" width="6" height="2" fill="#414287"/><rect x="518" y="490" width="6" height="2" fill="#424186"/><rect x="518" y="488" width="6" height="2" fill="#453581"/><rect x="518" y="485" width="6" height="1" fill="#433e85"/><rect x="518" y="483" width="6" height="2" fill="#424086"/><rect x="518" y="479" width="6" height="2" fill="#423f85"/></g>
<g stroke="#000" stroke-width="1.11" fill="none">
<rect x="98.5" y="85.5" width="864" height="737"/>
<rect x="1016.5" y="85.5" width="36" height="737"/>
<line x1="93.64" y1="810.5" x2="98.5" y2="810.5" /><line x1="93.64" y1="689.5" x2="98.5" y2="689.5" /><line x1="93.64" y1="568.5" x2="98.5" y2="568.5" /><line x1="93.64" y1="448.5" x2="98.5" y2="448.5" /><line x1="93.64" y1="327.5" x2="98.5" y2="327.5" /><line x1="93.64" y1="206.5" x2="98.5" y2="206.5" /><line x1="93.64" y1="85.5" x2="98.5" y2="85.5" /><line x1="179.5" y1="822.5" x2="179.5" y2="827.36" /><line x1="287.5" y1="822.5" x2="287.5" y2="827.36" /><line x1="395.5" y1="822.5" x2="395.5" y2="827.36" /><line x1="503.5" y1="822.5" x2="503.5" y2="827.36" /><line x1="611.5" y1="822.5" x2="611.5" y2="827.36" /><line x1="719.5" y1="822.5" x2="719.5" y2="827.36" /><line x1="827.5" y1="822.5" x2="827.5" y2="827.36" /><line x1="935.5" y1="822.5" x2="935.5" y2="827.36" /><line x1="1052.5" y1="822.50" x2="1057.36" y2="822.50" /><line x1="1052.5" y1="699.67" x2="1057.36" y2="699.67" /><line x1="1052.5" y1="576.83" x2="1057.36" y2="576.83" /><line x1="1052.5" y1="454.00" x2="1057.36" y2="454.00" /><line x1="1052.5" y1="331.17" x2="1057.36" y2="331.17" /><line x1="1052.5" y1="208.33" x2="1057.36" y2="208.33" /><line x1="1052.5" y1="85.50" x2="1057.36" y2="85.50" />
</g>
<text transform="scale(1.0327 1)" x="105.19 111.96 130.68 147.59 155.17 176.00 193.08 209.45 223.87 240.77 247.83 264.44 271.53 289.61 309.32 329.48 337.72 345.82 362.57 379.33 395.39 409.80 426.55 443.62 460.43 477.08 484.66 503.42 521.72 538.84 555.95 572.88 581.62 598.74 615.85 632.97 649.66 659.79 676.90 693.60 703.73 720.84 737.77 746.51 763.62 780.81 789.80 806.92 824.10 833.09 850.21 867.14 875.69 883.27 902.97" y="44.10" font-size="29.44">IRF Uppsala SDR Ionosonde UP158 2026-03-30 13:32:00  UT</text><text transform="scale(1.0653 1)" x="218.14 234.39 250.90 257.23 271.22 285.76 300.97 310.00 316.68 332.64 349.26 361.85 381.18 390.89 407.49 424.08 440.61 448.96 465.55 482.09 490.51 500.59 516.18 535.13 545.17 553.49 569.79 585.81 602.17 617.14 623.83 641.05 659.87 681.88 701.52 718.11 734.64 742.99 759.58" y="76.90" font-size="29.44">noise_floor=-119.98 (dB) peak SNR=98.59</text><text transform="scale(1.0796 1)" x="68.58" y="817.90" font-size="22.07">0</text><text transform="scale(1.0796 1)" x="44.03 56.31 68.58" y="696.90" font-size="22.07">100</text><text transform="scale(1.0796 1)" x="44.03 56.31 68.58" y="575.90" font-size="22.07">200</text><text transform="scale(1.0796 1)" x="44.03 56.31 68.58" y="455.90" font-size="22.07">300</text><text transform="scale(1.0796 1)" x="44.03 56.31 68.58" y="334.90" font-size="22.07">400</text><text transform="scale(1.0796 1)" x="44.03 56.31 68.58" y="213.90" font-size="22.07">500</text><text transform="scale(1.0796 1)" x="44.03 56.31 68.58" y="92.90" font-size="22.07">600</text><text transform="scale(1.0796 1)" x="160.12" y="847.60" font-size="22.07">2</text><text transform="scale(1.0796 1)" x="260.15" y="847.60" font-size="22.07">4</text><text transform="scale(1.0796 1)" x="360.19" y="847.60" font-size="22.07">6</text><text transform="scale(1.0796 1)" x="460.22" y="847.60" font-size="22.07">8</text><text transform="scale(1.0796 1)" x="554.11 566.39" y="847.60" font-size="22.07">10</text><text transform="scale(1.0796 1)" x="654.15 666.42" y="847.60" font-size="22.07">12</text><text transform="scale(1.0796 1)" x="754.18 766.45" y="847.60" font-size="22.07">14</text><text transform="scale(1.0796 1)" x="854.21 866.49" y="847.60" font-size="22.07">16</text><text transform="scale(1.0384 1)" x="424.65 437.61 445.44 457.98 470.70 483.23 495.76 508.25 519.70 531.27 537.76 544.81 562.23 577.49 588.51" y="873.80" font-size="22.07">Frequency (MHz)</text><text transform="translate(38.00 0) rotate(-90) scale(1.0886 1)" x="-505.56 -491.45 -486.08 -477.78 -471.04 -459.12 -446.91 -441.82 -435.46 -428.12 -416.20 -404.06 -392.10 -380.10 -373.94 -366.51 -355.32 -336.75" y="0" font-size="22.07">Virtual range (km)</text><text transform="scale(1.0796 1)" x="984.12" y="829.70" font-size="22.07">0</text><text transform="scale(1.0796 1)" x="984.12" y="706.87" font-size="22.07">5</text><text transform="scale(1.0796 1)" x="984.12 996.39" y="584.03" font-size="22.07">10</text><text transform="scale(1.0796 1)" x="984.12 996.39" y="461.20" font-size="22.07">15</text><text transform="scale(1.0796 1)" x="984.12 996.39" y="338.37" font-size="22.07">20</text><text transform="scale(1.0796 1)" x="984.12 996.39" y="215.53" font-size="22.07">25</text><text transform="scale(1.0796 1)" x="984.12 996.39" y="92.70" font-size="22.07">30</text><text transform="translate(1108.90 0) rotate(-90) scale(0.9919 1)" x="-506.12 -492.21 -477.06 -461.52 -454.70 -446.40 -433.75 -418.77" y="0" font-size="22.07">SNR (dB)</text>
</svg>
<script>(function(){
var L=["440154","440256","450457","450559","46075a","46085c","460a5d","460b5e","470d60","470e61","471063","471164","471365","481467","481668","481769","48186a","481a6c","481b6d","481c6e","481d6f","481f70","482071","482173","482374","482475","482576","482677","482878","482979","472a7a","472c7a","472d7b","472e7c","472f7d","46307e","46327e","46337f","463480","453581","453781","453882","443983","443a83","443b84","433d84","433e85","423f85","424086","424186","414287","414487","404588","404688","3f4788","3f4889","3e4989","3e4a89","3e4c8a","3d4d8a","3d4e8a","3c4f8a","3c508b","3b518b","3b528b","3a538b","3a548c","39558c","39568c","38588c","38598c","375a8c","375b8d","365c8d","365d8d","355e8d","355f8d","34608d","34618d","33628d","33638d","32648e","32658e","31668e","31678e","31688e","30698e","306a8e","2f6b8e","2f6c8e","2e6d8e","2e6e8e","2e6f8e","2d708e","2d718e","2c718e","2c728e","2c738e","2b748e","2b758e","2a768e","2a778e","2a788e","29798e","297a8e","297b8e","287c8e","287d8e","277e8e","277f8e","27808e","26818e","26828e","26828e","25838e","25848e","25858e","24868e","24878e","23888e","23898e","238a8d","228b8d","228c8d","228d8d","218e8d","218f8d","21908d","21918c","20928c","20928c","20938c","1f948c","1f958b","1f968b","1f978b","1f988b","1f998a","1f9a8a","1e9b8a","1e9c89","1e9d89","1f9e89","1f9f88","1fa088","1fa188","1fa187","1fa287","20a386","20a486","21a585","21a685","22a785","22a884","23a983","24aa83","25ab82","25ac82","26ad81","27ad81","28ae80","29af7f","2ab07f","2cb17e","2db27d","2eb37c","2fb47c","31b57b","32b67a","34b679","35b779","37b878","38b977","3aba76","3bbb75","3dbc74","3fbc73","40bd72","42be71","44bf70","46c06f","48c16e","4ac16d","4cc26c","4ec36b","50c46a","52c569","54c568","56c667","58c765","5ac864","5cc863","5ec962","60ca60","63cb5f","65cb5e","67cc5c","69cd5b","6ccd5a","6ece58","70cf57","73d056","75d054","77d153","7ad151","7cd250","7fd34e","81d34d","84d44b","86d549","89d548","8bd646","8ed645","90d743","93d741","95d840","98d83e","9bd93c","9dd93b","a0da39","a2da37","a5db36","a8db34","aadc32","addc30","b0dd2f","b2dd2d","b5de2b","b8de29","bade28","bddf26","c0df25","c2df23","c5e021","c8e020","cae11f","cde11d","d0e11c","d2e21b","d5e21a","d8e219","dae319","dde318","dfe318","e2e418","e5e419","e7e419","eae51a","ece51b","efe51c","f1e51d","f4e61e","f6e620","f8e621","fbe723","fde725"];
var c=document.getElementById('cv'),g=c.getContext('2d');
g.fillStyle='#440154';g.fillRect(0,0,858,734);
var s=2463534242;
function r(){s^=s<<13;s>>>=0;s^=s>>>17;s^=s<<5;s>>>=0;return s/4294967296;}
function n(){var u=r()+1e-9,v=r();return Math.sqrt(-2*Math.log(u))*Math.cos(6.2832*v);}
var C=[-0.4, -0.4, -0.4, -0.4, -0.4, -0.4, -0.4, -0.4, -0.4, -0.4, -0.4, -0.4, -0.4, -0.4, -0.4, -0.4, -0.4, -0.4, -0.4, -0.4, -0.4, -0.4, -0.1, -0.1, -0.1, -0.1, -0.1, -0.1, -0.1, -0.1, 0.0, 0.0, 0.0, 0.0, 0.0, 0.0, 0.0, 0.0, 0.0, 0.0, 0.0, 0.0, 0.0, 0.0, 0.0, 0.0, 0.0, 0.0, 0.0, 0.0, 0.0, 0.0, 0.0, 0.0, 0.0, 0.1, 0.1, 0.1, 0.1, 0.1, 0.1, 0.1, 0.1, 0.1, 0.1, 0.1, 0.1, 0.1, 0.1, 0.1, 0.3, 0.3, 0.3, 0.3, 0.3, 0.3, 0.3, 0.3, 0.3, 0.3, 0.3, 0.3, 0.3, 0.3, 0.3, 0.3, 0.3, 0.3, 0.3, 0.3, 0.3, 0.3, 0.3, 0.3, 0.3, 0.2, 0.2, 0.2, 0.2, 0.2, 0.2, 0.2, 0.2, 0.2, 0.2, 0.2, 0.2, -99, -0.1, -99, -0.1, -99, -0.1, -99, -0.1, -99, -0.1, -99, -0.1, -99, -0.1, -99, -99, -99, -99, -0.3, -99, -99, -99, -99, -0.3, -99, -99, -99, -99, -0.3, -99, -99, -99, -99, -0.3, -99, -99, -99, -99, -0.3, -99, -99, -99, -99, -0.3, -99, -99, -99, -99];
function B(x,y){var ax=292,ay=445,bx=345,by=628,dx=bx-ax,dy=by-ay,t=((x-ax)*dx+(y-ay)*dy)/(dx*dx+dy*dy);t=Math.max(0,Math.min(1,t));var ex=x-(ax+t*dx),ey=(y-(ay+t*dy))*0.35;return 4.5*Math.exp(-(ex*ex+ey*ey)/(2*64));}
var RW=[];for(var i=0;i<406;i++)RW.push(0.1*n());
for(var k=0;k<155;k++){var o=C[k];if(o<-50)continue;
var x0=Math.round(124+5.4*k)-99,x1=Math.round(124+5.4*(k+1))-99,m=0,ep=-Math.log(1-r()+1e-12);
for(var i=0;i<406;i++){
m=0.88*m+(k<22?0.32:0.12)*n();
var e=-Math.log(1-r()+1e-12);
var v=8*Math.log(e)/Math.LN10+o+m+RW[i]+(i<60?3*Math.exp(-(i-14)/8):0)+B(x0+101.7,819.96-1.8125*(i+0.5));
if(v<=0)continue;
var q=Math.min(255,Math.round(v/30*255));
g.fillStyle='#'+L[q];
var y0=Math.round(819.96-1.8125*(i+1))-86,y1=Math.round(819.96-1.8125*i)-86;
g.fillRect(x0,y0,x1-x0,y1-y0);}}
})();</script>
</body></html>
